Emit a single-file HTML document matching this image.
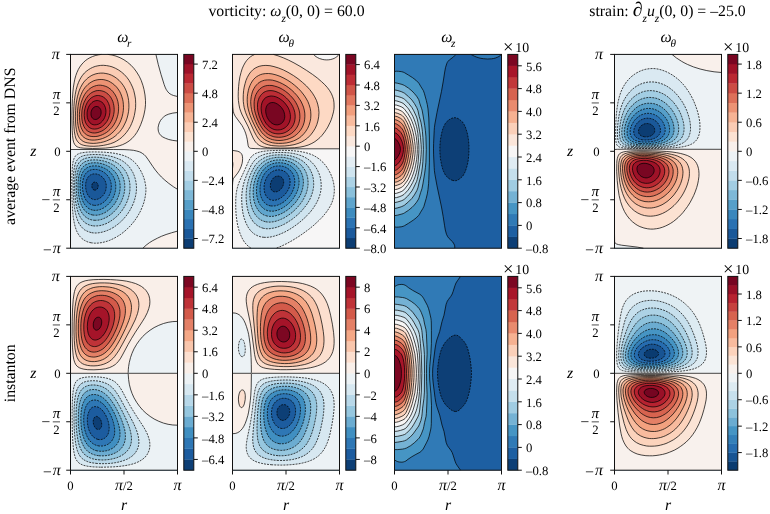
<!DOCTYPE html>
<html><head><meta charset="utf-8"><title>figure</title>
<style>
html,body{margin:0;padding:0;background:#fff}
svg{display:block;will-change:transform}
text{font-family:"Liberation Serif",serif;fill:#000;text-rendering:geometricPrecision}
.tk{font-size:12.7px}
.lb{font-size:15.8px}
.it{font-style:italic}
.pi{font-style:italic;font-size:16px}
.sub{font-size:11.2px}
.sp{fill:none;stroke:#111;stroke-width:1}
.tick{fill:none;stroke:#111;stroke-width:1}
.cl{fill:none;stroke:#000;stroke-width:.72;stroke-linejoin:round}
.cd{stroke-dasharray:2 1.05}
</style></head><body>
<svg width="770" height="514" viewBox="0 0 770 514">
<rect width="770" height="514" fill="#fff"/>
<g><rect x="70.5" y="54.4" width="107" height="193.8" fill="#0c3d73"/>
<path fill="#1a5899" fill-rule="evenodd" d="M70.5 248.2l107 0 0-193.8-107 0zM94.6 190.1l-0.7-0.2-0.7-0.4-0.6-0.7-0.7-1.8-0.1-1.8 0.4-1.2 0.4-0.7 0.4-0.5 0.9-0.6 0.7-0.1 0.6 0 0.7 0.2 0.7 0.3 0.8 0.8 0.6 1.2 0.2 1.8-0.3 1.5-0.7 1.1-0.6 0.6-0.7 0.4-0.7 0.1z"/>
<path fill="#2a71b2" fill-rule="evenodd" d="M70.5 248.2l107 0 0-193.8-107 0zM92.6 199.2l-2-1.1-1.4-1.2-1-1.4-1-1.8-0.9-2.4-0.5-2.5-0.2-3 0.1-2.4 0.5-2.4 0.7-1.8 1-1.9 1.3-1.4 1.4-1 2-0.8 1.3-0.2 2 0 2 0.5 1.4 0.5 1.1 0.6 2.2 1.8 1.3 1.5 1.3 2.2 0.8 2.4 0.3 2.4-0.2 2.4-0.5 2.5-1 2.4-1.3 2-2 2.1-2 1.3-2.1 0.8-1.3 0.3-1.3 0z"/>
<path fill="#3a87bd" fill-rule="evenodd" d="M70.5 248.2l107 0 0-193.8-107 0zM93.9 205.3l-1.3-0.3-1.4-0.4-2.1-1.2-1.9-1.8-1-1.2-1-1.7-1.3-3.2-0.8-3-0.6-3.7-0.1-4.2 0.4-3.6 0.7-3.1 1-2.5 1.4-2.1 0.7-0.8 1.3-1.1 2-1.1 1.3-0.5 1.4-0.3 2.6-0.1 1.4 0.1 2 0.4 2 0.6 1.3 0.6 2.7 1.7 2.4 2.1 1.8 2.4 0.7 1.3 0.8 1.8 0.8 3 0.2 1.8 0 1.8-0.1 1.8-0.3 1.9-0.5 1.8-0.7 1.8-0.9 1.8-0.8 1.4-1.2 1.6-1.1 1.3-1.3 1.2-1.5 1.2-1.6 1-1.4 0.6-2 0.6-1.3 0.3-1.4 0.1z"/>
<path fill="#569fc9" fill-rule="evenodd" d="M70.5 248.2l107 0 0-193.8-107 0zM92.6 210.1l-2-0.6-1.4-0.7-1.3-0.8-1.1-1-1.2-1.2-1.1-1.5-0.9-1.5-0.9-1.8-0.8-2.3-0.6-2-0.9-4.8-0.4-5.5 0.2-4.8 0.7-4.3 1-3.2 0.6-1.4 0.9-1.4 0.9-1.2 0.9-1 2-1.5 1.4-0.6 1.3-0.5 1.3-0.3 2-0.3 3.4 0 2 0.3 2 0.5 2 0.7 2 0.9 2 1.1 1.8 1.3 1.6 1.4 1.3 1.5 1 1.3 1.1 1.8 0.9 1.9 0.6 1.8 0.5 1.8 0.3 2.4 0.1 1.8-0.1 2.4-0.4 2.5-0.6 2.4-0.7 2-1 2.2-1.1 1.9-1.3 1.9-1.4 1.7-1.8 1.8-1.5 1.2-2 1.4-2 1-2 0.8-2 0.5-2 0.3-2-0.1z"/>
<path fill="#7eb8d7" fill-rule="evenodd" d="M70.5 248.2l107 0 0-193.8-107 0zM92.6 215l-2-0.5-1.4-0.6-2-1.2-1.3-1-1.4-1.4-1.3-1.8-1.2-2.1-0.8-1.7-0.9-2.5-0.7-2.4-1.1-5.6-0.3-3.5-0.2-3.1 0-3.6 0.2-3 0.6-4.9 1.1-3.8 1.3-2.9 0.7-1.1 1.3-1.6 1.3-1.1 1.4-0.9 2.7-1.1 2-0.5 2-0.3 4 0 2.7 0.3 2.6 0.6 2.7 0.9 2 0.8 2.7 1.4 2 1.4 1.5 1.3 1.8 1.8 1.4 1.8 1.2 1.8 0.9 1.8 0.9 2.5 0.7 2.4 0.3 2.4 0.2 2.4-0.1 2.4-0.4 3.1-0.6 2.4-0.8 2.4-1 2.4-1.3 2.5-1.5 2.4-1.9 2.3-2 2.1-2 1.7-2 1.5-2 1.2-2.7 1.2-2.6 0.8-2.1 0.4-2.6 0z"/>
<path fill="#a2cde3" fill-rule="evenodd" d="M70.5 248.2l107 0 0-193.8-107 0zM95.2 220.3l-2-0.1-2-0.4-2-0.6-2-1.1-2-1.4-1.3-1.3-1.4-1.7-1.2-1.8-1.2-2.5-0.9-2.3-1.4-4.9-0.6-3.4-0.5-3.3-0.3-3.6-0.2-4.3 0.1-6.6 0.3-3.1 0.4-3 0.5-2.4 0.7-2.4 0.7-1.8 1-1.9 1.3-1.8 1.2-1.2 1.5-1.1 1.3-0.7 2-0.7 2-0.5 2-0.4 2.7-0.1 2.7 0 3.3 0.4 3.4 0.6 2.6 0.8 3.1 1.1 2.5 1.2 2.5 1.5 2 1.6 1.9 1.8 1.6 1.8 1.6 2.4 1.3 2.4 1 2.4 0.8 3.1 0.4 2.4 0.2 3-0.1 3.1-0.4 3-0.7 3-1 3-1.3 3.1-1.6 3-1.7 2.5-2 2.5-2.1 2.3-2.6 2.3-2.7 1.9-2.7 1.5-2.6 1.2-2.7 0.9-2.7 0.5z"/>
<path fill="#c2ddec" fill-rule="evenodd" d="M70.5 248.2l107 0 0-193.8-107 0zM92.6 225.8l-2.7-0.6-2-0.8-2-1.1-2.2-1.7-1.8-2.1-1.4-1.9-1.3-2.6-1.3-3.4-1-3.4-0.9-4.2-0.6-4.2-0.5-4.9-0.2-4.8-0.1-5.5 0.2-4.8 0.3-4.9 0.8-4.8 0.6-2.3 0.7-2 0.7-1.3 1-1.7 1-1.2 1.4-1.2 1.2-0.8 2-1 2.1-0.6 2-0.4 2.6-0.3 2.7-0.2 2.7 0.1 3.3 0.2 4 0.6 3.4 0.8 3.3 1 2.7 1.1 2.7 1.3 2.6 1.7 2.4 1.9 1.8 1.9 2 2.4 1.5 2.4 1.2 2.4 1.2 3 0.7 3.1 0.5 3 0.1 3-0.1 3.7-0.6 3.6-0.9 3.6-1.3 3.7-1.4 3-2.1 3.6-2.1 3.1-2.2 2.6-2.7 2.7-2.9 2.5-3.1 2.1-3.3 1.9-2.7 1.2-3.3 1-2.7 0.5-3.4 0.2z"/>
<path fill="#dae9f2" fill-rule="evenodd" d="M70.5 248.2l107 0 0-193.8-107 0zM91.2 232.6l-2.6-0.8-2.7-1.2-1.4-0.8-1.3-1.1-2-2.1-1.9-2.6-1.4-2.9-1.2-3.2-1-3.6-1.1-5.5-0.7-6-0.5-7.3-0.2-7.3 0-7.8 0.4-6.7 0.5-4.8 0.9-4.3 0.6-1.8 0.9-1.8 0.8-1.2 1.2-1.4 1.4-1 1.3-0.8 2-0.8 2-0.5 2.7-0.4 3.3-0.3 3.4-0.1 4 0.1 4 0.3 4 0.6 3.4 0.6 3.3 0.8 3.3 1.2 3.4 1.4 2.6 1.5 2.5 1.8 2.1 1.8 2.2 2.4 1.7 2.5 1.8 3 1.3 3 1 3.1 0.7 3 0.5 3.6 0.1 3-0.2 3.7-0.6 3.6-0.9 3.6-1.2 3.7-1.6 3.6-1.9 3.6-1.9 3.1-2.2 3-2.7 3.1-2.9 3-3.1 2.5-3.3 2.4-3.4 1.9-3.3 1.5-3.4 1.2-3.3 0.8-3.4 0.5-3.3 0z"/>
<path fill="#edf2f5" fill-rule="evenodd" d="M70.5 248.2l107 0 0-193.8-107 0zM91.2 242.8l-3.3-0.8-2-0.9-1.4-0.7-1.3-0.8-1.3-1.1-2-2.1-1.9-2.7-1.5-3-1.3-3.8-1-4.1-1-6.3-0.7-7.7-0.5-10.3-0.2-11.5 0.1-10.3 0.4-8.4 0.3-3.1 0.4-3 0.4-1.8 0.6-1.8 0.9-1.8 0.9-1.2 1.4-1.1 1.3-0.7 1.9-0.7 2.1-0.4 2.7-0.4 3.4-0.3 5.3-0.1 5.4 0.1 5.3 0.2 5.4 0.5 4 0.5 4 0.8 3.3 0.8 3.4 1.1 3.2 1.5 2.8 1.6 2.5 2 2.5 2.4 2.4 3 2.3 3.7 1.8 3.6 1.5 3.6 1.1 3.7 0.7 3.6 0.4 3 0 3.7-0.4 3.6-0.6 3.6-1.1 4.3-1.3 3.6-1.8 4.3-2.3 4.2-2.2 3.6-2.7 3.7-3.1 3.6-3 3-3.4 3-3.2 2.5-3.5 2.2-4 2.2-4 1.8-4 1.3-3.4 0.8-4 0.5-3.3 0.1z"/>
<path fill="#f9f0eb" fill-rule="evenodd" d="M142.9 248.2l34.6 0 0-17.1-6 1.7-5.4 1.7-4.7 1.8-4 1.9-4.6 2.4-3.4 2.1-3.3 2.5zM70.5 207l0-57.5 43.2 0 10.3 0.1 5.4 0.3 4 0.4 3.3 0.7 2.7 0.8 1.6 0.7 1.7 1.1 1.4 1 1.5 1.5 2.3 3.1 4.9 7.3 2.6 3.6 2.7 3.3 3.3 3.6 3.4 3.1 4 3.3 4.7 3.4 4 2.5 0-48.3-4.7-0.6-4-0.9-3.3-1.2-2.7-1.3-1.9-1.4-1.5-1.9-0.5-1.2-0.5-1.2-0.3-2.4 0-1.2 0.3-1.8 0.5-1.9 0.7-1.8 1-1.8 0.8-1.2 2.1-2.1 1.3-1.1 1.3-0.8 2.7-1.1 4-1 4.7-0.6 0-16-4-1-2-0.8-1.4-0.8-1-0.7-1.2-1.3-0.9-1.2-0.9-1.4-1-2.2-1-2.7-3.1-10-2.7-9.7-2.4-10.3-85.4 0z"/>
<path fill="#fce2d2" fill-rule="evenodd" d="M84.5 148.3l6.1 0.2 7.3-0.1 6-0.2 5.8-0.5 4.2-0.6 3.4-0.7 3.8-1.2 2.9-1.2 3.3-1.8 2.6-1.8 2.6-2.4 2.1-2.4 2.2-3.1 1.7-3 1.7-3.6 1.7-4.3 1.7-5.4 1.1-4.9 0.7-4.8 0.2-4.3-0.4-5.4-0.8-5.5-1.1-4.8-1.6-4.8-1.9-4.3-2.4-4.2-2.7-3.9-3-3.4-3.4-3-3.6-2.7-4-2.2-4.1-1.7-3.3-1-4-0.7-1.5-0.2-6.4 0-2.8 0.4-2.7 0.6-2 0.6-2.7 1.1-2.6 1.4-2.7 1.8-2 1.7-2 2.1-1.8 2.4-1.5 2.4-1.2 2.5-1.2 3-1.4 4.8-1 5.1-0.8 6.4-0.6 7.9-0.4 10.3-0.1 10.9 0.2 9.7 0.5 7.3 0.6 3.4 0.6 2.5 1 1.9 1 1.2 1.4 1 2 0.7 2 0.4z"/>
<path fill="#fbccb4" fill-rule="evenodd" d="M86.1 145.8l3.8 0.4 4 0.1 4.7-0.3 4.7-0.6 3.9-0.8 3.4-0.9 3.4-1.3 2.6-1.4 2.9-1.8 2.3-1.8 2.5-2.5 2.1-2.4 2.1-3 1.8-3 1.4-3.1 1.4-3.6 1.2-4.2 0.7-3.7 0.6-4.2 0.1-4.2-0.2-4.3-0.7-4.2-1-4.3-1.3-3.6-1.7-3.6-1.7-3.1-2.2-3-2.7-3-2.8-2.4-2.8-2-3.3-1.8-3.3-1.4-2.7-0.7-2.7-0.5-3.3-0.3-2.7 0.1-2.7 0.4-2.7 0.6-2.6 1-2 1-2 1.2-2.4 1.8-1.7 1.5-2 2.4-1.3 1.9-1.5 2.6-1.2 2.6-1.1 2.9-1.2 4.2-1 5.2-0.8 5.7-0.5 6.1-0.3 6.6 0 7.3 0.3 6.1 0.5 5.4 0.7 3.7 0.6 2.4 0.8 1.9 1.4 2 1.5 1.5 1.8 1.1 2 0.7z"/>
<path fill="#f6b394" fill-rule="evenodd" d="M87.2 142.8l2.7 0.4 3.3 0.2 3.4-0.2 4-0.6 3.3-0.8 2.7-0.9 3.4-1.5 2.5-1.4 2.6-1.8 2.1-1.9 2.4-2.4 1.9-2.4 1.6-2.4 1.6-3.1 1.4-3 1-3 0.8-3 0.7-3.7 0.3-3.6 0-3.6-0.3-3.7-0.5-3-0.9-3.6-1.1-3.1-1.4-2.9-1.5-2.5-1.9-2.5-2.2-2.4-2.5-2.1-2.6-1.8-2.7-1.4-2.7-1-2.7-0.6-2.6-0.4-2.7 0-2 0.2-2.7 0.5-2 0.7-2 0.8-2 1.2-2 1.4-1.3 1.2-1.9 1.9-1.5 1.9-1.3 2.1-1.4 2.6-1.1 2.5-0.9 2.7-1.1 4-0.8 4.2-0.7 4.9-0.3 4.8-0.2 5.5 0.1 4.8 0.3 4.9 0.6 3.6 0.6 3 0.8 2.4 0.9 1.9 1.2 1.8 1.3 1.4 2 1.4 2 0.9z"/>
<path fill="#ec9374" fill-rule="evenodd" d="M89.6 139.8l2.3 0.3 2.7 0 2.6-0.3 2.7-0.5 2.7-0.8 2.7-1.1 2.4-1.2 2.3-1.5 1.9-1.6 2-1.8 1.6-1.8 1.8-2.4 1.5-2.4 1.3-2.5 1-2.4 1-3 0.7-3 0.5-3.1 0.2-3-0.1-3-0.3-3.1-0.5-2.4-0.9-3-0.9-2.4-1.2-2.5-1.6-2.4-1.4-1.8-2-2-2-1.6-2-1.3-2.2-1.2-2.5-0.8-2-0.5-2-0.2-2 0-2 0.2-2 0.4-2 0.6-2 1-2 1.2-2 1.6-1.3 1.3-1.4 1.5-1.6 2.2-1.1 1.9-1.3 2.9-1 2.5-0.7 2.4-0.9 3.6-0.6 3.7-0.4 3.6-0.2 3.7 0 4.2 0.1 3.6 0.5 3.7 0.6 3 0.7 2.4 1.1 2.4 0.8 1.5 1.3 1.6 1.4 1.2 1.9 1.2 2.1 0.8z"/>
<path fill="#dd7059" fill-rule="evenodd" d="M89.9 136.2l2 0.3 2 0.1 2-0.1 2.1-0.3 2.6-0.8 2-0.8 2-1 2-1.2 2-1.6 1.4-1.3 1.7-1.8 1.4-1.8 1.2-1.9 1.3-2.4 1-2.4 0.8-2.4 0.6-2.4 0.4-2.5 0.2-3 0-2.4-0.3-2.4-0.4-2.5-0.7-2.4-0.7-1.8-1.2-2.4-1.2-1.8-1.4-1.9-1.4-1.4-1.3-1.1-2-1.4-2.1-1-2-0.6-1.3-0.3-2-0.3-2 0-2 0.3-2 0.6-1.4 0.5-2 1.1-1.3 0.9-1.3 1.1-1.4 1.4-1.3 1.6-1.4 2-1.9 3.9-1.5 4.2-0.6 2.5-0.5 3-0.4 3-0.2 3.1 0.1 3 0.2 3 0.3 2.4 0.5 2.7 0.7 2.2 0.8 1.8 1 1.8 0.9 1.2 1.3 1.3 1.4 1 1.3 0.7z"/>
<path fill="#cc4c44" fill-rule="evenodd" d="M90.9 132.5l1.7 0.4 2 0.1 1.3-0.1 2-0.4 1.8-0.6 1.6-0.6 2-1.1 1.3-0.9 1.3-1.1 1.8-1.7 2.3-3.1 1.1-1.8 0.9-1.8 1.3-3.6 0.4-1.8 0.4-2.5 0.1-2.4-0.1-1.8-0.3-2.4-0.4-1.8-0.5-1.9-0.8-1.8-0.8-1.6-0.9-1.4-1.1-1.4-1.3-1.3-1.4-1.1-1.3-0.8-1.4-0.7-2-0.6-2.6-0.4-2.1 0.1-1.3 0.2-2.7 1-1.3 0.7-1.3 0.9-1.4 1.1-1.3 1.4-2 2.8-1.8 3.5-1.2 3.7-0.9 4.2-0.3 4.9 0.2 4.2 0.4 2.4 0.4 1.8 1.2 3.1 1.1 1.8 0.9 1.2 1.3 1.2 0.9 0.6 1.1 0.6z"/>
<path fill="#ba2832" fill-rule="evenodd" d="M92.5 128.9l2.1 0.2 2.6-0.3 2.7-1 1.4-0.7 1.3-0.9 2.3-2.2 1.9-2.4 1.6-3 1-3 0.5-3.1 0.1-3-0.4-3-1-3.1-1.3-2.5-0.8-1.1-1.2-1.3-2-1.5-1.4-0.7-1.3-0.4-2-0.4-1.4 0-1.3 0.2-1.3 0.4-1.4 0.6-2 1.2-2 1.9-1.8 2.4-1.5 3.1-0.9 3-0.7 3.6-0.1 3.7 0.4 3.6 0.8 3 1.2 2.3 1.5 2 1.8 1.4 1.3 0.6z"/>
<path fill="#9f1228" fill-rule="evenodd" d="M93.1 124.7l1.5 0.2 2-0.2 2-0.6 2-1.2 1.9-1.9 1.3-1.8 0.9-1.8 0.8-2.4 0.4-2.5 0-2.4-0.5-2.4-0.8-2.1-1.3-2.1-1.4-1.3-1.3-0.8-2-0.7-1.4-0.2-2 0.3-2 0.8-1.3 1-1.3 1.3-1.4 1.9-0.9 1.9-0.8 2.4-0.4 2.4 0 2.5 0.2 2.4 0.6 2 0.8 1.6 1.2 1.7 1.3 1.1z"/>
<path fill="#790622" fill-rule="evenodd" d="M93.9 119.2l0.7 0.2 1.3 0.1 1.1-0.3 0.9-0.5 1-0.7 1-1.2 0.6-1.2 0.4-1.2 0.2-1.3 0-1.2-0.1-1.2-0.4-1.2-0.7-1.2-0.6-0.7-0.7-0.6-1.4-0.5-1.3 0-0.7 0.1-1.3 0.7-0.7 0.5-0.8 1.1-0.7 1.2-0.4 1.2-0.3 1.2 0 1.3 0 1.2 0.3 1.2 0.6 1.2 0.4 0.6 0.9 0.8z"/>
<path class="cl" d="M70.5 248.2l0-3.7M177.5 231.1l-6 1.7-5.4 1.7-4.7 1.8-4 1.9-4.6 2.4-3.4 2.1-3.3 2.5-3.2 3M70.5 207.1l0-57.6 43.2 0 10.3 0.1 5.4 0.3 4 0.4 3.3 0.7 2.7 0.8 1.6 0.7 1.7 1.1 1.4 1 1.5 1.5 2.3 3.1 4.9 7.3 2.6 3.6 2.7 3.3 3.3 3.6 3.4 3.1 4 3.3 4.7 3.4 4 2.5M177.5 141l-4.7-0.6-4-0.9-3.3-1.2-2.7-1.3-1.9-1.4-1.5-1.9-0.5-1.2-0.5-1.2-0.3-2.4 0-1.2 0.3-1.8 0.5-1.9 0.7-1.8 1-1.8 0.8-1.2 2.1-2.1 1.3-1.1 1.3-0.8 2.7-1.1 4-1 4.7-0.6M177.5 96.5l-4-1-2-0.8-1.4-0.8-1-0.7-1.2-1.3-0.9-1.2-0.9-1.4-1-2.2-1-2.7-3.1-10-2.7-9.7-2.4-10.3M101.4 54.4l-2.8 0.4-3.4 0.8-2.6 0.9-2.7 1.2-2.7 1.6-2 1.5-2 1.9-2 2.3-1.5 2.1-1.4 2.4-1.4 3.1-1.1 3-1 3.6-0.7 3.7-0.7 4.2-0.5 4.8-0.5 6.7-0.3 7.9-0.2 9.1 0.1 8.4 0.2 6.7 0.3 4.9 0.6 4.2 0.7 2.9 1 1.9 1 1.2 1.4 1 1.3 0.5 2 0.5 3.4 0.4 8.7 0.3 7.3-0.2 5.4-0.2 4.7-0.5 5.3-0.8 3.9-1 3.5-1.2 3.3-1.6 3.1-2 2.8-2.4 2.7-3 2.2-3.1 2-3.6 1.9-4.2 1.8-4.9 1.4-4.8 1.1-5.5 0.5-4.8 0-4.3-0.5-5.4-1-5.5-1.1-4.2-1.7-4.9-2-4.2-2.6-4.2-2.6-3.5-2.9-3.2-3.5-3-3.6-2.5-4-2.1-4-1.6-4-1.1-4.2-0.6M86.1 145.8l3.8 0.4 4 0.1 4.7-0.3 4.7-0.6 3.9-0.8 3.4-0.9 3.4-1.3 2.6-1.4 2.9-1.8 2.3-1.8 2.5-2.5 2.1-2.4 2.1-3 1.8-3 1.4-3.1 1.4-3.6 1.2-4.2 0.7-3.7 0.6-4.2 0.1-4.2-0.2-4.3-0.7-4.2-1-4.3-1.3-3.6-1.7-3.6-1.7-3.1-2.2-3-2.7-3-2.8-2.4-2.8-2-3.3-1.8-3.3-1.4-2.7-0.7-2.7-0.5-3.3-0.3-2.7 0.1-2.7 0.4-2.7 0.6-2.6 1-2 1-2 1.2-2.4 1.8-1.7 1.5-2 2.4-1.3 1.9-1.5 2.6-1.2 2.6-1.1 2.9-1.2 4.2-1 5.2-0.8 5.7-0.5 6.1-0.3 6.6 0 7.3 0.3 6.1 0.5 5.4 0.7 3.7 0.6 2.4 0.8 1.9 1.4 2 1.5 1.5 1.8 1.1 2 0.7zM87.2 142.8l2.7 0.4 3.3 0.2 3.4-0.2 4-0.6 3.3-0.8 2.7-0.9 3.4-1.5 2.5-1.4 2.6-1.8 2.1-1.9 2.4-2.4 1.9-2.4 1.6-2.4 1.6-3.1 1.4-3 1-3 0.8-3 0.7-3.7 0.3-3.6 0-3.6-0.3-3.7-0.5-3-0.9-3.6-1.1-3.1-1.4-2.9-1.5-2.5-1.9-2.5-2.2-2.4-2.5-2.1-2.6-1.8-2.7-1.4-2.7-1-2.7-0.6-2.6-0.4-2.7 0-2 0.2-2.7 0.5-2 0.7-2 0.8-2 1.2-2 1.4-1.3 1.2-1.9 1.9-1.5 1.9-1.3 2.1-1.4 2.6-1.1 2.5-0.9 2.7-1.1 4-0.8 4.2-0.7 4.9-0.3 4.8-0.2 5.5 0.1 4.8 0.3 4.9 0.6 3.6 0.6 3 0.8 2.4 0.9 1.9 1.2 1.8 1.3 1.4 2 1.4 2 0.9zM89.6 139.8l2.3 0.3 2.7 0 2.6-0.3 2.7-0.5 2.7-0.8 2.7-1.1 2.4-1.2 2.3-1.5 1.9-1.6 2-1.8 1.6-1.8 1.8-2.4 1.5-2.4 1.3-2.5 1-2.4 1-3 0.7-3 0.5-3.1 0.2-3-0.1-3-0.3-3.1-0.5-2.4-0.9-3-0.9-2.4-1.2-2.5-1.6-2.4-1.4-1.8-2-2-2-1.6-2-1.3-2.2-1.2-2.5-0.8-2-0.5-2-0.2-2 0-2 0.2-2 0.4-2 0.6-2 1-2 1.2-2 1.6-1.3 1.3-1.4 1.5-1.6 2.2-1.1 1.9-1.3 2.9-1 2.5-0.7 2.4-0.9 3.6-0.6 3.7-0.4 3.6-0.2 3.7 0 4.2 0.1 3.6 0.5 3.7 0.6 3 0.7 2.4 1.1 2.4 0.8 1.5 1.3 1.6 1.4 1.2 1.9 1.2 2.1 0.8zM89.9 136.2l2 0.3 2 0.1 2-0.1 2.1-0.3 2.6-0.8 2-0.8 2-1 2-1.2 2-1.6 1.4-1.3 1.7-1.8 1.4-1.8 1.2-1.9 1.3-2.4 1-2.4 0.8-2.4 0.6-2.4 0.4-2.5 0.2-3 0-2.4-0.3-2.4-0.4-2.5-0.7-2.4-0.7-1.8-1.2-2.4-1.2-1.8-1.4-1.9-1.4-1.4-1.3-1.1-2-1.4-2.1-1-2-0.6-1.3-0.3-2-0.3-2 0-2 0.3-2 0.6-1.4 0.5-2 1.1-1.3 0.9-1.3 1.1-1.4 1.4-1.3 1.6-1.4 2-1.9 3.9-1.5 4.2-0.6 2.5-0.5 3-0.4 3-0.2 3.1 0.1 3 0.2 3 0.3 2.4 0.5 2.7 0.7 2.2 0.8 1.8 1 1.8 0.9 1.2 1.3 1.3 1.4 1 1.3 0.7zM90.9 132.5l1.7 0.4 2 0.1 1.3-0.1 2-0.4 1.8-0.6 1.6-0.6 2-1.1 1.3-0.9 1.3-1.1 1.8-1.7 2.3-3.1 1.1-1.8 0.9-1.8 1.3-3.6 0.4-1.8 0.4-2.5 0.1-2.4-0.1-1.8-0.3-2.4-0.4-1.8-0.5-1.9-0.8-1.8-0.8-1.6-0.9-1.4-1.1-1.4-1.3-1.3-1.4-1.1-1.3-0.8-1.4-0.7-2-0.6-2.6-0.4-2.1 0.1-1.3 0.2-2.7 1-1.3 0.7-1.3 0.9-1.4 1.1-1.3 1.4-2 2.8-1.8 3.5-1.2 3.7-0.9 4.2-0.3 4.9 0.2 4.2 0.4 2.4 0.4 1.8 1.2 3.1 1.1 1.8 0.9 1.2 1.3 1.2 0.9 0.6 1.1 0.6zM92.5 128.9l2.1 0.2 2.6-0.3 2.7-1 1.4-0.7 1.3-0.9 2.3-2.2 1.9-2.4 1.6-3 1-3 0.5-3.1 0.1-3-0.4-3-1-3.1-1.3-2.5-0.8-1.1-1.2-1.3-2-1.5-1.4-0.7-1.3-0.4-2-0.4-1.4 0-1.3 0.2-1.3 0.4-1.4 0.6-2 1.2-2 1.9-1.8 2.4-1.5 3.1-0.9 3-0.7 3.6-0.1 3.7 0.4 3.6 0.8 3 1.2 2.3 1.5 2 1.8 1.4 1.3 0.6zM93.1 124.7l1.5 0.2 2-0.2 2-0.6 2-1.2 1.9-1.9 1.3-1.8 0.9-1.8 0.8-2.4 0.4-2.5 0-2.4-0.5-2.4-0.8-2.1-1.3-2.1-1.4-1.3-1.3-0.8-2-0.7-1.4-0.2-2 0.3-2 0.8-1.3 1-1.3 1.3-1.4 1.9-0.9 1.9-0.8 2.4-0.4 2.4 0 2.5 0.2 2.4 0.6 2 0.8 1.6 1.2 1.7 1.3 1.1zM93.9 119.2l0.7 0.2 1.3 0.1 1.1-0.3 0.9-0.5 1-0.7 1-1.2 0.6-1.2 0.4-1.2 0.2-1.3 0-1.2-0.1-1.2-0.4-1.2-0.7-1.2-0.6-0.7-0.7-0.6-1.4-0.5-1.3 0-0.7 0.1-1.3 0.7-0.7 0.5-0.8 1.1-0.7 1.2-0.4 1.2-0.3 1.2 0 1.3 0 1.2 0.3 1.2 0.6 1.2 0.4 0.6 0.9 0.8z"/>
<path class="cl cd" d="M94.6 190.1l-0.7-0.2-0.7-0.4-0.6-0.7-0.7-1.8-0.1-1.8 0.4-1.2 0.4-0.7 0.4-0.5 0.9-0.6 0.7-0.1 0.6 0 0.7 0.2 0.7 0.3 0.8 0.8 0.6 1.2 0.2 1.8-0.3 1.5-0.7 1.1-0.6 0.6-0.7 0.4-0.7 0.1zM92.6 199.2l-2-1.1-1.4-1.2-1-1.4-1-1.8-0.9-2.4-0.5-2.5-0.2-3 0.1-2.4 0.5-2.4 0.7-1.8 1-1.9 1.3-1.4 1.4-1 2-0.8 1.3-0.2 2 0 2 0.5 1.4 0.5 1.1 0.6 2.2 1.8 1.3 1.5 1.3 2.2 0.8 2.4 0.3 2.4-0.2 2.4-0.5 2.5-1 2.4-1.3 2-2 2.1-2 1.3-2.1 0.8-1.3 0.3-1.3 0zM93.9 205.3l-1.3-0.3-1.4-0.4-2.1-1.2-1.9-1.8-1-1.2-1-1.7-1.3-3.2-0.8-3-0.6-3.7-0.1-4.2 0.4-3.6 0.7-3.1 1-2.5 1.4-2.1 0.7-0.8 1.3-1.1 2-1.1 1.3-0.5 1.4-0.3 2.6-0.1 1.4 0.1 2 0.4 2 0.6 1.3 0.6 2.7 1.7 2.4 2.1 1.8 2.4 0.7 1.3 0.8 1.8 0.8 3 0.2 1.8 0 1.8-0.1 1.8-0.3 1.9-0.5 1.8-0.7 1.8-0.9 1.8-0.8 1.4-1.2 1.6-1.1 1.3-1.3 1.2-1.5 1.2-1.6 1-1.4 0.6-2 0.6-1.3 0.3-1.4 0.1zM92.6 210.1l-2-0.6-1.4-0.7-1.3-0.8-1.1-1-1.2-1.2-1.1-1.5-0.9-1.5-0.9-1.8-0.8-2.3-0.6-2-0.9-4.8-0.4-5.5 0.2-4.8 0.7-4.3 1-3.2 0.6-1.4 0.9-1.4 0.9-1.2 0.9-1 2-1.5 1.4-0.6 1.3-0.5 1.3-0.3 2-0.3 3.4 0 2 0.3 2 0.5 2 0.7 2 0.9 2 1.1 1.8 1.3 1.6 1.4 1.3 1.5 1 1.3 1.1 1.8 0.9 1.9 0.6 1.8 0.5 1.8 0.3 2.4 0.1 1.8-0.1 2.4-0.4 2.5-0.6 2.4-0.7 2-1 2.2-1.1 1.9-1.3 1.9-1.4 1.7-1.8 1.8-1.5 1.2-2 1.4-2 1-2 0.8-2 0.5-2 0.3-2-0.1zM92.6 215l-2-0.5-1.4-0.6-2-1.2-1.3-1-1.4-1.4-1.3-1.8-1.2-2.1-0.8-1.7-0.9-2.5-0.7-2.4-1.1-5.6-0.3-3.5-0.2-3.1 0-3.6 0.2-3 0.6-4.9 1.1-3.8 1.3-2.9 0.7-1.1 1.3-1.6 1.3-1.1 1.4-0.9 2.7-1.1 2-0.5 2-0.3 4 0 2.7 0.3 2.6 0.6 2.7 0.9 2 0.8 2.7 1.4 2 1.4 1.5 1.3 1.8 1.8 1.4 1.8 1.2 1.8 0.9 1.8 0.9 2.5 0.7 2.4 0.3 2.4 0.2 2.4-0.1 2.4-0.4 3.1-0.6 2.4-0.8 2.4-1 2.4-1.3 2.5-1.5 2.4-1.9 2.3-2 2.1-2 1.7-2 1.5-2 1.2-2.7 1.2-2.6 0.8-2.1 0.4-2.6 0zM95.2 220.3l-2-0.1-2-0.4-2-0.6-2-1.1-2-1.4-1.3-1.3-1.4-1.7-1.2-1.8-1.2-2.5-0.9-2.3-1.4-4.9-0.6-3.4-0.5-3.3-0.3-3.6-0.2-4.3 0.1-6.6 0.3-3.1 0.4-3 0.5-2.4 0.7-2.4 0.7-1.8 1-1.9 1.3-1.8 1.2-1.2 1.5-1.1 1.3-0.7 2-0.7 2-0.5 2-0.4 2.7-0.1 2.7 0 3.3 0.4 3.4 0.6 2.6 0.8 3.1 1.1 2.5 1.2 2.5 1.5 2 1.6 1.9 1.8 1.6 1.8 1.6 2.4 1.3 2.4 1 2.4 0.8 3.1 0.4 2.4 0.2 3-0.1 3.1-0.4 3-0.7 3-1 3-1.3 3.1-1.6 3-1.7 2.5-2 2.5-2.1 2.3-2.6 2.3-2.7 1.9-2.7 1.5-2.6 1.2-2.7 0.9-2.7 0.5zM92.6 225.8l-2.7-0.6-2-0.8-2-1.1-2.2-1.7-1.8-2.1-1.4-1.9-1.3-2.6-1.3-3.4-1-3.4-0.9-4.2-0.6-4.2-0.5-4.9-0.2-4.8-0.1-5.5 0.2-4.8 0.3-4.9 0.8-4.8 0.6-2.3 0.7-2 0.7-1.3 1-1.7 1-1.2 1.4-1.2 1.2-0.8 2-1 2.1-0.6 2-0.4 2.6-0.3 2.7-0.2 2.7 0.1 3.3 0.2 4 0.6 3.4 0.8 3.3 1 2.7 1.1 2.7 1.3 2.6 1.7 2.4 1.9 1.8 1.9 2 2.4 1.5 2.4 1.2 2.4 1.2 3 0.7 3.1 0.5 3 0.1 3-0.1 3.7-0.6 3.6-0.9 3.6-1.3 3.7-1.4 3-2.1 3.6-2.1 3.1-2.2 2.6-2.7 2.7-2.9 2.5-3.1 2.1-3.3 1.9-2.7 1.2-3.3 1-2.7 0.5-3.4 0.2zM91.2 232.6l-2.6-0.8-2.7-1.2-1.4-0.8-1.3-1.1-2-2.1-1.9-2.6-1.4-2.9-1.2-3.2-1-3.6-1.1-5.5-0.7-6-0.5-7.3-0.2-7.3 0-7.8 0.4-6.7 0.5-4.8 0.9-4.3 0.6-1.8 0.9-1.8 0.8-1.2 1.2-1.4 1.4-1 1.3-0.8 2-0.8 2-0.5 2.7-0.4 3.3-0.3 3.4-0.1 4 0.1 4 0.3 4 0.6 3.4 0.6 3.3 0.8 3.3 1.2 3.4 1.4 2.6 1.5 2.5 1.8 2.1 1.8 2.2 2.4 1.7 2.5 1.8 3 1.3 3 1 3.1 0.7 3 0.5 3.6 0.1 3-0.2 3.7-0.6 3.6-0.9 3.6-1.2 3.7-1.6 3.6-1.9 3.6-1.9 3.1-2.2 3-2.7 3.1-2.9 3-3.1 2.5-3.3 2.4-3.4 1.9-3.3 1.5-3.4 1.2-3.3 0.8-3.4 0.5-3.3 0zM91.2 242.8l-3.3-0.8-2-0.9-1.4-0.7-1.3-0.8-1.3-1.1-2-2.1-1.9-2.7-1.5-3-1.3-3.8-1-4.1-1-6.3-0.7-7.7-0.5-10.3-0.2-11.5 0.1-10.3 0.4-8.4 0.3-3.1 0.4-3 0.4-1.8 0.6-1.8 0.9-1.8 0.9-1.2 1.4-1.1 1.3-0.7 1.9-0.7 2.1-0.4 2.7-0.4 3.4-0.3 5.3-0.1 5.4 0.1 5.3 0.2 5.4 0.5 4 0.5 4 0.8 3.3 0.8 3.4 1.1 3.2 1.5 2.8 1.6 2.5 2 2.5 2.4 2.4 3 2.3 3.7 1.8 3.6 1.5 3.6 1.1 3.7 0.7 3.6 0.4 3 0 3.7-0.4 3.6-0.6 3.6-1.1 4.3-1.3 3.6-1.8 4.3-2.3 4.2-2.2 3.6-2.7 3.7-3.1 3.6-3 3-3.4 3-3.2 2.5-3.5 2.2-4 2.2-4 1.8-4 1.3-3.4 0.8-4 0.5-3.3 0.1z"/></g>
<rect class="sp" x="70.5" y="54.4" width="107" height="193.8"/>
<rect x="183.8" y="238.36" width="10" height="9.99" fill="#0c3d73"/>
<rect x="183.8" y="228.67" width="10" height="9.99" fill="#1a5899"/>
<rect x="183.8" y="218.98" width="10" height="9.99" fill="#2a71b2"/>
<rect x="183.8" y="209.29" width="10" height="9.99" fill="#3a87bd"/>
<rect x="183.8" y="199.60" width="10" height="9.99" fill="#569fc9"/>
<rect x="183.8" y="189.91" width="10" height="9.99" fill="#7eb8d7"/>
<rect x="183.8" y="180.22" width="10" height="9.99" fill="#a2cde3"/>
<rect x="183.8" y="170.53" width="10" height="9.99" fill="#c2ddec"/>
<rect x="183.8" y="160.84" width="10" height="9.99" fill="#dae9f2"/>
<rect x="183.8" y="151.15" width="10" height="9.99" fill="#edf2f5"/>
<rect x="183.8" y="141.46" width="10" height="9.99" fill="#f9f0eb"/>
<rect x="183.8" y="131.77" width="10" height="9.99" fill="#fce2d2"/>
<rect x="183.8" y="122.08" width="10" height="9.99" fill="#fbccb4"/>
<rect x="183.8" y="112.39" width="10" height="9.99" fill="#f6b394"/>
<rect x="183.8" y="102.70" width="10" height="9.99" fill="#ec9374"/>
<rect x="183.8" y="93.01" width="10" height="9.99" fill="#dd7059"/>
<rect x="183.8" y="83.32" width="10" height="9.99" fill="#cc4c44"/>
<rect x="183.8" y="73.63" width="10" height="9.99" fill="#ba2832"/>
<rect x="183.8" y="63.94" width="10" height="9.99" fill="#9f1228"/>
<rect x="183.8" y="54.25" width="10" height="9.99" fill="#790622"/>
<rect class="sp" x="183.8" y="54.4" width="10" height="193.8"/>
<text class="tk" x="202.1" y="68.79">7.2</text>
<text class="tk" x="202.1" y="97.86">4.8</text>
<text class="tk" x="202.1" y="126.93">2.4</text>
<text class="tk" x="202.1" y="156.00">0</text>
<text class="tk" x="202.1" y="185.07">–2.4</text>
<text class="tk" x="202.1" y="214.14">–4.8</text>
<text class="tk" x="202.1" y="243.21">–7.2</text>
<path class="tick" d="M193.8 64.09h4M193.8 93.16h4M193.8 122.23h4M193.8 151.30h4M193.8 180.37h4M193.8 209.44h4M193.8 238.51h4"/>
<path class="tick" d="M70.5 54.40h-4.3M70.5 102.85h-4.3M70.5 151.30h-4.3M70.5 199.75h-4.3M70.5 248.20h-4.3"/>
<text class="tk pi" text-anchor="end" x="59.7" y="58.70">π</text>
<text class="tk" text-anchor="end" x="60.7" y="155.65">0</text>
<text class="tk pi" text-anchor="end" x="60.7" y="252.50">π</text>
<path class="tick" d="M43.7 249.80h7.3" style="stroke-width:.8"/>
<text class="tk pi" style="font-size:15px" text-anchor="middle" x="56.4" y="98.85">π</text>
<path class="tick" d="M52.8 102.95h7.2" style="stroke-width:.75"/>
<text class="tk" text-anchor="middle" x="56.4" y="115.05">2</text>
<text class="tk pi" style="font-size:15px" text-anchor="middle" x="56.4" y="195.75">π</text>
<path class="tick" d="M52.8 199.85h7.2" style="stroke-width:.75"/>
<text class="tk" text-anchor="middle" x="56.4" y="211.95">2</text>
<path class="tick" d="M42.2 199.65h7.3" style="stroke-width:.8"/>
<text class="lb it" text-anchor="middle" x="33.3" y="156.30">z</text>
<g><rect x="232.5" y="54.4" width="107" height="193.8" fill="#0c3d73"/>
<path fill="#1b5a9c" fill-rule="evenodd" d="M232.5 248.2l107 0 0-193.8-107 0zM274.6 191.9l-1.3-0.4-0.7-0.4-1-1-0.7-1.3-0.4-1.2-0.2-1.8 0.2-1.8 0.4-1.8 0.8-1.8 0.7-1.2 1.1-1.3 1.1-0.8 1.4-0.7 1.3-0.3 1.3 0 1.4 0.3 0.8 0.3 1.2 1 0.7 0.9 0.6 1.2 0.3 1.2 0.1 1.2-0.1 1.2-0.4 1.8-0.5 1.2-0.7 1.3-0.9 1.1-1.2 1.3-1.3 0.8-1.3 0.7-1.3 0.3z"/>
<path fill="#2b73b3" fill-rule="evenodd" d="M232.5 248.2l107 0 0-193.8-107 0zM270.6 199.8l-2-1-1-0.9-1-1.1-1.3-2.4-0.8-2.5-0.4-3.1 0-3 0.5-3 0.6-1.8 0.7-1.8 1.4-2.7 1.6-2.2 2-1.8 2.4-1.5 2.7-0.9 2.6-0.3 2.6 0.3 2.1 0.7 2 1.1 2 1.8 1.4 2 0.9 2.2 0.5 2.5 0 3-0.5 3-0.9 2.4-1.4 2.5-2 2.8-2 2-2.7 2-2.6 1.3-2.7 0.8-1.3 0.1-1.4 0z"/>
<path fill="#3e8cbf" fill-rule="evenodd" d="M232.5 248.2l107 0 0-193.8-107 0zM270.6 205.9l-2-0.5-1.3-0.6-1.4-0.8-1.3-1.2-1.1-1.2-0.9-1.4-0.9-1.7-0.7-1.8-0.5-1.8-0.4-2.4-0.1-1.8 0-2.5 0.2-2.4 0.4-2.4 0.6-2.4 0.6-1.8 1.6-3.7 1.2-1.9 1.3-1.7 1.4-1.4 1.2-1 2.8-1.8 1.5-0.7 1.8-0.6 3.4-0.5 3.3 0.1 2 0.4 1.4 0.5 1.3 0.5 1.6 0.9 2.4 1.8 1.1 1.2 0.9 1.2 0.8 1.2 0.9 1.8 0.8 3.1 0.3 1.8 0 1.8-0.2 3-1 3.6-1.6 3.7-2 3.2-2.7 3.1-1.6 1.6-1.7 1.4-3.4 2.1-3.3 1.4-2 0.5-1.3 0.2-2 0z"/>
<path fill="#5fa5cd" fill-rule="evenodd" d="M232.5 248.2l107 0 0-193.8-107 0zM267.9 210.8l-1.9-0.8-1.4-0.7-2-1.5-1.3-1.4-1.4-1.8-1-1.8-0.7-1.8-0.8-2.5-0.5-2.4-0.4-3 0-2.4 0.1-3.1 0.4-3 0.5-2.4 0.8-3 1-2.5 2-3.8 1.3-2 1.3-1.6 1.7-1.6 1.6-1.3 1.4-0.9 2-1 2-0.8 2-0.5 2.4-0.4 2.3-0.1 2.2 0.1 2.5 0.4 2 0.5 2 0.8 1.5 0.7 1.9 1.2 1.5 1.3 1.2 1.2 1.3 1.4 1 1.6 1 1.8 0.7 1.8 0.5 1.8 0.3 1.9 0.2 1.8-0.1 2.4-0.1 1.8-0.5 2.4-0.7 2.5-0.7 1.8-1 2-1.2 2.2-1.4 2.2-1.7 2.1-1.7 1.8-2 1.9-2 1.6-2 1.4-2 1.2-2.3 1.1-2.4 0.9-2 0.5-2 0.4-2 0-2-0.2z"/>
<path fill="#8ac0db" fill-rule="evenodd" d="M232.5 248.2l107 0 0-193.8-107 0zM267.3 216.1l-2.7-0.8-2-1-1.7-1.2-1.7-1.6-1.3-1.7-1.3-2.2-1.2-2.4-1-3-0.7-3.1-0.4-3-0.1-3 0-3.6 0.4-3.7 0.6-3 1-3.6 1.1-3.1 1.1-2.4 1.3-2.4 1.7-2.4 1.5-1.9 1.4-1.3 2-1.6 2-1.2 2-1 2.4-0.9 2.3-0.6 2.6-0.4 2.7-0.1 2.7 0.1 2.7 0.3 2.6 0.7 2.7 0.9 2 0.9 2 1.2 2 1.6 1.6 1.4 1.5 1.9 1.2 1.8 1 1.8 0.7 1.8 0.6 1.8 0.5 2.5 0.3 2.4 0 2.4-0.3 2.4-0.4 2.4-0.7 2.5-0.8 2.4-1.1 2.4-1.4 2.4-1.6 2.5-1.8 2.4-2.2 2.4-2.4 2.3-2.4 1.9-2.3 1.7-2.7 1.6-2.7 1.4-2.6 1-2 0.6-2.7 0.6-2 0.1-2 0z"/>
<path fill="#acd2e5" fill-rule="evenodd" d="M232.5 248.2l107 0 0-193.8-107 0zM265.3 221.7l-2.7-0.9-2-1-2-1.5-2.3-2.2-1.7-2.4-1.6-3-1.2-3.1-1-3.6-0.6-3.6-0.4-4.3 0-3.6 0.3-4.3 0.7-4.2 0.9-3.6 1.2-3.7 1.5-3.6 1.2-2.4 1.6-2.6 1.8-2.3 1.7-1.8 1.9-1.6 2.1-1.4 2.6-1.4 2.7-0.9 2.6-0.7 3.4-0.6 2.6-0.1 3.4 0 3.3 0.4 2.7 0.5 3.4 0.9 2.6 1.1 2.6 1.4 1.8 1.2 2.2 1.8 1.4 1.5 1.7 2.2 1.2 1.8 1.2 2.4 0.8 2.4 0.7 2.4 0.3 2.5 0.2 2.4-0.1 3-0.3 2.4-0.7 3.1-0.7 2.4-1.3 3-1.2 2.4-1.8 3.1-2 2.7-2.3 2.7-2.3 2.5-2.6 2.4-2.8 2.2-2.7 1.8-2.6 1.7-3.4 1.6-2.7 1.1-2.6 0.9-2.7 0.6-2.7 0.3-2.7 0z"/>
<path fill="#cfe4ef" fill-rule="evenodd" d="M232.5 248.2l107 0 0-193.8-107 0zM263.3 228.3l-2.7-0.9-2.7-1.4-2.7-2.1-2.1-2.3-2-3.1-1.8-3.6-1.2-3.6-1-4.3-0.7-4.8-0.3-4.9 0.1-4.8 0.5-4.9 0.9-4.2 1.1-4.2 1.8-4.9 2-4.2 1.7-3.1 1.6-2.4 1.6-1.8 1.9-1.8 2-1.5 2.6-1.5 2.7-1.2 2.7-0.8 3.3-0.7 4-0.4 4-0.1 4.1 0.2 4 0.5 3.3 0.7 3.7 1.2 3 1.3 2.7 1.5 2 1.4 2 1.8 2.3 2.4 1.7 2.5 1.3 2.4 1.1 2.4 1 3 0.5 2.5 0.3 3 0.1 3-0.2 3-0.6 3.1-0.8 3-1.1 3-1.4 3.1-1.7 3-2.1 3-2.4 3-2.7 3.1-2.7 2.6-3.3 2.8-3.3 2.5-3.4 2.2-3.3 2-3.4 1.6-3.3 1.3-3.4 1-3.3 0.6-2.7 0.3-2.7-0.1z"/>
<path fill="#e3edf3" fill-rule="evenodd" d="M232.5 248.2l107 0 0-193.8-107 0zM263.9 237.3l-2-0.2-2-0.5-2-0.7-1.3-0.6-1.9-1-1.5-1.1-1.3-1.2-1.3-1.4-1.4-1.7-1.2-1.9-2.1-4.1-1.6-4.4-1.4-5.4-0.8-6.1-0.4-6 0.1-6.1 0.6-5.4 1-4.9 1.4-4.8 2.6-6.7 2.9-6.1 1.6-3 1.7-2.4 1.6-1.9 2-1.8 2-1.3 2.7-1.3 3.4-1.2 3.3-0.7 4.7-0.7 4.7-0.3 5.3 0.1 5.4 0.3 4.7 0.7 4 0.9 4 1.3 3.3 1.5 2.7 1.6 2.7 2 2.2 2 2.1 2.4 1.7 2.5 1.7 3 1.3 3 1 3 0.6 3.1 0.4 3 0.1 3.6-0.2 3.1-0.5 3-0.8 3-1.3 3.6-1.5 3.1-1.7 3-2.4 3.6-2.4 3.1-3.3 3.6-3.1 3-4 3.5-3.3 2.6-4 2.8-4 2.5-4 2.2-4.1 1.8-3.3 1.3-4 1.2-3.3 0.7-3.4 0.3z"/>
<path fill="#f7f6f6" fill-rule="evenodd" d="M232.5 248.2l18.4 0-1.7-1.2-1.5-1.2-1.7-1.8-1.5-1.8-2.2-3.7-1.2-2.4-1-2.4-1.7-5.5-1.4-6.6-0.9-6.7-0.4-7.3 0-6 0.3-6.1 0.6-4.8 1-4.3 0.8-2.4 1.2-3 4.9-10.6 4.1-9.2 1.8-3.2 1-1.2 1.1-1.3 1.4-1 1.3-0.8 2.7-1.1 4-1 5.4-0.8 6-0.4 7.3-0.1 6.7 0.1 6.7 0.4 5.4 0.6 5.3 1 4 1.1 3.8 1.4 3.5 1.9 3.5 2.4 3.3 3 3.1 3.6 2.4 3.7 2.3 4.2 1.9 4.9 1.1 4.2 0.7 4.8 0 4.3-0.4 3.6-0.8 3.6-1.2 3.7-1.8 3.6-2.2 3.6-2.7 3.7-3.1 3.6-3.6 3.6-4.6 4.3-5.2 4.2-5.3 3.9-5.4 3.7-6 3.7-5.3 2.9-5.4 2.6-5 2 63.2 0 0-193.8-107 0z"/>
<path fill="#fae8de" fill-rule="evenodd" d="M232.5 185.2l0.3-3.6 0.4-2.8 4.5-5.7 1.5-2.4 0.9-1.8 1.1-2.6 0.9-2.9 0.4-2.4 0.1-2.4-0.1-1.8-0.4-1.9-0.7-1.2-1.1-1.2-1.1-0.7-2-0.7-4.7-0.7zM250.3 148.3l5.6 0.4 8.7 0.1 74.9 0 0-94.4-0.4 0-1.6 1.8-1.3 1-2.7 1.4-1.4 0.5-2 0.5-3.3 0.3-2-0.1-2-0.3-3.4-1-2-1-1.3-0.8-1.5-1.1-1.2-1.2-80.9 0 0 45.4 0.2 6.7 0.5 4.7 0.8 2.6 1.2 2.4 6.7 9.1 1.3 2.3 1.3 2.5 1.1 3 0.9 3.1 0.7 3.3 0.9 5.7 0.3 1.3 0.3 0.6 0.5 0.6z"/>
<path fill="#fdd9c4" fill-rule="evenodd" d="M232.5 168.3l0.3-1.9 0.1-1.8-0.1-1.8-0.3-1.5zM267.9 147.7l7.4 0.4 8.7 0 9.4-0.3 6-0.6 4.7-0.9 4-1.2 3.8-1.7 3.5-2.1 2-1.5 2.1-1.8 1.7-1.8 2.1-2.5 1.8-2.4 1.6-2.4 1.7-3 1.2-2.5 2.2-5.4 1-3 0.7-3.1 0.4-3 0.2-2.4 0-2.4-0.2-2.5-0.3-1.8-0.6-2.4-0.7-1.8-1.1-2.4-1.5-2.5-1.3-1.8-3-3.6-4.4-4.3-6-4.8-6.3-4.4-8-5.1-7.3-4.1-6.7-3.3-6.7-2.8-6-1.9-0.7-0.2-18.5 0-2.2 1-2 1.3-2 1.7-1.9 2.1-1.5 2.1-1.3 2.3-1.3 2.8-1.1 3.1-1 3.4-0.8 3.8-0.7 4.3-0.4 4.2-0.3 4.8-0.1 4.3 0.2 4.2 0.4 3.7 0.5 3 0.6 2.4 0.8 2.4 1 2.5 1.7 3.6 4.5 8.7 4.9 11.3 2 3.6 1.1 1.5 1.3 1.4 1.4 1 1.3 0.8 1.9 0.8 1.5 0.4z"/>
<path fill="#f8bb9e" fill-rule="evenodd" d="M274 145.8l5.3 0.3 5.4-0.1 4.6-0.5 4.7-0.8 4-1.2 3.4-1.4 2.9-1.7 3.3-2.4 3.1-3.1 2.3-3 2.2-3.6 1.6-3.6 1.1-3.7 0.8-4.2 0.3-4.3-0.4-4.2-0.9-4.2-1.2-3.7-1.8-3.6-2.2-3.6-2.8-3.7-3.3-3.6-4-3.6-4.4-3.6-4.6-3.2-5.4-3.2-4.7-2.4-4.7-1.9-4.6-1.4-4-0.9-4.1-0.3-2 0.1-2 0.2-2.7 0.6-2 0.8-2 1-2 1.4-1.9 1.9-1.4 1.6-1.3 2-1.4 2.6-1.2 2.8-0.9 3.1-0.9 3.6-0.6 3.6-0.3 3.7-0.1 3.6 0.1 3.6 0.4 3.1 0.5 3 0.7 2.4 0.7 2.4 1.5 3.7 7.3 15.7 2 3.7 1.5 2.3 1.3 1.7 1.5 1.4 1.9 1.4 1.8 1 2.2 0.9 2 0.6 2.7 0.6z"/>
<path fill="#f19e7d" fill-rule="evenodd" d="M278.6 143.4l4.1-0.1 4-0.4 3.3-0.8 3.4-1.1 2.7-1.2 3.1-1.8 2.3-1.8 2.4-2.5 1.9-2.4 1.9-3 1.3-3 1.1-3.7 0.6-3 0.2-3.6-0.2-3.7-0.5-3-1.1-3.6-1.2-3.1-2-3.6-2-3-2.9-3.7-2.9-3-3.4-3-3.3-2.6-3.5-2.3-3.9-2.2-4-1.9-4-1.4-4-1-3.4-0.4-3.3 0.1-2.7 0.4-2 0.6-2 0.9-2 1.2-1.4 1.1-1.4 1.4-1.4 1.8-1.5 2.5-1 2.2-1 2.6-0.6 2.4-0.6 3.1-0.4 3-0.1 3 0.1 3 0.3 3.1 0.6 3 0.8 3 1.2 3.7 1.4 3.6 2.2 4.8 2.1 4.3 1.6 3 1.7 2.7 1.7 2.2 1.7 1.7 1.6 1.3 1.7 1.1 2 1 2.1 0.8 2.6 0.7 2.7 0.4z"/>
<path fill="#e17860" fill-rule="evenodd" d="M277.1 140.4l2.9 0.1 3.3-0.3 3.4-0.7 2.6-0.8 2.7-1.2 2.4-1.3 2.4-1.9 1.9-1.8 1.9-2.4 1.5-2.4 1.1-2.4 1-3.1 0.5-3 0.2-3-0.1-3.1-0.5-3-0.8-3-1.2-3-1.5-3.1-2-3-2.1-2.8-2.4-2.6-2.6-2.5-3-2.4-2.7-1.9-3.3-1.9-3.4-1.6-3.3-1.2-3.4-0.9-2.6-0.3-2.7 0-2.7 0.3-2 0.6-1.3 0.5-2.1 1.2-1.3 1-1.3 1.3-1.4 1.7-1.1 1.8-1 1.8-0.7 1.8-0.7 2.5-0.5 2.4-0.3 2.4-0.2 2.4 0.1 2.5 0.2 2.4 0.5 3 0.5 2.4 1 3.1 1.1 3 1.5 3.6 1.7 3.7 1.7 3 1.5 2.4 1.4 2 1.5 1.6 1.9 1.7 1.3 1 2 1.2 2 0.8 2 0.7 2 0.4z"/>
<path fill="#d05548" fill-rule="evenodd" d="M273.9 136.8l2.1 0.3 2.6 0.2 2.7-0.1 2.7-0.5 2.7-0.8 2.2-1 2.5-1.4 1.9-1.6 1.7-1.8 1.4-1.8 1.4-2.4 1-2.5 0.6-2.4 0.4-2.4 0.1-2.4-0.2-3.1-0.6-3-0.8-2.4-1-2.4-1.3-2.5-1.5-2.4-1.9-2.4-2.2-2.4-2.4-2.3-2.7-2.1-2.6-1.7-2.7-1.5-2.7-1.1-2.7-0.8-2.6-0.6-2.7-0.1-2 0.1-2 0.4-1.4 0.5-1.3 0.6-1.3 0.8-1.4 1.1-1.2 1.2-1.7 2.5-1 1.8-0.7 1.8-0.9 3.6-0.2 1.8-0.1 2.5 0.2 4.2 0.4 2.4 0.6 2.4 1.6 4.9 2.3 5.3 1.4 2.5 1.3 2.1 1.4 1.9 1.3 1.5 1.3 1.3 1.4 1.1 1.3 0.9 2 1z"/>
<path fill="#bd2d35" fill-rule="evenodd" d="M275.8 133.7l2.2 0.2 2-0.1 2-0.3 2-0.5 2-0.9 2-1.2 1.8-1.4 1.2-1.2 1.4-1.8 1-1.8 0.8-1.9 0.5-1.8 0.3-1.8 0.2-2.4-0.1-1.8-0.3-2.5-0.6-2.4-0.7-1.8-0.8-1.9-1.3-2.3-1.4-2-1.8-2.3-1.8-1.8-1.7-1.5-2-1.6-2.1-1.2-2.1-1.1-2.5-1-2-0.6-2-0.3-2-0.1-2.1 0.2-1.3 0.3-1.3 0.5-1.4 0.7-1.1 0.9-1.3 1.2-0.9 1.1-1.4 2.2-0.6 1.6-0.6 1.7-0.5 3.1 0 3.6 0.4 3.6 1.1 4.3 1.6 4.2 2 4 2.3 3.3 2.4 2.6 1.3 1 1.4 0.9 2.6 1.3 1.4 0.4z"/>
<path fill="#a21328" fill-rule="evenodd" d="M274.1 129.5l1.9 0.4 1.3 0.1 2-0.1 1.3-0.2 2.1-0.7 1.3-0.6 1.3-0.9 1.2-1 1.1-1.2 0.8-1.3 0.7-1.2 0.7-1.8 0.6-3 0-1.8-0.1-1.8-0.4-1.9-0.5-1.8-0.7-1.8-0.9-1.8-2.1-3-1.6-1.9-1.3-1.2-2.8-2.1-1.5-0.9-1.9-0.9-1.3-0.5-2-0.4-2-0.2-1.3 0.1-2.1 0.5-2 0.9-1.9 1.7-1.2 1.8-0.9 2-0.6 2.7-0.2 2.6 0.2 2.8 0.6 3.3 1 3 1.4 3 1.6 2.8 2 2.4 2.1 1.8 2 1.2z"/>
<path fill="#790622" fill-rule="evenodd" d="M275 124.7l1 0.1 1.3 0.1 2-0.4 1.1-0.5 0.9-0.5 1.4-1.2 1.2-1.9 0.6-1.8 0.3-1.8-0.2-2.4-0.6-2.5-0.8-1.8-1.6-2.4-1.7-1.8-2.4-1.8-2.2-1.1-2-0.5-2 0.1-1.3 0.4-1.4 0.7-1 1-1 1.5-0.5 1.5-0.4 1.8 0 1.8 0.2 1.8 0.6 2.5 0.7 1.8 1 1.8 1.1 1.6 1.3 1.4 1.4 1.1 1.3 0.8z"/>
<path class="cl" d="M232.5 185.6l0.2-3.4 0.5-3.4 4.5-5.7 1.5-2.4 0.9-1.8 1.1-2.6 0.9-2.9 0.4-2.4 0.1-2.4-0.1-1.8-0.4-1.9-0.7-1.2-1.1-1.2-1.1-0.7-2-0.7-4.7-0.7M232.5 76.3l0.1 25.3 0.2 5.5 0.4 4.1 0.8 2.6 1.2 2.4 6.7 9.1 1.3 2.3 1.3 2.7 1.1 2.8 0.9 3.1 0.7 3 1 6.6 0.5 1.3 0.5 0.6 1.1 0.6 0.9 0.1 4 0.2 5.4 0.2 78.9 0M339.1 54.4l-1 1.2-1.3 1.1-1.3 0.9-1.3 0.8-1.4 0.5-2 0.6-2 0.3-2 0.1-2-0.1-2-0.3-3.4-1-2-1-1.3-0.8-1.5-1.1-1.2-1.2M232.5 168.6l0.4-4-0.1-1.8-0.3-1.5M254.8 54.4l-2.2 1-2 1.3-2 1.7-2.1 2.3-1.5 2.2-1.6 3-1.3 3-1.1 3.7-1.1 4.2-0.8 4.9-0.5 4.8-0.3 4.8-0.1 4.9 0.2 4.2 0.6 4.3 0.7 3.6 1.2 3.6 1.3 3.1 5.7 11.1 5.2 11.9 1.7 3 0.9 1.2 1.1 1.2 1.4 1.2 1.7 1.1 1.9 0.8 2.2 0.6 3.3 0.5 3.3 0.3 10 0.2 7.4-0.1 6.7-0.3 5.3-0.6 4.1-0.8 4-1.2 3.8-1.7 3.1-1.8 3.1-2.4 2-1.8 1.7-1.8 2.9-3.7 1.6-2.4 1.5-2.4 2.4-4.9 1-2.4 1-3 1.3-4.9 0.4-2.4 0.2-2.4-0.1-4.3-0.4-3-0.9-3-1.2-3-1.8-3.1-2.2-3-2.7-3-3.2-3-4.3-3.7-4.8-3.6-5.8-3.9-6.7-4.2-6-3.4-5.3-2.7-5.4-2.4-5.3-2-4.7-1.4M274 145.8l5.3 0.3 5.4-0.1 4.6-0.5 4.7-0.8 4-1.2 3.4-1.4 2.9-1.7 3.3-2.4 3.1-3.1 2.3-3 2.2-3.6 1.6-3.6 1.1-3.7 0.8-4.2 0.3-4.3-0.4-4.2-0.9-4.2-1.2-3.7-1.8-3.6-2.2-3.6-2.8-3.7-3.3-3.6-4-3.6-4.4-3.6-4.6-3.2-5.4-3.2-4.7-2.4-4.7-1.9-4.6-1.4-4-0.9-4.1-0.3-2 0.1-2 0.2-2.7 0.6-2 0.8-2 1-2 1.4-1.9 1.9-1.4 1.6-1.3 2-1.4 2.6-1.2 2.8-0.9 3.1-0.9 3.6-0.6 3.6-0.3 3.7-0.1 3.6 0.1 3.6 0.4 3.1 0.5 3 0.7 2.4 0.7 2.4 1.5 3.7 7.3 15.7 2 3.7 1.5 2.3 1.3 1.7 1.5 1.4 1.9 1.4 1.8 1 2.2 0.9 2 0.6 2.7 0.6zM278.6 143.4l4.1-0.1 4-0.4 3.3-0.8 3.4-1.1 2.7-1.2 3.1-1.8 2.3-1.8 2.4-2.5 1.9-2.4 1.9-3 1.3-3 1.1-3.7 0.6-3 0.2-3.6-0.2-3.7-0.5-3-1.1-3.6-1.2-3.1-2-3.6-2-3-2.9-3.7-2.9-3-3.4-3-3.3-2.6-3.5-2.3-3.9-2.2-4-1.9-4-1.4-4-1-3.4-0.4-3.3 0.1-2.7 0.4-2 0.6-2 0.9-2 1.2-1.4 1.1-1.4 1.4-1.4 1.8-1.5 2.5-1 2.2-1 2.6-0.6 2.4-0.6 3.1-0.4 3-0.1 3 0.1 3 0.3 3.1 0.6 3 0.8 3 1.2 3.7 1.4 3.6 2.2 4.8 2.1 4.3 1.6 3 1.7 2.7 1.7 2.2 1.7 1.7 1.6 1.3 1.7 1.1 2 1 2.1 0.8 2.6 0.7 2.7 0.4zM277.1 140.4l2.9 0.1 3.3-0.3 3.4-0.7 2.6-0.8 2.7-1.2 2.4-1.3 2.4-1.9 1.9-1.8 1.9-2.4 1.5-2.4 1.1-2.4 1-3.1 0.5-3 0.2-3-0.1-3.1-0.5-3-0.8-3-1.2-3-1.5-3.1-2-3-2.1-2.8-2.4-2.6-2.6-2.5-3-2.4-2.7-1.9-3.3-1.9-3.4-1.6-3.3-1.2-3.4-0.9-2.6-0.3-2.7 0-2.7 0.3-2 0.6-1.3 0.5-2.1 1.2-1.3 1-1.3 1.3-1.4 1.7-1.1 1.8-1 1.8-0.7 1.8-0.7 2.5-0.5 2.4-0.3 2.4-0.2 2.4 0.1 2.5 0.2 2.4 0.5 3 0.5 2.4 1 3.1 1.1 3 1.5 3.6 1.7 3.7 1.7 3 1.5 2.4 1.4 2 1.5 1.6 1.9 1.7 1.3 1 2 1.2 2 0.8 2 0.7 2 0.4zM273.9 136.8l2.1 0.3 2.6 0.2 2.7-0.1 2.7-0.5 2.7-0.8 2.2-1 2.5-1.4 1.9-1.6 1.7-1.8 1.4-1.8 1.4-2.4 1-2.5 0.6-2.4 0.4-2.4 0.1-2.4-0.2-3.1-0.6-3-0.8-2.4-1-2.4-1.3-2.5-1.5-2.4-1.9-2.4-2.2-2.4-2.4-2.3-2.7-2.1-2.6-1.7-2.7-1.5-2.7-1.1-2.7-0.8-2.6-0.6-2.7-0.1-2 0.1-2 0.4-1.4 0.5-1.3 0.6-1.3 0.8-1.4 1.1-1.2 1.2-1.7 2.5-1 1.8-0.7 1.8-0.9 3.6-0.2 1.8-0.1 2.5 0.2 4.2 0.4 2.4 0.6 2.4 1.6 4.9 2.3 5.3 1.4 2.5 1.3 2.1 1.4 1.9 1.3 1.5 1.3 1.3 1.4 1.1 1.3 0.9 2 1zM275.8 133.7l2.2 0.2 2-0.1 2-0.3 2-0.5 2-0.9 2-1.2 1.8-1.4 1.2-1.2 1.4-1.8 1-1.8 0.8-1.9 0.5-1.8 0.3-1.8 0.2-2.4-0.1-1.8-0.3-2.5-0.6-2.4-0.7-1.8-0.8-1.9-1.3-2.3-1.4-2-1.8-2.3-1.8-1.8-1.7-1.5-2-1.6-2.1-1.2-2.1-1.1-2.5-1-2-0.6-2-0.3-2-0.1-2.1 0.2-1.3 0.3-1.3 0.5-1.4 0.7-1.1 0.9-1.3 1.2-0.9 1.1-1.4 2.2-0.6 1.6-0.6 1.7-0.5 3.1 0 3.6 0.4 3.6 1.1 4.3 1.6 4.2 2 4 2.3 3.3 2.4 2.6 1.3 1 1.4 0.9 2.6 1.3 1.4 0.4zM274.1 129.5l1.9 0.4 1.3 0.1 2-0.1 1.3-0.2 2.1-0.7 1.3-0.6 1.3-0.9 1.2-1 1.1-1.2 0.8-1.3 0.7-1.2 0.7-1.8 0.6-3 0-1.8-0.1-1.8-0.4-1.9-0.5-1.8-0.7-1.8-0.9-1.8-2.1-3-1.6-1.9-1.3-1.2-2.8-2.1-1.5-0.9-1.9-0.9-1.3-0.5-2-0.4-2-0.2-1.3 0.1-2.1 0.5-2 0.9-1.9 1.7-1.2 1.8-0.9 2-0.6 2.7-0.2 2.6 0.2 2.8 0.6 3.3 1 3 1.4 3 1.6 2.8 2 2.4 2.1 1.8 2 1.2zM275 124.7l1 0.1 1.3 0.1 2-0.4 1.1-0.5 0.9-0.5 1.4-1.2 1.2-1.9 0.6-1.8 0.3-1.8-0.2-2.4-0.6-2.5-0.8-1.8-1.6-2.4-1.7-1.8-2.4-1.8-2.2-1.1-2-0.5-2 0.1-1.3 0.4-1.4 0.7-1 1-1 1.5-0.5 1.5-0.4 1.8 0 1.8 0.2 1.8 0.6 2.5 0.7 1.8 1 1.8 1.1 1.6 1.3 1.4 1.4 1.1 1.3 0.8z"/>
<path class="cl cd" d="M274.6 191.9l-1.3-0.4-0.7-0.4-1-1-0.7-1.3-0.4-1.2-0.2-1.8 0.2-1.8 0.4-1.8 0.8-1.8 0.7-1.2 1.1-1.3 1.1-0.8 1.4-0.7 1.3-0.3 1.3 0 1.4 0.3 0.8 0.3 1.2 1 0.7 0.9 0.6 1.2 0.3 1.2 0.1 1.2-0.1 1.2-0.4 1.8-0.5 1.2-0.7 1.3-0.9 1.1-1.2 1.3-1.3 0.8-1.3 0.7-1.3 0.3zM270.6 199.8l-2-1-1-0.9-1-1.1-1.3-2.4-0.8-2.5-0.4-3.1 0-3 0.5-3 0.6-1.8 0.7-1.8 1.4-2.7 1.6-2.2 2-1.8 2.4-1.5 2.7-0.9 2.6-0.3 2.6 0.3 2.1 0.7 2 1.1 2 1.8 1.4 2 0.9 2.2 0.5 2.5 0 3-0.5 3-0.9 2.4-1.4 2.5-2 2.8-2 2-2.7 2-2.6 1.3-2.7 0.8-1.3 0.1-1.4 0zM270.6 205.9l-2-0.5-1.3-0.6-1.4-0.8-1.3-1.2-1.1-1.2-0.9-1.4-0.9-1.7-0.7-1.8-0.5-1.8-0.4-2.4-0.1-1.8 0-2.5 0.2-2.4 0.4-2.4 0.6-2.4 0.6-1.8 1.6-3.7 1.2-1.9 1.3-1.7 1.4-1.4 1.2-1 2.8-1.8 1.5-0.7 1.8-0.6 3.4-0.5 3.3 0.1 2 0.4 1.4 0.5 1.3 0.5 1.6 0.9 2.4 1.8 1.1 1.2 0.9 1.2 0.8 1.2 0.9 1.8 0.8 3.1 0.3 1.8 0 1.8-0.2 3-1 3.6-1.6 3.7-2 3.2-2.7 3.1-1.6 1.6-1.7 1.4-3.4 2.1-3.3 1.4-2 0.5-1.3 0.2-2 0zM267.9 210.8l-1.9-0.8-1.4-0.7-2-1.5-1.3-1.4-1.4-1.8-1-1.8-0.7-1.8-0.8-2.5-0.5-2.4-0.4-3 0-2.4 0.1-3.1 0.4-3 0.5-2.4 0.8-3 1-2.5 2-3.8 1.3-2 1.3-1.6 1.7-1.6 1.6-1.3 1.4-0.9 2-1 2-0.8 2-0.5 2.4-0.4 2.3-0.1 2.2 0.1 2.5 0.4 2 0.5 2 0.8 1.5 0.7 1.9 1.2 1.5 1.3 1.2 1.2 1.3 1.4 1 1.6 1 1.8 0.7 1.8 0.5 1.8 0.3 1.9 0.2 1.8-0.1 2.4-0.1 1.8-0.5 2.4-0.7 2.5-0.7 1.8-1 2-1.2 2.2-1.4 2.2-1.7 2.1-1.7 1.8-2 1.9-2 1.6-2 1.4-2 1.2-2.3 1.1-2.4 0.9-2 0.5-2 0.4-2 0-2-0.2zM267.3 216.1l-2.7-0.8-2-1-1.7-1.2-1.7-1.6-1.3-1.7-1.3-2.2-1.2-2.4-1-3-0.7-3.1-0.4-3-0.1-3 0-3.6 0.4-3.7 0.6-3 1-3.6 1.1-3.1 1.1-2.4 1.3-2.4 1.7-2.4 1.5-1.9 1.4-1.3 2-1.6 2-1.2 2-1 2.4-0.9 2.3-0.6 2.6-0.4 2.7-0.1 2.7 0.1 2.7 0.3 2.6 0.7 2.7 0.9 2 0.9 2 1.2 2 1.6 1.6 1.4 1.5 1.9 1.2 1.8 1 1.8 0.7 1.8 0.6 1.8 0.5 2.5 0.3 2.4 0 2.4-0.3 2.4-0.4 2.4-0.7 2.5-0.8 2.4-1.1 2.4-1.4 2.4-1.6 2.5-1.8 2.4-2.2 2.4-2.4 2.3-2.4 1.9-2.3 1.7-2.7 1.6-2.7 1.4-2.6 1-2 0.6-2.7 0.6-2 0.1-2 0zM265.3 221.7l-2.7-0.9-2-1-2-1.5-2.3-2.2-1.7-2.4-1.6-3-1.2-3.1-1-3.6-0.6-3.6-0.4-4.3 0-3.6 0.3-4.3 0.7-4.2 0.9-3.6 1.2-3.7 1.5-3.6 1.2-2.4 1.6-2.6 1.8-2.3 1.7-1.8 1.9-1.6 2.1-1.4 2.6-1.4 2.7-0.9 2.6-0.7 3.4-0.6 2.6-0.1 3.4 0 3.3 0.4 2.7 0.5 3.4 0.9 2.6 1.1 2.6 1.4 1.8 1.2 2.2 1.8 1.4 1.5 1.7 2.2 1.2 1.8 1.2 2.4 0.8 2.4 0.7 2.4 0.3 2.5 0.2 2.4-0.1 3-0.3 2.4-0.7 3.1-0.7 2.4-1.3 3-1.2 2.4-1.8 3.1-2 2.7-2.3 2.7-2.3 2.5-2.6 2.4-2.8 2.2-2.7 1.8-2.6 1.7-3.4 1.6-2.7 1.1-2.6 0.9-2.7 0.6-2.7 0.3-2.7 0zM263.3 228.3l-2.7-0.9-2.7-1.4-2.7-2.1-2.1-2.3-2-3.1-1.8-3.6-1.2-3.6-1-4.3-0.7-4.8-0.3-4.9 0.1-4.8 0.5-4.9 0.9-4.2 1.1-4.2 1.8-4.9 2-4.2 1.7-3.1 1.6-2.4 1.6-1.8 1.9-1.8 2-1.5 2.6-1.5 2.7-1.2 2.7-0.8 3.3-0.7 4-0.4 4-0.1 4.1 0.2 4 0.5 3.3 0.7 3.7 1.2 3 1.3 2.7 1.5 2 1.4 2 1.8 2.3 2.4 1.7 2.5 1.3 2.4 1.1 2.4 1 3 0.5 2.5 0.3 3 0.1 3-0.2 3-0.6 3.1-0.8 3-1.1 3-1.4 3.1-1.7 3-2.1 3-2.4 3-2.7 3.1-2.7 2.6-3.3 2.8-3.3 2.5-3.4 2.2-3.3 2-3.4 1.6-3.3 1.3-3.4 1-3.3 0.6-2.7 0.3-2.7-0.1zM263.9 237.3l-2-0.2-2-0.5-2-0.7-1.3-0.6-1.9-1-1.5-1.1-1.3-1.2-1.3-1.4-1.4-1.7-1.2-1.9-2.1-4.1-1.6-4.4-1.4-5.4-0.8-6.1-0.4-6 0.1-6.1 0.6-5.4 1-4.9 1.4-4.8 2.6-6.7 2.9-6.1 1.6-3 1.7-2.4 1.6-1.9 2-1.8 2-1.3 2.7-1.3 3.4-1.2 3.3-0.7 4.7-0.7 4.7-0.3 5.3 0.1 5.4 0.3 4.7 0.7 4 0.9 4 1.3 3.3 1.5 2.7 1.6 2.7 2 2.2 2 2.1 2.4 1.7 2.5 1.7 3 1.3 3 1 3 0.6 3.1 0.4 3 0.1 3.6-0.2 3.1-0.5 3-0.8 3-1.3 3.6-1.5 3.1-1.7 3-2.4 3.6-2.4 3.1-3.3 3.6-3.1 3-4 3.5-3.3 2.6-4 2.8-4 2.5-4 2.2-4.1 1.8-3.3 1.3-4 1.2-3.3 0.7-3.4 0.3zM250.9 248.2l-2.3-1.7-2.1-1.9-2-2.4-1.6-2.5-1.5-3-1.5-3.6-1.2-3.7-1.1-4.2-0.8-4.9-0.7-5.4-0.3-5.5-0.1-5.4 0.1-5.5 0.4-4.8 0.7-4.2 0.9-3.7 1.8-4.8 4.9-10.6 4.2-9.4 1.2-2.2 1-1.4 1-1.3 1.3-1.1 2-1.3 2-0.9 2.7-0.8 2.7-0.6 4-0.5 4-0.3 10-0.3 6.7 0.1 6.7 0.4 5.4 0.6 5.3 1 4 1.1 3.8 1.4 3.5 1.9 3.5 2.4 3.3 3 3.1 3.6 2.4 3.7 2.3 4.2 1.9 4.9 1.1 4.2 0.7 4.8 0 4.3-0.4 3.6-0.8 3.6-1.2 3.7-1.8 3.6-2.2 3.6-2.7 3.7-3.1 3.6-3.6 3.6-4.6 4.3-5.2 4.2-5.3 3.9-5.4 3.7-6 3.7-5.3 2.9-5.4 2.6-5 2"/></g>
<rect class="sp" x="232.5" y="54.4" width="107" height="193.8"/>
<rect x="345.8" y="237.85" width="10" height="10.50" fill="#0c3d73"/>
<rect x="345.8" y="227.65" width="10" height="10.50" fill="#1b5a9c"/>
<rect x="345.8" y="217.45" width="10" height="10.50" fill="#2b73b3"/>
<rect x="345.8" y="207.25" width="10" height="10.50" fill="#3e8cbf"/>
<rect x="345.8" y="197.05" width="10" height="10.50" fill="#5fa5cd"/>
<rect x="345.8" y="186.85" width="10" height="10.50" fill="#8ac0db"/>
<rect x="345.8" y="176.65" width="10" height="10.50" fill="#acd2e5"/>
<rect x="345.8" y="166.45" width="10" height="10.50" fill="#cfe4ef"/>
<rect x="345.8" y="156.25" width="10" height="10.50" fill="#e3edf3"/>
<rect x="345.8" y="146.05" width="10" height="10.50" fill="#f7f6f6"/>
<rect x="345.8" y="135.85" width="10" height="10.50" fill="#fae8de"/>
<rect x="345.8" y="125.65" width="10" height="10.50" fill="#fdd9c4"/>
<rect x="345.8" y="115.45" width="10" height="10.50" fill="#f8bb9e"/>
<rect x="345.8" y="105.25" width="10" height="10.50" fill="#f19e7d"/>
<rect x="345.8" y="95.05" width="10" height="10.50" fill="#e17860"/>
<rect x="345.8" y="84.85" width="10" height="10.50" fill="#d05548"/>
<rect x="345.8" y="74.65" width="10" height="10.50" fill="#bd2d35"/>
<rect x="345.8" y="64.45" width="10" height="10.50" fill="#a21328"/>
<rect x="345.8" y="54.25" width="10" height="10.50" fill="#790622"/>
<rect class="sp" x="345.8" y="54.4" width="10" height="193.8"/>
<text class="tk" x="364.1" y="69.30">6.4</text>
<text class="tk" x="364.1" y="89.70">4.8</text>
<text class="tk" x="364.1" y="110.10">3.2</text>
<text class="tk" x="364.1" y="130.50">1.6</text>
<text class="tk" x="364.1" y="150.90">0</text>
<text class="tk" x="364.1" y="171.30">–1.6</text>
<text class="tk" x="364.1" y="191.70">–3.2</text>
<text class="tk" x="364.1" y="212.10">–4.8</text>
<text class="tk" x="364.1" y="232.50">–6.4</text>
<text class="tk" x="364.1" y="252.90">–8.0</text>
<path class="tick" d="M355.8 64.60h4M355.8 85.00h4M355.8 105.40h4M355.8 125.80h4M355.8 146.20h4M355.8 166.60h4M355.8 187.00h4M355.8 207.40h4M355.8 227.80h4M355.8 248.20h4"/>
<g><rect x="394.5" y="54.4" width="107" height="193.8" fill="#0d3f76"/>
<path fill="#1d5fa2" fill-rule="evenodd" d="M394.5 248.2l107 0 0-193.8-107 0zM452.7 180.4l-1.4-0.5-1.4-0.7-1.9-1.4-1.3-1.2-1.3-1.7-0.7-1.2-1.7-3.6-0.9-3.1-0.6-2.4-1.1-6-0.5-6.1 0-6.7 0.5-6 1.1-6.1 1.3-4.8 1-2.4 0.9-1.8 0.7-1.3 1.3-1.6 1.3-1.2 1.3-1 2-1.1 1.4-0.5 1.3-0.3 1.4 0 1.4 0.3 1.9 0.9 1.3 1 2.7 2.3 1.5 2.5 1.2 2.4 1.7 5.4 0.7 3.1 0.6 3.6 0.6 6.6-0.1 7.3-0.6 6.7-0.5 3-0.7 3-1.7 5.5-1.9 3.6-0.8 1.3-2.7 2.4-2 1.3-1.3 0.6-1.3 0.2-1.4 0z"/>
<path fill="#307ab6" fill-rule="evenodd" d="M394.5 248.2l60.3 0-0.1-2.4-0.7-1.8-1.3-2.1-3.6-3.4-1.4-1.8-1.2-2.4-1.2-4.3-0.7-4.2-1.4-9.1-1.7-9.7-4.5-21.2-2.1-11.5-0.5-3.6-0.2-3-0.6-12.8-0.1-6 0.1-5.5 0.6-12.7 0.2-3 0.5-3.7 2.1-11.5 4.5-21.2 1.8-10.3 1.4-9 0.8-4.3 1.2-3.9 0.6-1.4 0.7-1 1.4-1.5 4-2.9 1.3-1.3 1-1.3-61.2 0zM482.7 58.6l2.7 0.3 3.4 0.1 2.7-0.2 2.6-0.5 2.1-0.6 2.1-0.9 1.9-1.1 1.3-1.3-30.6 0 2.5 1.4 3.4 1.4 2.6 0.8z"/>
<path fill="#4695c4" fill-rule="evenodd" d="M395.1 227l1.4 0.2 2-0.1 2.7-0.3 2-0.5 1.3-0.6 4-2.4 4.1-2.6 3.3-2.5 2.7-2.7 0.6-0.8 1.4-2.5 2.7-4.3 1-2.7 2-7.3 1-4 0.7-3.8 0.8-9.7 0.6-18.8 0-25.4-0.6-17-0.2-4.2-0.6-6.1-0.7-4.2-1-4.3-2.4-8.3-0.8-2-2.5-3.9-1.4-2.5-1.8-2-2.8-2.5-2-1.5-4.1-2.6-4.6-2.7-2.7-0.8-4-0.4-2.7 0.3 0 155.4z"/>
<path fill="#75b2d4" fill-rule="evenodd" d="M394.5 215.5l0 0.2 2-0.3 6-1.6 2-0.9 3.5-2.2 3.8-3.1 2.1-2.1 2.2-2.7 1.7-2.4 0.8-1.4 0.6-1.7 1.4-4.7 1.3-3.8 1-4.8 1.8-10.9 0.7-5.4 0.5-5.5 0.4-12.7-0.4-13.3-0.5-5.5-0.7-5.4-1.7-10.3-0.9-4.9-0.6-1.8-1.6-4.6-0.7-2.6-0.6-1.7-2-3.2-2.5-3-2.2-2.3-3.4-2.8-4-2.6-1.3-0.6-1.3-0.5-4.1-1.1-3.3-0.6z"/>
<path fill="#a0cce2" fill-rule="evenodd" d="M394.5 208.2l0 0.3 0.7-0.1 3.3-0.8 3.4-1.1 2.6-1.3 4-3.4 3.4-3.4 2.5-3.5 2.4-4.2 1.1-2.8 1.3-5.9 1.7-5.9 0.8-4.2 0.7-4.9 0.5-5.4 0.5-12.1-0.1-4.3-0.4-7.8-0.5-6.1-0.6-4.2-0.9-4.9-1.7-5.8-1.2-5.7-1.2-3-2.4-4.2-2.5-3.5-3.4-3.4-4-3.4-1.3-0.7-2-0.9-4-1.2-2.7-0.5z"/>
<path fill="#c5dfec" fill-rule="evenodd" d="M394.5 202.2l0 0.4 0.7-0.1 3.3-0.8 3.4-1.1 1.3-0.6 1.3-0.9 3.2-3 1.1-1.2 3.1-4 1.5-2.7 3.2-6.8 0.6-2 0.6-2.7 2.7-15.1 0.6-7.3 0.2-4.8-0.2-4.9-0.6-7.2-0.8-5.5-1.8-9.9-0.7-3-0.6-2-2.9-6.3-1.8-3.2-3.1-4-1.1-1.3-3.2-2.9-1.3-0.9-2-0.9-4-1.2-2.7-0.5z"/>
<path fill="#e0ecf3" fill-rule="evenodd" d="M394.5 197.3l0 0.5 1.3-0.1 2-0.5 4.1-1.5 2-1.2 0.6-0.6 3.6-3.8 2.5-3.9 1.9-3.4 1.4-3 1.2-3.1 1.3-4.2 0.8-3.6 0.7-4.3 0.3-3.6 0.6-7.9 0.1-3.6-0.1-4.3-0.6-7.8-0.3-3.7-0.7-4.2-0.7-3-1.3-4.3-1.1-3-1.3-3-1.6-2.9-2.7-4.4-1.3-1.6-3.3-3.4-2-1.2-2.7-1-2.7-0.8-2-0.3z"/>
<path fill="#f7f6f6" fill-rule="evenodd" d="M394.5 193.1l0 0.4 0.7 0 2.6-0.6 3.4-1.3 1.3-0.7 1.2-0.8 0.8-0.9 3.4-4.4 2.9-5 1.4-3.1 1.3-3.6 1.1-3.6 0.9-3.7 1.1-6.3 0.6-5.8 0.1-4.2-0.1-3.8-0.5-5.3-0.4-3.6-0.9-4.3-0.8-3.6-1.1-3.6-1.4-3.7-1.3-3-2.9-5-3.4-4.4-0.6-0.7-2-1.4-2.7-1.1-2.7-0.9-2-0.2z"/>
<path fill="#fbe6da" fill-rule="evenodd" d="M394.5 189.5l0 0.1 1.3-0.1 2-0.5 3.4-1.5 1.3-0.9 1.4-1.2 0.6-0.9 2.6-3.5 1.1-1.8 1.4-3.1 1.5-3.6 1-3 1-3.7 0.9-4.2 0.6-4.2 0.5-4.3 0.2-3.6-0.1-3.7-0.5-4.2-0.7-4.8-0.9-4.3-1-3.6-1.1-3-1.4-3.7-1.5-3-1-1.8-2.6-3.5-0.6-0.9-1.4-1.2-1.3-0.9-3.4-1.5-2-0.5-1.3-0.1z"/>
<path fill="#fbd0b9" fill-rule="evenodd" d="M394.5 185.2l0 0.5 1.3-0.1 1.4-0.3 2.6-1.1 2.1-1.1 1.1-0.9 0.9-1 3-5.1 1.1-2.4 1.6-4.2 1-3.1 0.9-3.6 0.5-2.4 0.8-5.5 0.4-3 0.1-2.4-0.1-2.4-0.3-3.1-1.3-7.8-1.6-6.1-1.5-4.2-1.3-3.1-2.8-4.8-0.5-0.8-1.4-1.4-1.3-0.9-3.4-1.5-2-0.6-1.3-0.1z"/>
<path fill="#f6b191" fill-rule="evenodd" d="M394.5 182.2l1.3-0.1 1.4-0.3 3.3-1.7 1.4-0.9 0.6-0.6 1-1.3 0.7-1.2 3-6.5 0.9-2.6 0.9-3 0.7-3 1-5.5 0.4-3 0.2-3-0.2-3-0.3-3.1-1-5.4-0.7-3.1-1-3.6-0.9-2.5-3-6.6-0.7-1.2-1-1.1-0.7-0.7-1.3-0.9-3.3-1.7-1.4-0.3-1.3-0.1z"/>
<path fill="#e98b6e" fill-rule="evenodd" d="M394.5 178.6l0 0.1 1.3-0.1 1.4-0.5 1.3-0.7 1.9-1.3 0.8-0.6 1.1-1.2 0.9-1.2 0.7-1.2 2.3-6.1 1.3-4.2 1.3-7.3 0.4-4.8 0-2.4-0.3-2.5-1.3-7.2-1.4-4.9-2.3-6-1.4-2.1-0.8-1-1.2-1-2-1.4-1.3-0.7-1.4-0.5-1.3-0.1z"/>
<path fill="#d7634f" fill-rule="evenodd" d="M394.5 174.3l0 0.5 1.3-0.2 1.4-0.6 1.3-0.9 2.7-2.3 1-1.3 1-1.7 0.8-2 1.6-5.4 1.4-6.7 0.4-4.2-0.3-4.3-1.4-6.6-1.3-4.9-0.5-1.6-0.7-1.5-1-1.7-1-1.3-2-1.8-1.4-1-1.3-0.8-1.3-0.4-0.7 0z"/>
<path fill="#c2383a" fill-rule="evenodd" d="M394.5 170.1l0 0.4 1.3-0.3 0.7-0.3 1.3-0.9 2.7-2.7 0.7-0.8 1.2-2.1 1-2.4 0.8-3 0.8-4.9 0.3-3.6-0.2-3.7-0.6-3.6-0.9-4.2-1.1-2.8-1.6-2.7-2.4-2.5-2-1.5-1.3-0.5-0.7-0.1z"/>
<path fill="#a81529" fill-rule="evenodd" d="M394.5 165.2l0 0.5 0.7-0.1 0.6-0.2 1.4-1 1.5-1.6 1.7-2.4 1.5-3.1 0.7-2.4 0.6-2.4 0.3-3-0.2-3-0.5-2.5-0.9-2.8-1.4-3-1.3-2-2-2.2-1.4-0.9-1.3-0.4z"/>
<path fill="#7c0722" fill-rule="evenodd" d="M394.5 159.8l0.7-0.1 0.6-0.4 0.7-0.7 1.7-2.5 1-1.8 0.7-1.8 0.4-1.8 0.2-1.2-0.1-1.2-0.3-1.8-0.7-1.9-0.9-1.9-1-1.7-1-1.2-0.7-0.6-0.6-0.5-0.7-0.1z"/>
<path class="cl" d="M454.8 248.2l-0.1-2.4-0.7-1.8-1.3-2.1-3.6-3.4-1.4-1.8-1.2-2.4-1.2-4.3-0.7-4.2-1.4-9.1-1.7-9.7-4.5-21.2-2.1-11.5-0.5-3.6-0.2-3-0.6-12.8-0.1-6 0.1-5.5 0.6-12.7 0.2-3 0.5-3.7 2.1-11.5 4.5-21.2 1.8-10.3 1.4-9 0.8-4.3 1.2-3.9 0.6-1.4 0.7-1 1.4-1.5 4-2.9 1.3-1.3 1-1.3M470.9 54.4l3.5 1.8 2.4 1 2 0.6 2 0.5 2.6 0.4 4.1 0.3 4-0.2 2-0.3 2-0.5 2-0.8 1.3-0.7 1.4-0.9 1.3-1.1M394.5 226.9l2 0.3 2-0.1 2.7-0.3 2-0.5 1.3-0.6 4-2.4 4.7-3.1 3-2.3 2.4-2.4 0.6-0.8 1.4-2.5 2.1-3.4 1.2-2.4 2.3-7.9 1.1-4.6 0.7-4.4 0.6-6.1 0.2-3.6 0.6-17.6 0-24.2-0.6-20-0.8-9.1-0.7-4.2-1-4.3-2-7.2-1-2.7-2.7-4.3-1.4-2.5-0.6-0.8-2.7-2.7-3.3-2.5-4.1-2.6-4-2.4-1.3-0.6-2-0.5-2.7-0.3-2-0.1-2 0.3M394.5 215.7l3.3-0.6 4.1-1.1 1.3-0.4 1.3-0.7 4-2.6 3.4-2.8 2.3-2.3 2.4-3 2-3.2 0.6-1.7 1.4-4.7 1.3-3.8 1-4.8 1.8-10.9 0.7-5.4 0.5-5.5 0.4-12.7-0.4-13.3-0.5-5.5-0.7-5.4-1.7-10.3-0.9-4.9-0.6-1.8-1.6-4.6-0.7-2.6-0.6-1.7-2-3.2-2.5-3-2.2-2.3-3.4-2.8-4-2.6-1.3-0.6-1.3-0.5-4.1-1.1-3.3-0.6M394.5 208.5l2.7-0.5 4-1.2 2-0.9 1.3-0.7 4-3.4 3.4-3.4 2.5-3.5 2.4-4.2 1.1-2.8 1.3-5.9 1.7-5.9 0.8-4.2 0.7-4.9 0.5-5.4 0.5-12.1-0.1-4.3-0.4-7.8-0.5-6.1-0.6-4.2-0.9-4.9-1.7-5.8-1.2-5.7-1.2-3-2.4-4.2-2.5-3.5-3.4-3.4-4-3.4-1.3-0.7-2-0.9-4-1.2-2.7-0.5M394.5 202.6l2.7-0.5 4-1.2 2-0.9 1.3-0.9 3.2-3 1.1-1.2 3.1-4 1.5-2.7 3.2-6.8 0.6-2 0.6-2.7 2.7-15.1 0.6-7.3 0.2-4.8-0.2-4.9-0.6-7.2-0.8-5.5-1.8-9.9-0.7-3-0.6-2-2.9-6.3-1.8-3.2-3.1-4-1.1-1.3-3.2-2.9-1.3-0.9-2-0.9-4-1.2-2.7-0.5M394.5 197.8l2-0.2 2.7-0.8 2.7-1.1 2-1.2 0.6-0.6 3.6-3.8 2.5-3.9 2-3.5 1.3-2.9 1.2-3.1 1.3-4.2 0.8-3.6 0.7-4.3 0.3-3.6 0.6-7.9 0.1-3.6-0.1-4.3-0.6-7.8-0.3-3.7-0.7-4.2-0.7-3-1.3-4.3-1.1-3-1.3-3-1.6-2.9-2.7-4.4-1.3-1.6-3.3-3.4-2-1.2-2.7-1-2.7-0.8-2-0.3M394.5 193.5l2-0.2 3.3-1.1 2.1-0.9 2-1.4 0.6-0.7 3.4-4.4 2.9-5 1.4-3.1 1.3-3.6 1.1-3.6 0.9-3.7 1.1-6.3 0.6-5.8 0.1-4.2-0.1-3.8-0.5-5.3-0.4-3.6-0.9-4.3-0.8-3.6-1.1-3.6-1.4-3.7-1.3-3-2.9-5-3.4-4.4-0.6-0.7-2-1.4-2.7-1.1-2.7-0.9-2-0.2M394.5 189.6l1.3-0.1 2-0.5 3.4-1.5 1.3-0.9 1.4-1.2 0.6-0.9 2.6-3.5 1.1-1.8 1.4-3.1 1.5-3.6 1-3 1-3.7 0.9-4.2 0.6-4.2 0.5-4.3 0.2-3.6-0.1-3.7-0.5-4.2-0.7-4.8-0.9-4.3-1-3.6-1.1-3-1.4-3.7-1.5-3-1-1.8-2.6-3.5-0.6-0.9-1.4-1.2-1.3-0.9-3.4-1.5-2-0.5-1.3-0.1M394.5 185.7l1.3-0.1 2-0.6 2.7-1.1 1.7-1.1 1-0.8 0.9-1 2.8-4.9 1.1-2.4 1.6-4.2 1-3.1 0.9-3.6 0.5-2.4 0.8-5.5 0.4-3 0.1-2.4-0.1-2.4-0.3-3.1-1.3-7.8-1.6-6.1-1.5-4.2-1.3-3.1-2.8-4.8-0.5-0.8-1.4-1.4-1.3-0.9-3.4-1.5-2-0.6-1.3-0.1M394.5 182.2l1.3-0.1 1.4-0.3 3.3-1.7 1.4-0.9 0.6-0.6 1-1.3 0.7-1.2 3-6.5 0.9-2.6 0.9-3 0.7-3 1-5.5 0.4-3 0.2-3-0.2-3-0.3-3.1-1-5.4-0.7-3.1-1-3.6-0.9-2.5-3-6.6-0.7-1.2-1-1.1-0.7-0.7-1.3-0.9-3.3-1.7-1.4-0.3-1.3-0.1M394.5 178.7l1.3-0.1 1.4-0.5 1.3-0.7 1.9-1.3 0.8-0.6 1.1-1.2 0.9-1.2 0.7-1.2 2.3-6.1 1.3-4.2 1.3-7.3 0.4-4.8 0-2.4-0.3-2.5-1.3-7.2-1.4-4.9-2.3-6-1.4-2.1-0.8-1-1.2-1-2-1.4-1.3-0.7-1.4-0.5-1.3-0.1M394.5 174.8l0.7 0 1.3-0.4 1.3-0.8 1.4-1 2-1.8 1-1.3 1-1.7 0.8-2 1.6-5.4 1.4-6.7 0.4-4.2-0.3-4.3-1.4-6.6-1.3-4.9-0.5-1.6-0.7-1.5-1-1.7-1-1.3-2-1.8-1.4-1-1.3-0.8-1.3-0.4-0.7 0M394.5 170.5l0.7-0.1 1.3-0.5 2-1.5 2.4-2.6 1.6-2.6 1.1-2.8 0.7-3 0.7-4.3 0.3-3.6-0.2-3.7-0.6-3.6-0.9-4.2-1.1-2.8-1.6-2.7-2.4-2.5-2-1.5-1.3-0.5-0.7-0.1M394.5 165.7l1.3-0.3 1.4-1 2-2.2 1.3-2 1.4-2.9 0.7-2.4 0.6-2.4 0.3-3-0.2-3-0.5-2.5-0.9-2.8-1.4-3-1.3-2-2-2.2-1.4-0.9-1.3-0.4M394.5 159.8l0.7-0.1 0.6-0.4 0.7-0.7 1.7-2.5 1-1.8 0.7-1.8 0.4-1.8 0.2-1.2-0.1-1.2-0.3-1.8-0.7-1.9-0.9-1.9-1-1.7-1-1.2-0.7-0.6-0.6-0.5-0.7-0.1"/>
<path class="cl cd" d="M452.7 180.4l-1.4-0.5-1.4-0.7-1.9-1.4-1.3-1.2-1.3-1.7-0.7-1.2-1.7-3.6-0.9-3.1-0.6-2.4-1.1-6-0.5-6.1 0-6.7 0.5-6 1.1-6.1 1.3-4.8 1-2.4 0.9-1.8 0.7-1.3 1.3-1.6 1.3-1.2 1.3-1 2-1.1 1.4-0.5 1.3-0.3 1.4 0 1.4 0.3 1.9 0.9 1.3 1 2.7 2.3 1.5 2.5 1.2 2.4 1.7 5.4 0.7 3.1 0.6 3.6 0.6 6.6-0.1 7.3-0.6 6.7-0.5 3-0.7 3-1.7 5.5-1.9 3.6-0.8 1.3-2.7 2.4-2 1.3-1.3 0.6-1.3 0.2-1.4 0z"/></g>
<rect class="sp" x="394.5" y="54.4" width="107" height="193.8"/>
<rect x="507.8" y="236.65" width="10" height="11.70" fill="#0d3f76"/>
<rect x="507.8" y="225.25" width="10" height="11.70" fill="#1d5fa2"/>
<rect x="507.8" y="213.85" width="10" height="11.70" fill="#307ab6"/>
<rect x="507.8" y="202.45" width="10" height="11.70" fill="#4695c4"/>
<rect x="507.8" y="191.05" width="10" height="11.70" fill="#75b2d4"/>
<rect x="507.8" y="179.65" width="10" height="11.70" fill="#a0cce2"/>
<rect x="507.8" y="168.25" width="10" height="11.70" fill="#c5dfec"/>
<rect x="507.8" y="156.85" width="10" height="11.70" fill="#e0ecf3"/>
<rect x="507.8" y="145.45" width="10" height="11.70" fill="#f7f6f6"/>
<rect x="507.8" y="134.05" width="10" height="11.70" fill="#fbe6da"/>
<rect x="507.8" y="122.65" width="10" height="11.70" fill="#fbd0b9"/>
<rect x="507.8" y="111.25" width="10" height="11.70" fill="#f6b191"/>
<rect x="507.8" y="99.85" width="10" height="11.70" fill="#e98b6e"/>
<rect x="507.8" y="88.45" width="10" height="11.70" fill="#d7634f"/>
<rect x="507.8" y="77.05" width="10" height="11.70" fill="#c2383a"/>
<rect x="507.8" y="65.65" width="10" height="11.70" fill="#a81529"/>
<rect x="507.8" y="54.25" width="10" height="11.70" fill="#7c0722"/>
<rect class="sp" x="507.8" y="54.4" width="10" height="193.8"/>
<text class="tk" x="526.1" y="70.50">5.6</text>
<text class="tk" x="526.1" y="93.30">4.8</text>
<text class="tk" x="526.1" y="116.10">4.0</text>
<text class="tk" x="526.1" y="138.90">3.2</text>
<text class="tk" x="526.1" y="161.70">2.4</text>
<text class="tk" x="526.1" y="184.50">1.6</text>
<text class="tk" x="526.1" y="207.30">0.8</text>
<text class="tk" x="526.1" y="230.10">0</text>
<text class="tk" x="526.1" y="252.90">–0.8</text>
<path class="tick" d="M517.8 65.80h4M517.8 88.60h4M517.8 111.40h4M517.8 134.20h4M517.8 157.00h4M517.8 179.80h4M517.8 202.60h4M517.8 225.40h4M517.8 248.20h4"/>
<text class="tk" style="font-size:13.8px" x="502.9" y="51.50"><tspan style="font-size:18.5px" dy="1.6">×</tspan><tspan dx="-1.5" dy="-1.6"> 10</tspan></text>
<g><rect x="614.5" y="54.4" width="107" height="193.8" fill="#0c3d73"/>
<path fill="#1a5899" fill-rule="evenodd" d="M614.5 248.2l107 0 0-193.8-107 0zM644.6 136.8l-2-0.4-1.4-0.6-1.2-0.9-0.8-0.9-0.6-1.5-0.1-1.2 0.1-1.2 0.6-1.8 0.8-1.2 1.2-1.4 1.4-0.9 1.5-0.8 1.8-0.4 1.4-0.1 2 0.3 1.3 0.5 1.4 0.8 0.6 0.6 0.8 0.8 0.7 1.2 0.5 1.2 0.2 1.2-0.1 1.2-0.3 1.2-0.4 0.8-0.9 1-1.1 0.9-1.4 0.8-1.3 0.4-1.7 0.4-1.7 0.1z"/>
<path fill="#2a71b2" fill-rule="evenodd" d="M614.5 248.2l107 0 0-193.8-107 0zM642.6 139.9l-2.7-0.6-2-0.8-0.9-0.5-1.1-0.9-0.8-0.9-0.5-0.8-0.5-1.1-0.3-1.2-0.1-2.4 0.6-2.4 1-2.4 1.6-2.5 1-1.1 1.3-1.1 2-1.4 2.7-1.1 2.7-0.5 2.7 0.1 2.7 0.6 2 0.9 2 1.4 1.6 1.6 1.3 1.9 0.9 1.8 0.6 2.4 0.1 1.8-0.3 1.8-0.8 1.8-1.4 1.8-1.4 1.1-2 1.1-2 0.7-2.7 0.7-2 0.2-2.6 0.1z"/>
<path fill="#3a87bd" fill-rule="evenodd" d="M614.5 248.2l107 0 0-193.8-107 0zM639.9 141.7l-2-0.4-2-0.7-1.3-0.6-1.2-0.8-0.8-0.7-1-1.1-0.7-1.2-0.3-1.1-0.4-1.4-0.1-1.8 0.1-1.8 0.4-1.7 0.5-1.9 0.8-1.8 1.7-3.1 1-1.3 1.3-1.5 2.7-2.3 2.6-1.6 1.4-0.5 2-0.6 1.3-0.3 2-0.2 2 0.1 1.4 0.3 2 0.5 1.3 0.5 2.7 1.5 2.3 1.8 2.2 2.4 1.5 2.4 1.3 3.1 0.4 1.8 0.2 1.2-0.1 2.4-0.6 2.4-1 1.9-1.5 1.8-2 1.4-2 1.1-3.3 1.1-3.4 0.7-4 0.4-4 0z"/>
<path fill="#569fc9" fill-rule="evenodd" d="M614.5 248.2l107 0 0-193.8-107 0zM639.9 143.5l-2.7-0.4-2-0.5-2-0.7-1.3-0.6-1.4-0.9-1.3-1.2-0.8-1.2-0.5-1.1-0.5-1.3-0.3-1.9 0-1.8 0.2-2.4 0.4-2.4 0.7-2.4 0.8-2 1.1-2.3 1.1-1.8 1.3-1.8 1.6-1.8 1.6-1.6 1.3-1 2-1.4 1.4-0.7 2-0.8 2-0.6 2-0.4 2-0.1 2 0.1 2 0.3 2 0.6 1.8 0.7 1.6 0.8 1.6 1 1.6 1.2 2.8 2.7 2.1 2.8 1.1 1.8 0.8 1.8 0.7 1.8 0.5 1.9 0.3 1.8 0.1 1.8-0.1 1.8-0.2 1.2-0.6 1.8-0.6 1.3-0.8 1.2-1 1.2-2.3 1.7-2.4 1.3-3.5 1.2-4.1 0.9-4.7 0.5-4.7 0.1z"/>
<path fill="#7eb8d7" fill-rule="evenodd" d="M614.5 248.2l107 0 0-193.8-107 0zM637.9 144.7l-2.7-0.4-2.6-0.6-2-0.7-1.7-0.8-1.6-1.2-0.8-0.8-0.6-1-0.9-1.8-0.5-2.5-0.2-2.4 0.1-2.4 0.5-3 0.7-3.1 0.9-2.8 1.2-2.6 1.2-2.4 1.6-2.4 1.4-1.9 1.7-1.8 1.6-1.5 2-1.6 2-1.2 2-1 2.1-0.7 2-0.5 2-0.3 2-0.1 2.7 0.2 2 0.3 2 0.6 2 0.8 2 1 2 1.3 1.9 1.5 1.4 1.3 1.7 1.7 1.7 2.2 1.3 2 1.1 1.9 1.1 2.4 0.9 2.4 0.4 1.9 0.4 2.4 0.2 1.8-0.1 1.8-0.3 1.8-0.5 1.8-0.8 1.9-0.8 1.2-1.1 1.2-2.2 1.8-1.6 0.9-2 0.9-4 1.2-4.7 0.9-6.1 0.6-6 0.1z"/>
<path fill="#a2cde3" fill-rule="evenodd" d="M614.5 248.2l107 0 0-193.8-107 0zM637.9 145.9l-3.3-0.4-2.7-0.4-2.7-0.6-2-0.8-1.5-0.9-1.3-1.2-0.9-1.2-0.9-1.8-0.5-2.4-0.3-2.5 0-3 0.4-3.6 0.7-3.7 1-3.4 1.1-3.2 1.4-3 1.5-2.8 1.3-2 1.5-1.9 1.9-2.1 2-1.8 2-1.6 2-1.2 2.6-1.3 2.1-0.7 2.6-0.6 2.7-0.4 2.7 0.1 2.7 0.3 2 0.4 2.6 0.9 2 1 2.7 1.5 2 1.4 2 1.7 2 2 1.9 2.2 1.7 2.4 1.5 2.5 1.5 3 1 2.4 1 3 0.6 3.1 0.2 2.4 0 2.4-0.3 2.4-0.5 1.8-0.7 1.9-0.7 1.2-1 1.2-1.1 1.2-1.6 1.2-1.5 0.9-2 0.9-4 1.3-2.3 0.5-3.7 0.6-6.2 0.6-7.8 0.3z"/>
<path fill="#c2ddec" fill-rule="evenodd" d="M614.5 248.2l107 0 0-193.8-107 0zM632.6 146.5l-3.4-0.5-2.7-0.6-1.9-0.8-1.4-0.8-1.3-1.2-1-1.6-0.7-1.8-0.5-2.4-0.2-3.7 0.2-4.8 0.6-4.9 0.8-4.2 1.2-4.2 1.3-3.7 1.6-3.5 2-3.4 1.5-2.2 2-2.4 2.5-2.4 2-1.6 2-1.4 2.7-1.4 2-0.9 2.7-0.8 2.7-0.5 2.6-0.2 2.7 0.1 2.7 0.4 2.7 0.6 2.6 1 2.7 1.2 2 1.2 2.7 1.9 2.5 2.2 2.2 2.2 2.2 2.7 2.2 3 1.6 2.7 1.7 3.3 1.2 3.1 1 3 0.8 3 0.5 3.1 0.2 3-0.2 3-0.5 2.4-0.8 2.5-1.1 1.8-0.9 1.2-1.2 1.2-1.5 1.2-2.1 1.2-2.4 1.1-2.1 0.6-4.6 1.1-7.1 0.9-9 0.4-10 0.1z"/>
<path fill="#dae9f2" fill-rule="evenodd" d="M614.5 248.2l107 0 0-193.8-107 0zM635.9 147.7l-4.7-0.3-4-0.3-2.7-0.5-2-0.6-1.4-0.8-1.4-1.2-0.8-1.2-0.7-1.8-0.6-3-0.2-4.9 0.1-5.4 0.6-6.1 0.8-5.4 0.9-4.7 1.4-4.6 1.5-4.1 1.5-3 1.7-2.9 2-2.8 2-2.4 2-2 2.7-2.2 2.6-1.7 2.7-1.4 2.7-1.1 2.7-0.7 2.6-0.5 3.4-0.2 2.7 0.1 3.3 0.5 2.7 0.7 3.3 1.2 3.4 1.7 2.6 1.7 3 2.3 3.1 2.8 2.6 3 2.5 3.3 2.4 3.6 2 3.7 1.9 4.2 1.5 4.3 1.2 4.2 0.7 3.6 0.3 3.7 0 3.6-0.5 3-0.9 3.1-0.9 1.8-1.3 1.8-1.2 1.2-1.5 1.2-2 1.2-2.2 1-2.7 0.8-2.5 0.6-3.4 0.7-4.1 0.4-8.7 0.6-11.3 0.3z"/>
<path fill="#edf2f5" fill-rule="evenodd" d="M614.5 248.2l107 0 0-193.8-107 0zM629.2 148.3l-4-0.2-3.3-0.4-2.1-0.5-1.3-0.6-1-0.8-0.8-1.2-0.5-1.8-0.4-2.3-0.2-6.8 0.2-10.3 0.5-8.4 0.8-7.3 0.9-5.5 1.3-5.4 1.6-4.9 1.9-4.2 1.7-2.9 2-2.9 2-2.4 2.7-2.7 2.7-2.1 2.7-1.8 3.3-1.7 3.4-1.3 2.6-0.7 3.4-0.5 3.3-0.2 3.4 0.2 2.6 0.5 3.4 0.9 3.3 1.2 3.4 1.6 4 2.3 3.3 2.4 3.4 2.8 3.6 3.7 2.9 3.6 2.9 4.2 2.5 4.3 2.4 4.8 2.2 5.5 1.8 5.4 1.3 5.5 0.8 4.8 0.2 4.9-0.2 4.2-0.8 3.6-1.2 3.1-1.1 1.8-1.6 1.8-1.4 1.2-2 1.2-2.3 1.1-2.4 0.7-2.5 0.7-3.5 0.6-7 0.7-11.4 0.5-18 0.2z"/>
<path fill="#f9f0eb" fill-rule="evenodd" d="M640.2 247.6l3.2 0.6 78.1 0 0-98.9-95-0.1-9.3 0.1-2.7 0.2 0 89.6 0 1.8 0.2 1.2 0.3 0.6 0.5 0.7 1.1 0.6 1.9 0.6 3.1 0.6 13 1.5zM715.3 72l6.2 0.5 0-18.1-49.5 0 4 3.3 4.7 3.1 4.7 2.6 5.3 2.4 6.1 2.2 6 1.7 6 1.3z"/>
<path fill="#fce2d2" fill-rule="evenodd" d="M647.7 228.8l2.9 0.3 2.7 0 3.3-0.4 2.7-0.5 3.3-1 2.7-1.1 2.7-1.3 2.7-1.5 2.7-1.8 2.6-2.1 2.4-2.1 2.4-2.4 2.2-2.4 2.4-3.1 2.2-3 2.3-3.6 2-3.7 1.8-3.6 1.5-3.6 1.5-4.3 1-3.6 0.7-3.6 0.5-3.7 0.1-3-0.2-3-0.4-2.4-0.7-2.5-1.1-2.4-1.1-1.8-1.6-1.8-1.8-1.6-2-1.3-2.8-1.4-3.3-1.1-3.3-0.9-4-0.8-4.7-0.7-5.3-0.5-6.7-0.4-7.4-0.3-8.7-0.1-7.3 0-6 0.3-4.1 0.4-3 0.5-2.3 0.8-1.6 1-1.1 1.4-0.7 1.7-0.5 1.8-0.4 2.4-0.1 2.4-0.1 7.9 0.5 9.1 0.8 7.8 1.1 7.3 1.5 6.1 1.9 5.6 2 4.4 2.4 3.9 2.8 3.6 2.9 2.8 3.3 2.5 2 1.2 2 1 4 1.4z"/>
<path fill="#fbccb4" fill-rule="evenodd" d="M648.1 216.1l2.5 0.1 2.7-0.2 2-0.3 2.7-0.6 2-0.7 2.6-1 2.7-1.4 2-1.2 2.7-1.9 2-1.6 2-1.8 2.1-2.1 2.1-2.4 1.8-2.5 1.7-2.4 1.8-3 1.5-3 1.4-3.1 1.1-3 0.7-2.4 0.7-3 0.4-2.5 0.1-2.4 0-2.4-0.3-2.4-0.5-1.9-0.7-1.8-0.9-1.8-1.3-1.8-1.2-1.2-1.8-1.5-2-1.3-3.1-1.5-2.9-1-3.4-0.8-4.6-0.9-5.4-0.7-5.3-0.4-6.1-0.3-6-0.2-5.3 0.1-4.7 0.2-3.8 0.4-2.9 0.5-2.3 0.7-1.7 0.8-1.4 1-0.6 0.7-0.8 1.2-0.6 1.2-0.5 1.8-0.4 1.8-0.2 2.4-0.1 5.5 0.5 6.6 0.8 6.1 1.3 5.9 1.5 5 1.8 4.5 2 3.8 2.7 3.8 2.7 2.9 2.7 2.3 3.3 2.1 3.3 1.5 3.4 1z"/>
<path fill="#f6b394" fill-rule="evenodd" d="M644.7 207.6l2.6 0.4 2 0 2 0 2-0.3 2-0.4 2.7-0.8 4-1.7 2-1.2 2-1.3 2-1.5 2-1.8 2-2 1.9-2.1 3-4.2 1.5-2.5 1.2-2.4 1.1-2.4 0.8-2.4 0.7-2.4 0.5-2.5 0.2-2.4 0.1-1.8-0.2-1.8-0.3-1.8-0.5-1.9-0.8-1.8-1.2-1.8-1-1.2-1.3-1.2-1.6-1.2-2.1-1.2-2.8-1.2-3.8-1.3-3.4-0.8-4-0.6-4.7-0.6-4.7-0.3-5.3-0.2-4.7 0-4.7 0.2-4 0.5-2.7 0.5-2.2 0.7-1.8 0.9-1.3 1-1.4 1.6-0.6 1.3-0.5 1.3-0.6 3-0.3 3.7 0.2 4.8 0.6 4.8 1 4.9 1.2 4.2 1.7 4.3 1.5 3 1.9 3 2 2.5 2.6 2.7 2.7 2.1 2.7 1.5 2.6 1.2z"/>
<path fill="#ec9374" fill-rule="evenodd" d="M645 201.6l3.6 0.2 2-0.1 2-0.2 2-0.5 2-0.6 2-0.8 2-1 3.4-2.2 3.3-2.8 1.8-1.7 1.5-1.8 2.6-3.7 2-3.6 1-2.4 0.6-1.8 0.4-1.9 0.4-2.4 0.2-1.8-0.1-1.8-0.2-1.8-0.5-1.9-0.8-1.8-0.7-1.2-0.9-1.2-1.1-1.2-1.5-1.2-1.3-0.9-2-1.1-2.7-1.1-3.4-1-3.2-0.8-3.8-0.6-4.3-0.4-4-0.3-4.7-0.1-3.4 0.1-3.3 0.3-2.9 0.4-2.5 0.6-2 0.8-1.9 1.1-1.4 1.2-0.9 1.2-0.6 1.2-0.5 1.2-0.5 2.4-0.2 3.7 0.2 3.6 0.5 3.7 0.9 4.2 1.2 3.6 1.6 3.6 1.6 3 2.1 2.8 2 2.3 2 1.8 2 1.4 2.6 1.5 2.7 1z"/>
<path fill="#dd7059" fill-rule="evenodd" d="M643.2 196.1l3.4 0.5 3.3 0 3.4-0.6 3.3-1.2 3.4-1.7 3.3-2.4 2.7-2.6 2.7-3.3 1.9-3.2 1.5-3.7 0.6-1.8 0.3-1.8 0.2-3-0.1-1.8-0.3-1.2-0.6-1.9-0.6-1.2-0.7-1.2-1-1.2-2.1-1.8-1.9-1.2-2.6-1.2-2-0.8-2.7-0.7-3.3-0.7-3.3-0.5-3.6-0.4-3.8-0.1-3.4 0-3.3 0.2-2.7 0.4-2.6 0.6-2 0.7-1.4 0.7-1.5 1.2-1.2 1.3-0.9 1.7-0.7 2.4-0.3 2.4 0 3.1 0.4 3 0.7 3.6 1 3.1 1.2 2.8 1.3 2.6 1.7 2.4 1.7 2.1 2 1.9 2 1.6 2 1.2 2 0.9z"/>
<path fill="#cc4c44" fill-rule="evenodd" d="M644.6 191.9l2.7 0.2 3.3-0.3 3.4-0.9 2.6-1.2 2.7-1.6 2.8-2.3 2.2-2.4 2.1-3 1.4-3.1 0.9-3 0.3-3-0.3-2.4-0.7-2.5-1.1-1.8-1.6-1.8-2.4-1.8-2.3-1.2-1.6-0.6-2.4-0.8-2.6-0.6-2.7-0.5-3.4-0.4-3-0.1-3 0-4.7 0.4-2 0.4-2 0.7-1.3 0.5-1.5 1-1.3 1.2-0.9 1.2-0.8 1.8-0.4 1.8-0.2 2.5 0.1 2.4 0.4 2.4 0.8 3 0.9 2.5 1.1 2.4 1.5 2.4 1.4 1.8 1.6 1.6 2 1.7 2 1.3 2 1 2 0.6z"/>
<path fill="#ba2832" fill-rule="evenodd" d="M644.8 187.6l1.8 0.2 2-0.1 2-0.3 2-0.6 2-0.9 2-1.2 1.8-1.3 1.3-1.2 1.1-1.2 1.3-1.8 1.1-1.9 0.8-1.9 0.5-1.7 0.2-1.8 0-1.8-0.3-1.8-0.5-1.3-0.6-1.2-0.9-1.2-1.1-1.2-1.3-1-1.4-0.8-2-1-2-0.7-2.6-0.7-2.1-0.4-4.6-0.5-4.7 0.2-2 0.2-2 0.5-2 0.7-1.9 1.1-1.5 1.4-1 1.6-0.6 1.8-0.3 2.5 0.2 2.4 0.6 3 1.1 3 1.3 2.5 1.4 2 2 2.2 2 1.6 2 1.1 2.7 1.1z"/>
<path fill="#9f1228" fill-rule="evenodd" d="M642.7 182.8l2.6 0.5 2 0 2-0.2 2-0.6 2-1 1.7-1.1 1.6-1.5 1.4-1.7 1.2-2.3 0.6-1.8 0.3-1.8-0.1-1.8-0.5-1.8-0.9-1.7-1.2-1.4-1.5-1.2-2.6-1.4-3.3-1-3.4-0.6-3.3-0.1-3.4 0.4-2.7 0.7-2 1.2-1.4 1.4-0.7 1.2-0.4 1.2-0.2 1.3-0.1 1.2 0.2 1.5 0.3 1.5 1.1 3 1.4 2.4 0.9 1.3 1.2 1.2 1.1 0.9 1.3 0.9 1.3 0.7z"/>
<path fill="#790622" fill-rule="evenodd" d="M643.1 177.3l1.5 0.4 1.3 0.2 1.4-0.1 1.3-0.4 1.3-0.5 1.2-0.8 0.9-0.7 0.8-1.1 0.7-1.2 0.5-1.2 0.1-1.2 0-1.2-0.4-1.2-0.6-1.3-1.1-1.2-0.9-0.6-1.2-0.6-2-0.8-2-0.4-2-0.1-2 0.2-1.6 0.5-1.2 0.6-1.2 1.2-0.7 1.2-0.3 1.9 0.3 1.8 0.6 1.8 0.8 1.3 1.3 1.5 1.3 1.1z"/>
<path class="cl" d="M614.5 233.8l0.1 7.7 0.4 1.2 0.5 0.7 1.1 0.6 1.9 0.6 3.1 0.6 15.6 1.9 6.2 1.1M721.5 149.3l-95-0.1-9.3 0.1-2.7 0.2M614.5 74.5l0-20.1M672 54.4l4.5 3.6 4.9 3.2 2.6 1.5 3.4 1.7 6 2.5 6.7 2.1 6.7 1.6 7.3 1.2 7.4 0.7M647.7 228.8l2.9 0.3 2.7 0 3.3-0.4 2.7-0.5 3.3-1 2.7-1.1 2.7-1.3 2.7-1.5 2.7-1.8 2.6-2.1 2.4-2.1 2.4-2.4 2.2-2.4 2.4-3.1 2.2-3 2.3-3.6 2-3.7 1.8-3.6 1.5-3.6 1.5-4.3 1-3.6 0.7-3.6 0.5-3.7 0.1-3-0.2-3-0.4-2.4-0.7-2.5-1.1-2.4-1.1-1.8-1.6-1.8-1.8-1.6-2-1.3-2.8-1.4-3.3-1.1-3.3-0.9-4-0.8-4.7-0.7-5.3-0.5-6.7-0.4-7.4-0.3-8.7-0.1-7.3 0-6 0.3-4.1 0.4-3 0.5-2.3 0.8-1.6 1-1.1 1.4-0.7 1.7-0.5 1.8-0.4 2.4-0.1 2.4-0.1 7.9 0.5 9.1 0.8 7.8 1.1 7.3 1.5 6.1 1.9 5.6 2 4.4 2.4 3.9 2.8 3.6 2.9 2.8 3.3 2.5 2 1.2 2 1 4 1.4zM648.1 216.1l2.5 0.1 2.7-0.2 2-0.3 2.7-0.6 2-0.7 2.6-1 2.7-1.4 2-1.2 2.7-1.9 2-1.6 2-1.8 2.1-2.1 2.1-2.4 1.8-2.5 1.7-2.4 1.8-3 1.5-3 1.4-3.1 1.1-3 0.7-2.4 0.7-3 0.4-2.5 0.1-2.4 0-2.4-0.3-2.4-0.5-1.9-0.7-1.8-0.9-1.8-1.3-1.8-1.2-1.2-1.8-1.5-2-1.3-3.1-1.5-2.9-1-3.4-0.8-4.6-0.9-5.4-0.7-5.3-0.4-6.1-0.3-6-0.2-5.3 0.1-4.7 0.2-3.8 0.4-2.9 0.5-2.3 0.7-1.7 0.8-1.4 1-0.6 0.7-0.8 1.2-0.6 1.2-0.5 1.8-0.4 1.8-0.2 2.4-0.1 5.5 0.5 6.6 0.8 6.1 1.3 5.9 1.5 5 1.8 4.5 2 3.8 2.7 3.8 2.7 2.9 2.7 2.3 3.3 2.1 3.3 1.5 3.4 1zM644.7 207.6l2.6 0.4 2 0 2 0 2-0.3 2-0.4 2.7-0.8 4-1.7 2-1.2 2-1.3 2-1.5 2-1.8 2-2 1.9-2.1 3-4.2 1.5-2.5 1.2-2.4 1.1-2.4 0.8-2.4 0.7-2.4 0.5-2.5 0.2-2.4 0.1-1.8-0.2-1.8-0.3-1.8-0.5-1.9-0.8-1.8-1.2-1.8-1-1.2-1.3-1.2-1.6-1.2-2.1-1.2-2.8-1.2-3.8-1.3-3.4-0.8-4-0.6-4.7-0.6-4.7-0.3-5.3-0.2-4.7 0-4.7 0.2-4 0.5-2.7 0.5-2.2 0.7-1.8 0.9-1.3 1-1.4 1.6-0.6 1.3-0.5 1.3-0.6 3-0.3 3.7 0.2 4.8 0.6 4.8 1 4.9 1.2 4.2 1.7 4.3 1.5 3 1.9 3 2 2.5 2.6 2.7 2.7 2.1 2.7 1.5 2.6 1.2zM645 201.6l3.6 0.2 2-0.1 2-0.2 2-0.5 2-0.6 2-0.8 2-1 3.4-2.2 3.3-2.8 1.8-1.7 1.5-1.8 2.6-3.7 2-3.6 1-2.4 0.6-1.8 0.4-1.9 0.4-2.4 0.2-1.8-0.1-1.8-0.2-1.8-0.5-1.9-0.8-1.8-0.7-1.2-0.9-1.2-1.1-1.2-1.5-1.2-1.3-0.9-2-1.1-2.7-1.1-3.4-1-3.2-0.8-3.8-0.6-4.3-0.4-4-0.3-4.7-0.1-3.4 0.1-3.3 0.3-2.9 0.4-2.5 0.6-2 0.8-1.9 1.1-1.4 1.2-0.9 1.2-0.6 1.2-0.5 1.2-0.5 2.4-0.2 3.7 0.2 3.6 0.5 3.7 0.9 4.2 1.2 3.6 1.6 3.6 1.6 3 2.1 2.8 2 2.3 2 1.8 2 1.4 2.6 1.5 2.7 1zM643.2 196.1l3.4 0.5 3.3 0 3.4-0.6 3.3-1.2 3.4-1.7 3.3-2.4 2.7-2.6 2.7-3.3 1.9-3.2 1.5-3.7 0.6-1.8 0.3-1.8 0.2-3-0.1-1.8-0.3-1.2-0.6-1.9-0.6-1.2-0.7-1.2-1-1.2-2.1-1.8-1.9-1.2-2.6-1.2-2-0.8-2.7-0.7-3.3-0.7-3.3-0.5-3.6-0.4-3.8-0.1-3.4 0-3.3 0.2-2.7 0.4-2.6 0.6-2 0.7-1.4 0.7-1.5 1.2-1.2 1.3-0.9 1.7-0.7 2.4-0.3 2.4 0 3.1 0.4 3 0.7 3.6 1 3.1 1.2 2.8 1.3 2.6 1.7 2.4 1.7 2.1 2 1.9 2 1.6 2 1.2 2 0.9zM644.6 191.9l2.7 0.2 3.3-0.3 3.4-0.9 2.6-1.2 2.7-1.6 2.8-2.3 2.2-2.4 2.1-3 1.4-3.1 0.9-3 0.3-3-0.3-2.4-0.7-2.5-1.1-1.8-1.6-1.8-2.4-1.8-2.3-1.2-1.6-0.6-2.4-0.8-2.6-0.6-2.7-0.5-3.4-0.4-3-0.1-3 0-4.7 0.4-2 0.4-2 0.7-1.3 0.5-1.5 1-1.3 1.2-0.9 1.2-0.8 1.8-0.4 1.8-0.2 2.5 0.1 2.4 0.4 2.4 0.8 3 0.9 2.5 1.1 2.4 1.5 2.4 1.4 1.8 1.6 1.6 2 1.7 2 1.3 2 1 2 0.6zM644.8 187.6l1.8 0.2 2-0.1 2-0.3 2-0.6 2-0.9 2-1.2 1.8-1.3 1.3-1.2 1.1-1.2 1.3-1.8 1.1-1.9 0.8-1.9 0.5-1.7 0.2-1.8 0-1.8-0.3-1.8-0.5-1.3-0.6-1.2-0.9-1.2-1.1-1.2-1.3-1-1.4-0.8-2-1-2-0.7-2.6-0.7-2.1-0.4-4.6-0.5-4.7 0.2-2 0.2-2 0.5-2 0.7-1.9 1.1-1.5 1.4-1 1.6-0.6 1.8-0.3 2.5 0.2 2.4 0.6 3 1.1 3 1.3 2.5 1.4 2 2 2.2 2 1.6 2 1.1 2.7 1.1zM642.7 182.8l2.6 0.5 2 0 2-0.2 2-0.6 2-1 1.7-1.1 1.6-1.5 1.4-1.7 1.2-2.3 0.6-1.8 0.3-1.8-0.1-1.8-0.5-1.8-0.9-1.7-1.2-1.4-1.5-1.2-2.6-1.4-3.3-1-3.4-0.6-3.3-0.1-3.4 0.4-2.7 0.7-2 1.2-1.4 1.4-0.7 1.2-0.4 1.2-0.2 1.3-0.1 1.2 0.2 1.5 0.3 1.5 1.1 3 1.4 2.4 0.9 1.3 1.2 1.2 1.1 0.9 1.3 0.9 1.3 0.7zM643.1 177.3l1.5 0.4 1.3 0.2 1.4-0.1 1.3-0.4 1.3-0.5 1.2-0.8 0.9-0.7 0.8-1.1 0.7-1.2 0.5-1.2 0.1-1.2 0-1.2-0.4-1.2-0.6-1.3-1.1-1.2-0.9-0.6-1.2-0.6-2-0.8-2-0.4-2-0.1-2 0.2-1.6 0.5-1.2 0.6-1.2 1.2-0.7 1.2-0.3 1.9 0.3 1.8 0.6 1.8 0.8 1.3 1.3 1.5 1.3 1.1z"/>
<path class="cl cd" d="M644.6 136.8l-2-0.4-1.4-0.6-1.2-0.9-0.8-0.9-0.6-1.5-0.1-1.2 0.1-1.2 0.6-1.8 0.8-1.2 1.2-1.4 1.4-0.9 1.5-0.8 1.8-0.4 1.4-0.1 2 0.3 1.3 0.5 1.4 0.8 0.6 0.6 0.8 0.8 0.7 1.2 0.5 1.2 0.2 1.2-0.1 1.2-0.3 1.2-0.4 0.8-0.9 1-1.1 0.9-1.4 0.8-1.3 0.4-1.7 0.4-1.7 0.1zM642.6 139.9l-2.7-0.6-2-0.8-0.9-0.5-1.1-0.9-0.8-0.9-0.5-0.8-0.5-1.1-0.3-1.2-0.1-2.4 0.6-2.4 1-2.4 1.6-2.5 1-1.1 1.3-1.1 2-1.4 2.7-1.1 2.7-0.5 2.7 0.1 2.7 0.6 2 0.9 2 1.4 1.6 1.6 1.3 1.9 0.9 1.8 0.6 2.4 0.1 1.8-0.3 1.8-0.8 1.8-1.4 1.8-1.4 1.1-2 1.1-2 0.7-2.7 0.7-2 0.2-2.6 0.1zM639.9 141.7l-2-0.4-2-0.7-1.3-0.6-1.2-0.8-0.8-0.7-1-1.1-0.7-1.2-0.3-1.1-0.4-1.4-0.1-1.8 0.1-1.8 0.4-1.7 0.5-1.9 0.8-1.8 1.7-3.1 1-1.3 1.3-1.5 2.7-2.3 2.6-1.6 1.4-0.5 2-0.6 1.3-0.3 2-0.2 2 0.1 1.4 0.3 2 0.5 1.3 0.5 2.7 1.5 2.3 1.8 2.2 2.4 1.5 2.4 1.3 3.1 0.4 1.8 0.2 1.2-0.1 2.4-0.6 2.4-1 1.9-1.5 1.8-2 1.4-2 1.1-3.3 1.1-3.4 0.7-4 0.4-4 0zM639.9 143.5l-2.7-0.4-2-0.5-2-0.7-1.3-0.6-1.4-0.9-1.3-1.2-0.8-1.2-0.5-1.1-0.5-1.3-0.3-1.9 0-1.8 0.2-2.4 0.4-2.4 0.7-2.4 0.8-2 1.1-2.3 1.1-1.8 1.3-1.8 1.6-1.8 1.6-1.6 1.3-1 2-1.4 1.4-0.7 2-0.8 2-0.6 2-0.4 2-0.1 2 0.1 2 0.3 2 0.6 1.8 0.7 1.6 0.8 1.6 1 1.6 1.2 2.8 2.7 2.1 2.8 1.1 1.8 0.8 1.8 0.7 1.8 0.5 1.9 0.3 1.8 0.1 1.8-0.1 1.8-0.2 1.2-0.6 1.8-0.6 1.3-0.8 1.2-1 1.2-2.3 1.7-2.4 1.3-3.5 1.2-4.1 0.9-4.7 0.5-4.7 0.1zM637.9 144.7l-2.7-0.4-2.6-0.6-2-0.7-1.7-0.8-1.6-1.2-0.8-0.8-0.6-1-0.9-1.8-0.5-2.5-0.2-2.4 0.1-2.4 0.5-3 0.7-3.1 0.9-2.8 1.2-2.6 1.2-2.4 1.6-2.4 1.4-1.9 1.7-1.8 1.6-1.5 2-1.6 2-1.2 2-1 2.1-0.7 2-0.5 2-0.3 2-0.1 2.7 0.2 2 0.3 2 0.6 2 0.8 2 1 2 1.3 1.9 1.5 1.4 1.3 1.7 1.7 1.7 2.2 1.3 2 1.1 1.9 1.1 2.4 0.9 2.4 0.4 1.9 0.4 2.4 0.2 1.8-0.1 1.8-0.3 1.8-0.5 1.8-0.8 1.9-0.8 1.2-1.1 1.2-2.2 1.8-1.6 0.9-2 0.9-4 1.2-4.7 0.9-6.1 0.6-6 0.1zM637.9 145.9l-3.3-0.4-2.7-0.4-2.7-0.6-2-0.8-1.5-0.9-1.3-1.2-0.9-1.2-0.9-1.8-0.5-2.4-0.3-2.5 0-3 0.4-3.6 0.7-3.7 1-3.4 1.1-3.2 1.4-3 1.5-2.8 1.3-2 1.5-1.9 1.9-2.1 2-1.8 2-1.6 2-1.2 2.6-1.3 2.1-0.7 2.6-0.6 2.7-0.4 2.7 0.1 2.7 0.3 2 0.4 2.6 0.9 2 1 2.7 1.5 2 1.4 2 1.7 2 2 1.9 2.2 1.7 2.4 1.5 2.5 1.5 3 1 2.4 1 3 0.6 3.1 0.2 2.4 0 2.4-0.3 2.4-0.5 1.8-0.7 1.9-0.7 1.2-1 1.2-1.1 1.2-1.6 1.2-1.5 0.9-2 0.9-4 1.3-2.3 0.5-3.7 0.6-6.2 0.6-7.8 0.3zM632.6 146.5l-3.4-0.5-2.7-0.6-1.9-0.8-1.4-0.8-1.3-1.2-1-1.6-0.7-1.8-0.5-2.4-0.2-3.7 0.2-4.8 0.6-4.9 0.8-4.2 1.2-4.2 1.3-3.7 1.6-3.5 2-3.4 1.5-2.2 2-2.4 2.5-2.4 2-1.6 2-1.4 2.7-1.4 2-0.9 2.7-0.8 2.7-0.5 2.6-0.2 2.7 0.1 2.7 0.4 2.7 0.6 2.6 1 2.7 1.2 2 1.2 2.7 1.9 2.5 2.2 2.2 2.2 2.2 2.7 2.2 3 1.6 2.7 1.7 3.3 1.2 3.1 1 3 0.8 3 0.5 3.1 0.2 3-0.2 3-0.5 2.4-0.8 2.5-1.1 1.8-0.9 1.2-1.2 1.2-1.5 1.2-2.1 1.2-2.4 1.1-2.1 0.6-4.6 1.1-7.1 0.9-9 0.4-10 0.1zM635.9 147.7l-4.7-0.3-4-0.3-2.7-0.5-2-0.6-1.4-0.8-1.4-1.2-0.8-1.2-0.7-1.8-0.6-3-0.2-4.9 0.1-5.4 0.6-6.1 0.8-5.4 0.9-4.7 1.4-4.6 1.5-4.1 1.5-3 1.7-2.9 2-2.8 2-2.4 2-2 2.7-2.2 2.6-1.7 2.7-1.4 2.7-1.1 2.7-0.7 2.6-0.5 3.4-0.2 2.7 0.1 3.3 0.5 2.7 0.7 3.3 1.2 3.4 1.7 2.6 1.7 3 2.3 3.1 2.8 2.6 3 2.5 3.3 2.4 3.6 2 3.7 1.9 4.2 1.5 4.3 1.2 4.2 0.7 3.6 0.3 3.7 0 3.6-0.5 3-0.9 3.1-0.9 1.8-1.3 1.8-1.2 1.2-1.5 1.2-2 1.2-2.2 1-2.7 0.8-2.5 0.6-3.4 0.7-4.1 0.4-8.7 0.6-11.3 0.3zM629.2 148.3l-4-0.2-3.3-0.4-2.1-0.5-1.3-0.6-1-0.8-0.8-1.2-0.5-1.8-0.4-2.3-0.2-6.8 0.2-10.3 0.5-8.4 0.8-7.3 0.9-5.5 1.3-5.4 1.6-4.9 1.9-4.2 1.7-2.9 2-2.9 2-2.4 2.7-2.7 2.7-2.1 2.7-1.8 3.3-1.7 3.4-1.3 2.6-0.7 3.4-0.5 3.3-0.2 3.4 0.2 2.6 0.5 3.4 0.9 3.3 1.2 3.4 1.6 4 2.3 3.3 2.4 3.4 2.8 3.6 3.7 2.9 3.6 2.9 4.2 2.5 4.3 2.4 4.8 2.2 5.5 1.8 5.4 1.3 5.5 0.8 4.8 0.2 4.9-0.2 4.2-0.8 3.6-1.2 3.1-1.1 1.8-1.6 1.8-1.4 1.2-2 1.2-2.3 1.1-2.4 0.7-2.5 0.7-3.5 0.6-7 0.7-11.4 0.5-18 0.2z"/></g>
<rect class="sp" x="614.5" y="54.4" width="107" height="193.8"/>
<rect x="727.8" y="238.36" width="10" height="9.99" fill="#0c3d73"/>
<rect x="727.8" y="228.67" width="10" height="9.99" fill="#1a5899"/>
<rect x="727.8" y="218.98" width="10" height="9.99" fill="#2a71b2"/>
<rect x="727.8" y="209.29" width="10" height="9.99" fill="#3a87bd"/>
<rect x="727.8" y="199.60" width="10" height="9.99" fill="#569fc9"/>
<rect x="727.8" y="189.91" width="10" height="9.99" fill="#7eb8d7"/>
<rect x="727.8" y="180.22" width="10" height="9.99" fill="#a2cde3"/>
<rect x="727.8" y="170.53" width="10" height="9.99" fill="#c2ddec"/>
<rect x="727.8" y="160.84" width="10" height="9.99" fill="#dae9f2"/>
<rect x="727.8" y="151.15" width="10" height="9.99" fill="#edf2f5"/>
<rect x="727.8" y="141.46" width="10" height="9.99" fill="#f9f0eb"/>
<rect x="727.8" y="131.77" width="10" height="9.99" fill="#fce2d2"/>
<rect x="727.8" y="122.08" width="10" height="9.99" fill="#fbccb4"/>
<rect x="727.8" y="112.39" width="10" height="9.99" fill="#f6b394"/>
<rect x="727.8" y="102.70" width="10" height="9.99" fill="#ec9374"/>
<rect x="727.8" y="93.01" width="10" height="9.99" fill="#dd7059"/>
<rect x="727.8" y="83.32" width="10" height="9.99" fill="#cc4c44"/>
<rect x="727.8" y="73.63" width="10" height="9.99" fill="#ba2832"/>
<rect x="727.8" y="63.94" width="10" height="9.99" fill="#9f1228"/>
<rect x="727.8" y="54.25" width="10" height="9.99" fill="#790622"/>
<rect class="sp" x="727.8" y="54.4" width="10" height="193.8"/>
<text class="tk" x="746.1" y="68.79">1.8</text>
<text class="tk" x="746.1" y="97.86">1.2</text>
<text class="tk" x="746.1" y="126.93">0.6</text>
<text class="tk" x="746.1" y="156.00">0</text>
<text class="tk" x="746.1" y="185.07">–0.6</text>
<text class="tk" x="746.1" y="214.14">–1.2</text>
<text class="tk" x="746.1" y="243.21">–1.8</text>
<path class="tick" d="M737.8 64.09h4M737.8 93.16h4M737.8 122.23h4M737.8 151.30h4M737.8 180.37h4M737.8 209.44h4M737.8 238.51h4"/>
<text class="tk" style="font-size:13.8px" x="722.9" y="51.50"><tspan style="font-size:18.5px" dy="1.6">×</tspan><tspan dx="-1.5" dy="-1.6"> 10</tspan></text>
<path class="tick" d="M614.5 54.40h-4.3M614.5 102.85h-4.3M614.5 151.30h-4.3M614.5 199.75h-4.3M614.5 248.20h-4.3"/>
<text class="tk pi" text-anchor="end" x="603" y="58.70">π</text>
<text class="tk" text-anchor="end" x="599.5" y="155.65">0</text>
<text class="tk pi" text-anchor="end" x="603" y="252.50">π</text>
<path class="tick" d="M585.9 249.80h7.3" style="stroke-width:.8"/>
<text class="tk pi" style="font-size:15px" text-anchor="middle" x="595.3" y="98.85">π</text>
<path class="tick" d="M591.7 102.95h7.2" style="stroke-width:.75"/>
<text class="tk" text-anchor="middle" x="595.3" y="115.05">2</text>
<text class="tk pi" style="font-size:15px" text-anchor="middle" x="595.3" y="195.75">π</text>
<path class="tick" d="M591.7 199.85h7.2" style="stroke-width:.75"/>
<text class="tk" text-anchor="middle" x="595.3" y="211.95">2</text>
<path class="tick" d="M581.2 199.65h7.3" style="stroke-width:.8"/>
<text class="lb it" text-anchor="middle" x="570" y="156.30">z</text>
<g><rect x="70.5" y="276.4" width="107" height="193.8" fill="#0d3f76"/>
<path fill="#1c5c9f" fill-rule="evenodd" d="M70.5 470.2l107 0 0-193.8-107 0zM97.2 429.3l-1.3-0.8-0.7-0.7-0.6-1-0.9-2-0.5-2.4 0-1.3 0.2-1.2 0.6-1.8 0.6-0.8 0.6-0.5 0.7-0.3 0.7-0.1 1.3 0.4 0.7 0.4 1.4 1.5 0.7 1.2 0.6 1.5 0.3 1.6 0.1 1.2 0 1.2-0.2 1.2-0.3 0.6-0.6 1.1-0.7 0.6-0.6 0.4-0.7 0.1z"/>
<path fill="#2e77b5" fill-rule="evenodd" d="M70.5 470.2l107 0 0-193.8-107 0zM97.9 439.4l-2-0.7-1.9-1.2-1.4-1.3-1.4-1.7-1.3-2.3-1.1-2.6-0.8-3-0.5-3-0.2-3.1 0.1-3 0.5-2.9 0.8-2.5 1.2-2.4 1.3-1.6 1.4-0.9 0.6-0.3 1.4-0.3 2 0.1 1.3 0.4 1.4 0.6 1.3 1 1.1 0.9 2.1 2.5 1.9 3 1.6 3.6 1.2 3.7 0.6 3.6 0.1 3-0.5 3-0.8 2.5-1.3 1.9-0.7 0.8-1.1 0.9-0.9 0.5-1.3 0.6-2 0.4-1.3 0z"/>
<path fill="#408fc1" fill-rule="evenodd" d="M70.5 470.2l107 0 0-193.8-107 0zM99.3 446l-2.7-0.5-2.7-1.2-1.3-0.9-1.3-1.1-2.1-2.2-1.9-3.2-1.3-3-1.1-3.7-0.8-4.2-0.4-4.9 0.1-4.8 0.6-4.8 1-3.7 0.5-1.2 0.9-1.8 0.8-1.2 1-1.1 0.8-0.7 1.2-0.8 1.3-0.6 1.3-0.3 1.4-0.1 2 0.2 1.3 0.4 2 1 2 1.4 1.4 1.1 2.6 3 1.4 1.9 1.5 2.5 1.3 2.4 1.4 3 1.1 2.9 0.8 2.6 0.7 3 0.4 2.4 0.2 2.4 0 1.8-0.1 1.9-0.4 1.8-0.6 1.8-0.5 1.2-0.7 1.2-1.1 1.6-1.3 1.3-1 0.8-1.7 1-1.4 0.6-1.3 0.4-2 0.4-2 0.1z"/>
<path fill="#6bacd1" fill-rule="evenodd" d="M70.5 470.2l107 0 0-193.8-107 0zM97.2 450.9l-2-0.5-1.3-0.5-1.7-0.9-1.6-1.1-1.4-1.1-1.3-1.4-2-2.8-1.1-2.1-0.8-1.8-1.4-4.2-1.1-5.5-0.5-5.4-0.2-6.1 0.4-6 0.8-4.9 0.5-1.9 0.9-2.3 0.9-1.8 0.9-1.6 0.7-0.9 1.3-1.2 1.4-1 1.3-0.7 1.3-0.4 2-0.3 2 0 2 0.4 2.1 0.7 2.4 1.3 1.7 1.2 2 1.8 1.9 2.1 2 2.6 2 3.1 2 3.5 1.9 3.9 1.5 3.6 1.3 3.7 1 3.6 0.6 3 0.4 3 0 2.5-0.1 1.8-0.5 2.4-0.5 1.8-0.8 1.8-1.1 1.9-1.6 1.8-1.3 1.2-1.7 1.2-1.8 0.9-2 0.9-2.3 0.6-2.4 0.4-2 0.1-2.6-0.1z"/>
<path fill="#96c7df" fill-rule="evenodd" d="M70.5 470.2l107 0 0-193.8-107 0zM98.6 455.7l-2-0.3-2-0.5-2-0.7-2-0.9-2-1.3-1.4-1.1-1.3-1.3-1-1.2-1-1.6-1.1-2-0.9-2.1-0.8-2.2-1.3-5.4-1-6.7-0.4-4.2-0.1-4.3 0.2-7.8 0.3-3.7 0.4-3 0.6-3 0.7-2.5 1-2.4 0.9-1.8 1.3-1.8 1.1-1.2 1.6-1.2 1.5-0.8 2-0.8 2-0.3 2.7-0.1 2.6 0.4 2.7 0.9 2 0.9 2.5 1.6 2.2 1.8 2 2 2 2.5 2.4 3.4 2.6 4.2 2.5 4.9 2.3 4.8 1.9 4.9 1.4 4.2 1 3.6 0.6 3.7 0.1 2.4 0 2.4-0.4 2.4-0.6 2.4-1.1 2.5-1.1 1.8-1.5 1.8-1.4 1.3-2 1.5-2 1.1-2.7 1.2-2.6 0.8-2.7 0.6-2.7 0.3-3.3 0.1z"/>
<path fill="#b8d8e9" fill-rule="evenodd" d="M70.5 470.2l107 0 0-193.8-107 0zM99.9 459.9l-2.7-0.2-2.5-0.4-2.1-0.5-2-0.7-2-0.9-1.7-0.9-1.7-1.3-1.3-1.3-1.4-1.6-1.2-1.9-0.9-1.8-0.9-2.4-0.8-2.4-0.7-3.1-1-6-0.5-4.9-0.3-5.4-0.2-5.5 0.1-5.4 0.2-4.9 0.4-4.2 0.6-3.6 0.8-3.7 0.8-2.4 1-2.2 1.2-2 1.4-1.6 1.4-1.1 2-1.2 2-0.8 2.7-0.5 2.6-0.2 3.4 0.3 3.3 0.7 2.7 1 2.7 1.4 2 1.4 2.6 2.4 2.2 2.4 3 4.2 3 4.9 3.6 6.6 3.6 7.3 2.4 5.5 1.8 4.8 1.1 4.2 0.7 3.7 0.2 3-0.1 2.4-0.4 2.5-0.7 2.4-1.2 2.4-1.2 1.8-1.6 1.8-2.1 1.8-2.2 1.5-2.7 1.4-2.7 1.1-3.2 0.9-3.4 0.7-3.4 0.4-3.3 0.2z"/>
<path fill="#d7e8f1" fill-rule="evenodd" d="M70.5 470.2l107 0 0-193.8-107 0zM97.2 463.5l-5.3-0.7-2.7-0.6-2-0.7-2-0.9-2-1.2-1.3-1.1-1.4-1.5-1.2-1.7-0.9-1.9-1-2.4-0.7-2.4-0.7-3-0.5-3.1-0.9-7.8-0.4-6.1-0.2-6.6 0-6.7 0.1-6.7 0.4-5.4 0.4-4.3 0.7-4.2 0.7-3 0.9-2.5 1.3-2.4 1.4-1.7 1.3-1.2 2-1.2 2-0.8 2.7-0.6 2.7-0.3 3.3-0.1 4 0.3 3.4 0.7 3.3 1 2.7 1.2 2.7 1.7 2.6 2.2 2.2 2.5 3 4.2 3.2 5.4 8.6 15.8 4.1 7.9 2.1 4.8 1.6 4.3 0.9 3.6 0.5 3.6 0.1 3-0.3 2.5-0.6 2.4-1 2.4-1.5 2.4-1.6 1.9-2 1.8-2.7 1.8-2.5 1.3-3.4 1.3-4 1.2-4 0.8-4 0.6-4.7 0.3-4.7 0.1z"/>
<path fill="#ecf2f5" fill-rule="evenodd" d="M70.5 470.2l107 0 0-193.8-107 0zM100.6 467.2l-7.4-0.3-5.3-0.6-4.2-0.9-1.7-0.7-1.5-0.7-1.3-0.8-1-0.9-1-1.1-0.8-1.3-0.7-1.2-0.7-1.8-1-4.3-0.7-4.8-0.5-6.1-0.4-7.8-0.2-9.7-0.1-10.9 0.2-9.7 0.3-7.3 0.6-5.5 0.6-3.6 0.7-2.4 0.7-1.8 1.2-1.8 1.2-1.2 1.6-1.1 2-0.8 2.7-0.7 4.7-0.5 5.3-0.1 5.4 0.2 5.3 0.7 3.4 0.8 3.3 1.2 2.7 1.5 1.3 0.9 1.3 1.2 2.4 2.7 2 3 2.1 3.7 4.9 9.3 3.4 5.9 4 6.5 6.8 10.4 2.6 4.2 1.6 3 1.4 3.1 1 3 0.8 3 0.3 3.1-0.1 3-0.6 3-1 2.4-1.4 2.5-2 2.4-2.2 1.8-2.8 1.8-3.1 1.5-3.3 1.2-4 1-4.7 0.9-5.4 0.7-6 0.5-6.7 0.2z"/>
<path fill="#f9efe9" fill-rule="evenodd" d="M171.2 424.8l3 0.3 3.3 0.1 0-51.9-48.8 0-0.5 0.6 0.1 3 0.4 3.7 1 5.4 1.4 4.9 1.6 4 2 4.1 2.7 4.4 2.6 3.6 3.4 3.8 3.3 3.1 3.4 2.5 4 2.6 4 2 4 1.6 4.7 1.4zM70.5 372.7l0 0.6 57.5 0 0.2-0.6 0.1-3 0.3-3.1 0.7-4.2 1.2-4.8 1.5-4.3 2-4.5 2.7-4.6 2.7-3.8 3.3-3.9 3.4-3.2 4-3.1 4-2.6 4.7-2.3 4.7-1.8 4.6-1.2 4.7-0.7 4.7-0.2 0-45-107 0z"/>
<path fill="#fcdfcf" fill-rule="evenodd" d="M87.8 369.7l6.1 0.1 6-0.3 5.4-0.7 4-1.1 3.3-1.5 2.7-1.7 1.3-1.2 1.4-1.5 2.3-3 2.1-3.7 5.6-10.5 3.4-5.9 4-6.5 6.8-10.4 2.6-4.2 2.5-4.9 1.5-4.2 0.9-3.6 0.2-3.1-0.2-3-0.7-3-0.8-1.8-0.6-1.2-1.7-2.5-1.8-1.8-2.7-2.1-2.8-1.5-3.2-1.4-4-1.2-4.7-1.1-4.7-0.7-5.4-0.5-6-0.4-6.7-0.2-5.3 0.1-5.4 0.2-4.6 0.5-3.4 0.6-3.2 1.1-2.1 1.1-1.7 1.3-1.5 1.8-0.9 1.6-0.6 1.6-0.7 2.2-0.5 2.5-0.8 5.7-0.6 8.2-0.4 13.3-0.1 15.2 0.4 11.5 0.7 7.9 0.6 3.8 0.9 2.8 1.1 2.3 1.4 1.6 2 1.4 2 0.8 2.7 0.7z"/>
<path fill="#f9c6ac" fill-rule="evenodd" d="M87.5 365.4l3.1 0.4 3.3 0.1 3.3-0.2 3.4-0.6 3.2-0.9 2.8-1.2 2.7-1.5 2-1.6 1.9-1.7 1.6-1.9 1.8-2.5 2-2.9 3.8-6.7 8.8-16.3 3.9-7.9 1.4-3.6 1.1-3.1 0.7-3 0.4-2.4 0.2-2.4-0.1-2.5-0.3-2.4-0.5-1.8-1-2.4-1.1-1.8-1.4-1.8-1.9-1.9-1.9-1.5-2.6-1.5-2.8-1.3-3.3-1.2-4-1-4-0.7-4.7-0.6-4.7-0.2-4.7 0-4 0.3-3.3 0.4-2.7 0.6-2.7 0.9-2.2 1-1.9 1.2-1.9 1.7-1.3 1.7-1.3 2.1-1.4 3.6-1.2 4.8-0.9 5.5-0.6 7.2-0.4 9.1-0.1 9.1 0.3 8.5 0.6 7.3 0.7 4.2 0.7 3 0.9 2.5 1.3 2.5 0.9 1.1 1.1 1.1 1.8 1.3 2.2 1z"/>
<path fill="#f5a886" fill-rule="evenodd" d="M88.8 361.2l3.1 0.4 2.7 0 2.6-0.3 2.7-0.6 2.7-1 2-1 2.6-1.8 2.1-1.8 2-2.1 2-2.5 2-2.9 2.1-3.4 2.7-4.8 2.8-5.5 2.6-5.4 1.9-4.3 1.4-3.6 1-3 0.8-3 0.5-2.5 0.3-2.4 0.1-2.4-0.2-2.4-0.5-2.5-0.8-2.4-0.9-1.8-1.2-1.8-1.2-1.5-1.7-1.5-1.7-1.3-2-1.2-2.7-1.3-3-1.1-3-0.8-3.3-0.6-3.4-0.3-3.3-0.2-3.3 0.1-3.4 0.4-2.7 0.5-2.6 0.9-2 0.9-1.7 0.9-1.7 1.3-1.3 1.3-1.4 1.7-1.3 2.1-1 2.1-1.3 3.6-1 4.3-0.9 5.4-0.6 6.1-0.3 6.6-0.1 6.7 0.3 6.7 0.6 5.4 0.7 4.3 0.9 3 0.9 2.4 1.3 2.4 1.5 1.9 1.7 1.4 2 1.2 1.3 0.5z"/>
<path fill="#e48066" fill-rule="evenodd" d="M91.4 356.9l2.5 0.2 2-0.2 2.5-0.6 2.2-0.8 2-1 2-1.3 2-1.7 2-2 2-2.5 2-2.8 2-3.2 2-3.6 2.1-4.1 1.9-4.2 1.7-4.3 1.3-3.6 0.8-3 0.5-2.4 0.4-2.5 0.1-2.4 0-2.4-0.2-1.8-0.6-2.4-0.7-1.9-0.9-1.8-1-1.4-1.3-1.6-1.4-1.3-1.5-1.1-2-1.2-2.5-1.2-2-0.7-2-0.6-2.7-0.5-2.7-0.2-2.6-0.1-2.7 0.2-2.7 0.4-2 0.6-2.2 0.9-1.8 0.9-2 1.4-1.3 1.2-1.4 1.5-1.1 1.6-1 1.8-1.1 2.5-0.9 2.4-1 3.6-0.8 4.2-0.6 4.9-0.3 4.8-0.1 5.5 0.1 4.8 0.4 4.3 0.6 4.2 0.8 3 1 3.1 1.2 2.4 1.3 1.8 1.5 1.6 2 1.3 2 0.9z"/>
<path fill="#d35a4a" fill-rule="evenodd" d="M93.1 352.1l1.5 0 2-0.3 2-0.6 2-0.9 2-1.2 1.5-1.2 1.8-1.8 1.7-1.9 1.7-2.2 1.7-2.6 1.8-3 1.5-3.1 1.7-3.6 1.2-3 1-3.1 0.8-3 0.5-2.4 0.4-2.4 0.1-2.5 0-1.8-0.2-1.8-0.4-1.8-0.5-1.8-0.8-1.8-1.1-1.9-1-1.2-1.2-1.2-1.5-1.2-1.3-0.8-1.9-1-3.5-1.2-2-0.3-2-0.2-2 0-2 0.2-2 0.3-2 0.7-2 0.9-1.4 0.8-1.3 1-1.5 1.4-1.2 1.4-1.3 2-1.1 2.1-0.9 2.1-1.4 4.5-0.8 3.7-0.5 3.6-0.3 3.6-0.1 3.7 0.1 4.2 0.3 3.6 0.4 3.1 0.7 3 0.8 2.4 0.8 1.8 1.3 2.2 1.4 1.5 1.3 1.2 2 1.1 1.3 0.4z"/>
<path fill="#bf3338" fill-rule="evenodd" d="M91.5 346l1.7 0.5 1.4 0.1 1.3-0.1 1.3-0.3 1.4-0.5 1.6-0.9 1.7-1.2 1.4-1.1 1.3-1.4 1.4-1.7 1.3-1.8 1.5-2.5 2.5-4.8 1.8-4.8 1-4.3 0.6-4.2-0.1-3.7-0.3-1.8-0.4-1.8-0.6-1.4-0.9-1.6-0.8-1.2-1-1.1-1.3-1.2-1.2-0.8-1.5-0.7-1.3-0.5-2.7-0.6-2-0.1-1.3 0.1-2.1 0.4-1.3 0.4-1.3 0.6-1.4 0.7-1.3 1-1.3 1.2-1.9 2.4-1.7 3-1.4 3.6-1.2 4.9-0.6 5.4 0 5.5 0.5 4.8 0.6 2.5 0.5 1.8 0.8 1.8 1 1.8 0.9 1.2 1.1 1.1 1.4 0.9z"/>
<path fill="#a51429" fill-rule="evenodd" d="M94.3 340l0.9 0.1 1.4-0.2 2-0.7 2-1.3 2-1.9 2-2.7 1.7-3 1.3-3 1-3.7 0.5-3 0.1-3-0.3-2.4-0.8-2.5-0.9-1.8-1.6-1.8-1.7-1.1-2-0.8-2-0.2-1.3 0.1-1.4 0.3-2 0.8-1.9 1.5-1.7 1.8-1.5 2.4-1.1 2.5-0.9 3-0.6 3.6-0.2 3.7 0.3 3.6 0.6 3 1 2.5 1.4 2 1 1 0.9 0.6 0.7 0.3z"/>
<path fill="#7c0722" fill-rule="evenodd" d="M95.1 329.7l0.8 0.4 0.7 0.1 1.3-0.4 0.7-0.4 1.4-1.5 0.6-1.1 0.6-1.3 0.5-2.5 0-1.2-0.1-1.2-0.4-1.2-0.6-1.1-0.7-0.6-0.6-0.4-0.7-0.1-0.7 0-1.2 0.4-0.8 0.5-0.7 0.7-0.6 1-0.7 1.4-0.6 2.4 0 2.5 0.2 1.2 0.4 1 0.7 1z"/>
<path class="cl" d="M177.5 373.3l-48.8 0-0.5 0.6 0.4 5.5 0.7 4.8 1.2 4.8 1.5 4.3 2 4.5 2.7 4.6 2.7 3.8 3.3 3.9 3.4 3.2 4 3.1 4 2.6 4.7 2.3 4.7 1.8 4.6 1.2 4.7 0.7 4.7 0.2M70.5 373.3l57.5 0 0.2-0.6 0.1-3 0.3-3.1 0.7-4.2 1.2-4.8 1.5-4.3 2-4.5 2.7-4.6 2.7-3.8 3.3-3.9 3.4-3.2 4-3.1 4-2.6 4.7-2.3 4.7-1.8 4.6-1.2 4.7-0.7 4.7-0.2M87.8 369.7l6.1 0.1 6-0.3 5.4-0.7 4-1.1 3.3-1.5 2.7-1.7 1.3-1.2 1.4-1.5 2.3-3 2.1-3.7 5.6-10.5 3.4-5.9 4-6.5 6.8-10.4 2.6-4.2 2.5-4.9 1.5-4.2 0.9-3.6 0.2-3.1-0.2-3-0.7-3-0.8-1.8-0.6-1.2-1.7-2.5-1.8-1.8-2.7-2.1-2.8-1.5-3.2-1.4-4-1.2-4.7-1.1-4.7-0.7-5.4-0.5-6-0.4-6.7-0.2-5.3 0.1-5.4 0.2-4.6 0.5-3.4 0.6-3.2 1.1-2.1 1.1-1.7 1.3-1.5 1.8-0.9 1.6-0.6 1.6-0.7 2.2-0.5 2.5-0.8 5.7-0.6 8.2-0.4 13.3-0.1 15.2 0.4 11.5 0.7 7.9 0.6 3.8 0.9 2.8 1.1 2.3 1.4 1.6 2 1.4 2 0.8 2.7 0.7zM87.5 365.4l3.1 0.4 3.3 0.1 3.3-0.2 3.4-0.6 3.2-0.9 2.8-1.2 2.7-1.5 2-1.6 1.9-1.7 1.6-1.9 1.8-2.5 2-2.9 3.8-6.7 8.8-16.3 3.9-7.9 1.4-3.6 1.1-3.1 0.7-3 0.4-2.4 0.2-2.4-0.1-2.5-0.3-2.4-0.5-1.8-1-2.4-1.1-1.8-1.4-1.8-1.9-1.9-1.9-1.5-2.6-1.5-2.8-1.3-3.3-1.2-4-1-4-0.7-4.7-0.6-4.7-0.2-4.7 0-4 0.3-3.3 0.4-2.7 0.6-2.7 0.9-2.2 1-1.9 1.2-1.9 1.7-1.3 1.7-1.3 2.1-1.4 3.6-1.2 4.8-0.9 5.5-0.6 7.2-0.4 9.1-0.1 9.1 0.3 8.5 0.6 7.3 0.7 4.2 0.7 3 0.9 2.5 1.3 2.5 0.9 1.1 1.1 1.1 1.8 1.3 2.2 1zM88.8 361.2l3.1 0.4 2.7 0 2.6-0.3 2.7-0.6 2.7-1 2-1 2.6-1.8 2.1-1.8 2-2.1 2-2.5 2-2.9 2.1-3.4 2.7-4.8 2.8-5.5 2.6-5.4 1.9-4.3 1.4-3.6 1-3 0.8-3 0.5-2.5 0.3-2.4 0.1-2.4-0.2-2.4-0.5-2.5-0.8-2.4-0.9-1.8-1.2-1.8-1.2-1.5-1.7-1.5-1.7-1.3-2-1.2-2.7-1.3-3-1.1-3-0.8-3.3-0.6-3.4-0.3-3.3-0.2-3.3 0.1-3.4 0.4-2.7 0.5-2.6 0.9-2 0.9-1.7 0.9-1.7 1.3-1.3 1.3-1.4 1.7-1.3 2.1-1 2.1-1.3 3.6-1 4.3-0.9 5.4-0.6 6.1-0.3 6.6-0.1 6.7 0.3 6.7 0.6 5.4 0.7 4.3 0.9 3 0.9 2.4 1.3 2.4 1.5 1.9 1.7 1.4 2 1.2 1.3 0.5zM91.4 356.9l2.5 0.2 2-0.2 2.5-0.6 2.2-0.8 2-1 2-1.3 2-1.7 2-2 2-2.5 2-2.8 2-3.2 2-3.6 2.1-4.1 1.9-4.2 1.7-4.3 1.3-3.6 0.8-3 0.5-2.4 0.4-2.5 0.1-2.4 0-2.4-0.2-1.8-0.6-2.4-0.7-1.9-0.9-1.8-1-1.4-1.3-1.6-1.4-1.3-1.5-1.1-2-1.2-2.5-1.2-2-0.7-2-0.6-2.7-0.5-2.7-0.2-2.6-0.1-2.7 0.2-2.7 0.4-2 0.6-2.2 0.9-1.8 0.9-2 1.4-1.3 1.2-1.4 1.5-1.1 1.6-1 1.8-1.1 2.5-0.9 2.4-1 3.6-0.8 4.2-0.6 4.9-0.3 4.8-0.1 5.5 0.1 4.8 0.4 4.3 0.6 4.2 0.8 3 1 3.1 1.2 2.4 1.3 1.8 1.5 1.6 2 1.3 2 0.9zM93.1 352.1l1.5 0 2-0.3 2-0.6 2-0.9 2-1.2 1.5-1.2 1.8-1.8 1.7-1.9 1.7-2.2 1.7-2.6 1.8-3 1.5-3.1 1.7-3.6 1.2-3 1-3.1 0.8-3 0.5-2.4 0.4-2.4 0.1-2.5 0-1.8-0.2-1.8-0.4-1.8-0.5-1.8-0.8-1.8-1.1-1.9-1-1.2-1.2-1.2-1.5-1.2-1.3-0.8-1.9-1-3.5-1.2-2-0.3-2-0.2-2 0-2 0.2-2 0.3-2 0.7-2 0.9-1.4 0.8-1.3 1-1.5 1.4-1.2 1.4-1.3 2-1.1 2.1-0.9 2.1-1.4 4.5-0.8 3.7-0.5 3.6-0.3 3.6-0.1 3.7 0.1 4.2 0.3 3.6 0.4 3.1 0.7 3 0.8 2.4 0.8 1.8 1.3 2.2 1.4 1.5 1.3 1.2 2 1.1 1.3 0.4zM91.5 346l1.7 0.5 1.4 0.1 1.3-0.1 1.3-0.3 1.4-0.5 1.6-0.9 1.7-1.2 1.4-1.1 1.3-1.4 1.4-1.7 1.3-1.8 1.5-2.5 2.5-4.8 1.8-4.8 1-4.3 0.6-4.2-0.1-3.7-0.3-1.8-0.4-1.8-0.6-1.4-0.9-1.6-0.8-1.2-1-1.1-1.3-1.2-1.2-0.8-1.5-0.7-1.3-0.5-2.7-0.6-2-0.1-1.3 0.1-2.1 0.4-1.3 0.4-1.3 0.6-1.4 0.7-1.3 1-1.3 1.2-1.9 2.4-1.7 3-1.4 3.6-1.2 4.9-0.6 5.4 0 5.5 0.5 4.8 0.6 2.5 0.5 1.8 0.8 1.8 1 1.8 0.9 1.2 1.1 1.1 1.4 0.9zM94.3 340l0.9 0.1 1.4-0.2 2-0.7 2-1.3 2-1.9 2-2.7 1.7-3 1.3-3 1-3.7 0.5-3 0.1-3-0.3-2.4-0.8-2.5-0.9-1.8-1.6-1.8-1.7-1.1-2-0.8-2-0.2-1.3 0.1-1.4 0.3-2 0.8-1.9 1.5-1.7 1.8-1.5 2.4-1.1 2.5-0.9 3-0.6 3.6-0.2 3.7 0.3 3.6 0.6 3 1 2.5 1.4 2 1 1 0.9 0.6 0.7 0.3zM95.1 329.7l0.8 0.4 0.7 0.1 1.3-0.4 0.7-0.4 1.4-1.5 0.6-1.1 0.6-1.3 0.5-2.5 0-1.2-0.1-1.2-0.4-1.2-0.6-1.1-0.7-0.6-0.6-0.4-0.7-0.1-0.7 0-1.2 0.4-0.8 0.5-0.7 0.7-0.6 1-0.7 1.4-0.6 2.4 0 2.5 0.2 1.2 0.4 1 0.7 1z"/>
<path class="cl cd" d="M97.2 429.3l-1.3-0.8-0.7-0.7-0.6-1-0.9-2-0.5-2.4 0-1.3 0.2-1.2 0.6-1.8 0.6-0.8 0.6-0.5 0.7-0.3 0.7-0.1 1.3 0.4 0.7 0.4 1.4 1.5 0.7 1.2 0.6 1.5 0.3 1.6 0.1 1.2 0 1.2-0.2 1.2-0.3 0.6-0.6 1.1-0.7 0.6-0.6 0.4-0.7 0.1zM97.9 439.4l-2-0.7-1.9-1.2-1.4-1.3-1.4-1.7-1.3-2.3-1.1-2.6-0.8-3-0.5-3-0.2-3.1 0.1-3 0.5-2.9 0.8-2.5 1.2-2.4 1.3-1.6 1.4-0.9 0.6-0.3 1.4-0.3 2 0.1 1.3 0.4 1.4 0.6 1.3 1 1.1 0.9 2.1 2.5 1.9 3 1.6 3.6 1.2 3.7 0.6 3.6 0.1 3-0.5 3-0.8 2.5-1.3 1.9-0.7 0.8-1.1 0.9-0.9 0.5-1.3 0.6-2 0.4-1.3 0zM99.3 446l-2.7-0.5-2.7-1.2-1.3-0.9-1.3-1.1-2.1-2.2-1.9-3.2-1.3-3-1.1-3.7-0.8-4.2-0.4-4.9 0.1-4.8 0.6-4.8 1-3.7 0.5-1.2 0.9-1.8 0.8-1.2 1-1.1 0.8-0.7 1.2-0.8 1.3-0.6 1.3-0.3 1.4-0.1 2 0.2 1.3 0.4 2 1 2 1.4 1.4 1.1 2.6 3 1.4 1.9 1.5 2.5 1.3 2.4 1.4 3 1.1 2.9 0.8 2.6 0.7 3 0.4 2.4 0.2 2.4 0 1.8-0.1 1.9-0.4 1.8-0.6 1.8-0.5 1.2-0.7 1.2-1.1 1.6-1.3 1.3-1 0.8-1.7 1-1.4 0.6-1.3 0.4-2 0.4-2 0.1zM97.2 450.9l-2-0.5-1.3-0.5-1.7-0.9-1.6-1.1-1.4-1.1-1.3-1.4-2-2.8-1.1-2.1-0.8-1.8-1.4-4.2-1.1-5.5-0.5-5.4-0.2-6.1 0.4-6 0.8-4.9 0.5-1.9 0.9-2.3 0.9-1.8 0.9-1.6 0.7-0.9 1.3-1.2 1.4-1 1.3-0.7 1.3-0.4 2-0.3 2 0 2 0.4 2.1 0.7 2.4 1.3 1.7 1.2 2 1.8 1.9 2.1 2 2.6 2 3.1 2 3.5 1.9 3.9 1.5 3.6 1.3 3.7 1 3.6 0.6 3 0.4 3 0 2.5-0.1 1.8-0.5 2.4-0.5 1.8-0.8 1.8-1.1 1.9-1.6 1.8-1.3 1.2-1.7 1.2-1.8 0.9-2 0.9-2.3 0.6-2.4 0.4-2 0.1-2.6-0.1zM98.6 455.7l-2-0.3-2-0.5-2-0.7-2-0.9-2-1.3-1.4-1.1-1.3-1.3-1-1.2-1-1.6-1.1-2-0.9-2.1-0.8-2.2-1.3-5.4-1-6.7-0.4-4.2-0.1-4.3 0.2-7.8 0.3-3.7 0.4-3 0.6-3 0.7-2.5 1-2.4 0.9-1.8 1.3-1.8 1.1-1.2 1.6-1.2 1.5-0.8 2-0.8 2-0.3 2.7-0.1 2.6 0.4 2.7 0.9 2 0.9 2.5 1.6 2.2 1.8 2 2 2 2.5 2.4 3.4 2.6 4.2 2.5 4.9 2.3 4.8 1.9 4.9 1.4 4.2 1 3.6 0.6 3.7 0.1 2.4 0 2.4-0.4 2.4-0.6 2.4-1.1 2.5-1.1 1.8-1.5 1.8-1.4 1.3-2 1.5-2 1.1-2.7 1.2-2.6 0.8-2.7 0.6-2.7 0.3-3.3 0.1zM99.9 459.9l-2.7-0.2-2.5-0.4-2.1-0.5-2-0.7-2-0.9-1.7-0.9-1.7-1.3-1.3-1.3-1.4-1.6-1.2-1.9-0.9-1.8-0.9-2.4-0.8-2.4-0.7-3.1-1-6-0.5-4.9-0.3-5.4-0.2-5.5 0.1-5.4 0.2-4.9 0.4-4.2 0.6-3.6 0.8-3.7 0.8-2.4 1-2.2 1.2-2 1.4-1.6 1.4-1.1 2-1.2 2-0.8 2.7-0.5 2.6-0.2 3.4 0.3 3.3 0.7 2.7 1 2.7 1.4 2 1.4 2.6 2.4 2.2 2.4 3 4.2 3 4.9 3.6 6.6 3.6 7.3 2.4 5.5 1.8 4.8 1.1 4.2 0.7 3.7 0.2 3-0.1 2.4-0.4 2.5-0.7 2.4-1.2 2.4-1.2 1.8-1.6 1.8-2.1 1.8-2.2 1.5-2.7 1.4-2.7 1.1-3.2 0.9-3.4 0.7-3.4 0.4-3.3 0.2zM97.2 463.5l-5.3-0.7-2.7-0.6-2-0.7-2-0.9-2-1.2-1.3-1.1-1.4-1.5-1.2-1.7-0.9-1.9-1-2.4-0.7-2.4-0.7-3-0.5-3.1-0.9-7.8-0.4-6.1-0.2-6.6 0-6.7 0.1-6.7 0.4-5.4 0.4-4.3 0.7-4.2 0.7-3 0.9-2.5 1.3-2.4 1.4-1.7 1.3-1.2 2-1.2 2-0.8 2.7-0.6 2.7-0.3 3.3-0.1 4 0.3 3.4 0.7 3.3 1 2.7 1.2 2.7 1.7 2.6 2.2 2.2 2.5 3 4.2 3.2 5.4 8.6 15.8 4.1 7.9 2.1 4.8 1.6 4.3 0.9 3.6 0.5 3.6 0.1 3-0.3 2.5-0.6 2.4-1 2.4-1.5 2.4-1.6 1.9-2 1.8-2.7 1.8-2.5 1.3-3.4 1.3-4 1.2-4 0.8-4 0.6-4.7 0.3-4.7 0.1zM100.6 467.2l-7.4-0.3-5.3-0.6-4.2-0.9-1.7-0.7-1.5-0.7-1.3-0.8-1-0.9-1-1.1-0.8-1.3-0.7-1.2-0.7-1.8-1-4.3-0.7-4.8-0.5-6.1-0.4-7.8-0.2-9.7-0.1-10.9 0.2-9.7 0.3-7.3 0.6-5.5 0.6-3.6 0.7-2.4 0.7-1.8 1.2-1.8 1.2-1.2 1.6-1.1 2-0.8 2.7-0.7 4.7-0.5 5.3-0.1 5.4 0.2 5.3 0.7 3.4 0.8 3.3 1.2 2.7 1.5 1.3 0.9 1.3 1.2 2.4 2.7 2 3 2.1 3.7 4.9 9.3 3.4 5.9 4 6.5 6.8 10.4 2.6 4.2 1.6 3 1.4 3.1 1 3 0.8 3 0.3 3.1-0.1 3-0.6 3-1 2.4-1.4 2.5-2 2.4-2.2 1.8-2.8 1.8-3.1 1.5-3.3 1.2-4 1-4.7 0.9-5.4 0.7-6 0.5-6.7 0.2z"/></g>
<rect class="sp" x="70.5" y="276.4" width="107" height="193.8"/>
<rect x="183.8" y="459.28" width="10" height="11.07" fill="#0d3f76"/>
<rect x="183.8" y="448.52" width="10" height="11.07" fill="#1c5c9f"/>
<rect x="183.8" y="437.75" width="10" height="11.07" fill="#2e77b5"/>
<rect x="183.8" y="426.98" width="10" height="11.07" fill="#408fc1"/>
<rect x="183.8" y="416.22" width="10" height="11.07" fill="#6bacd1"/>
<rect x="183.8" y="405.45" width="10" height="11.07" fill="#96c7df"/>
<rect x="183.8" y="394.68" width="10" height="11.07" fill="#b8d8e9"/>
<rect x="183.8" y="383.92" width="10" height="11.07" fill="#d7e8f1"/>
<rect x="183.8" y="373.15" width="10" height="11.07" fill="#ecf2f5"/>
<rect x="183.8" y="362.38" width="10" height="11.07" fill="#f9efe9"/>
<rect x="183.8" y="351.62" width="10" height="11.07" fill="#fcdfcf"/>
<rect x="183.8" y="340.85" width="10" height="11.07" fill="#f9c6ac"/>
<rect x="183.8" y="330.08" width="10" height="11.07" fill="#f5a886"/>
<rect x="183.8" y="319.32" width="10" height="11.07" fill="#e48066"/>
<rect x="183.8" y="308.55" width="10" height="11.07" fill="#d35a4a"/>
<rect x="183.8" y="297.78" width="10" height="11.07" fill="#bf3338"/>
<rect x="183.8" y="287.02" width="10" height="11.07" fill="#a51429"/>
<rect x="183.8" y="276.25" width="10" height="11.07" fill="#7c0722"/>
<rect class="sp" x="183.8" y="276.4" width="10" height="193.8"/>
<text class="tk" x="202.1" y="291.87">6.4</text>
<text class="tk" x="202.1" y="313.40">4.8</text>
<text class="tk" x="202.1" y="334.93">3.2</text>
<text class="tk" x="202.1" y="356.47">1.6</text>
<text class="tk" x="202.1" y="378.00">0</text>
<text class="tk" x="202.1" y="399.53">–1.6</text>
<text class="tk" x="202.1" y="421.07">–3.2</text>
<text class="tk" x="202.1" y="442.60">–4.8</text>
<text class="tk" x="202.1" y="464.13">–6.4</text>
<path class="tick" d="M193.8 287.17h4M193.8 308.70h4M193.8 330.23h4M193.8 351.77h4M193.8 373.30h4M193.8 394.83h4M193.8 416.37h4M193.8 437.90h4M193.8 459.43h4"/>
<path class="tick" d="M70.5 276.40h-4.3M70.5 324.85h-4.3M70.5 373.30h-4.3M70.5 421.75h-4.3M70.5 470.20h-4.3"/>
<text class="tk pi" text-anchor="end" x="59.7" y="280.70">π</text>
<text class="tk" text-anchor="end" x="60.7" y="377.65">0</text>
<text class="tk pi" text-anchor="end" x="60.7" y="474.50">π</text>
<path class="tick" d="M43.7 471.80h7.3" style="stroke-width:.8"/>
<text class="tk pi" style="font-size:15px" text-anchor="middle" x="56.4" y="320.85">π</text>
<path class="tick" d="M52.8 324.95h7.2" style="stroke-width:.75"/>
<text class="tk" text-anchor="middle" x="56.4" y="337.05">2</text>
<text class="tk pi" style="font-size:15px" text-anchor="middle" x="56.4" y="417.75">π</text>
<path class="tick" d="M52.8 421.85h7.2" style="stroke-width:.75"/>
<text class="tk" text-anchor="middle" x="56.4" y="433.95">2</text>
<path class="tick" d="M42.2 421.65h7.3" style="stroke-width:.8"/>
<text class="lb it" text-anchor="middle" x="33.3" y="378.30">z</text>
<path class="tick" d="M70.50 470.2v4.3M124.00 470.2v4.3M177.50 470.2v4.3"/>
<text class="tk" text-anchor="middle" x="70.50" y="490.20">0</text>
<text class="tk" text-anchor="middle" x="124.00" y="490.20"><tspan class="pi">π</tspan>/2</text>
<text class="tk pi" text-anchor="middle" x="177.50" y="490.20">π</text>
<text class="lb it" text-anchor="middle" x="124.00" y="510.20">r</text>
<g><rect x="232.5" y="276.4" width="107" height="193.8" fill="#0d3f76"/>
<path fill="#1c5c9f" fill-rule="evenodd" d="M232.5 470.2l107 0 0-193.8-107 0zM281.3 420.1l-1.3-0.7-0.7-0.6-1-1.3-0.7-1.2-0.4-1.2-0.3-1.8 0.1-1.8 0.2-1.3 0.7-1.8 0.7-1.2 0.7-0.8 1.3-1 1.4-0.6 0.7-0.1 1.3-0.1 1.3 0.2 1.3 0.6 0.8 0.6 1.1 1.2 0.6 1.2 0.4 1.2 0.3 1.9-0.1 1.2-0.3 1.8-0.7 1.7-0.7 1.1-0.7 0.9-1.3 1.2-1 0.5-1 0.4-1.3 0.1z"/>
<path fill="#2e77b5" fill-rule="evenodd" d="M232.5 470.2l107 0 0-193.8-107 0zM282 428.5l-1.4-0.2-1.3-0.5-2-1.1-1.9-1.9-1.4-2-1.3-2.9-0.9-3-0.3-3 0.1-3.1 0.5-3 0.9-2.4 1.5-2.4 1.5-1.7 2-1.4 1.3-0.7 1.3-0.5 2.1-0.4 2.6 0 2.7 0.6 2 0.9 1.8 1.4 1.6 1.8 1.3 2.4 0.6 2.4 0.3 2.4-0.1 3.1-0.6 3-1.1 3-1.3 2.5-1.8 2.5-2 1.9-2 1.3-2 0.7-1.4 0.3z"/>
<path fill="#408fc1" fill-rule="evenodd" d="M232.5 470.2l107 0 0-193.8-107 0zM279.3 435.8l-2-0.7-1.3-0.8-1.4-1-1.3-1.3-2-2.7-1.1-2.1-0.8-1.8-1.3-4.3-0.4-2.4-0.3-2.4-0.1-2.4 0.1-2.4 0.2-2.5 0.3-1.9 1.1-3.5 0.8-1.8 0.7-1.2 0.9-1.3 1.1-1.2 2.3-1.8 1.8-1 1.4-0.5 3.3-0.9 2-0.2 2 0 3.4 0.4 1.5 0.4 1.8 0.7 1.4 0.7 1.5 1 1.4 1.2 1 1.2 1.5 2.5 0.6 1.3 0.5 1.7 0.4 1.8 0.2 1.8-0.1 3.7-0.6 4.2-1.2 4.2-1 2.5-0.9 2-1.3 2.2-1.2 1.8-1.5 1.8-1.2 1.2-1.5 1.3-1.3 0.9-1.4 0.7-2 0.8-1.3 0.3-2 0.2-1.4-0.1z"/>
<path fill="#6bacd1" fill-rule="evenodd" d="M232.5 470.2l107 0 0-193.8-107 0zM279.3 443.7l-2-0.5-2-0.7-2-1.1-1.3-1-1.8-1.7-1.4-1.8-1-1.8-1.2-2.6-1-2.9-0.7-3-0.7-3.6-0.3-3.7-0.2-3.6 0.1-3.6 0.3-3.7 0.5-3.3 0.7-2.6 0.6-1.9 0.7-1.5 0.9-1.6 1.1-1.5 1.4-1.4 1.3-1.1 1.3-0.8 2-1 2-0.8 2-0.5 2.7-0.5 2-0.1 2.7 0 2.7 0.2 2 0.3 2 0.6 2 0.7 2 0.9 2 1.3 1.6 1.3 1.2 1.2 0.9 1.2 1.1 1.8 0.7 1.9 0.6 1.8 0.3 1.8 0.3 2.4 0 2.4-0.1 2.5-0.3 2.4-0.6 3-0.7 3-0.9 3.1-1.2 3-1 2.4-1.3 2.4-1.4 2.5-1.8 2.4-1.4 1.6-1.5 1.4-1.8 1.4-2.1 1.2-2 0.9-2 0.6-2 0.3-2 0.1z"/>
<path fill="#96c7df" fill-rule="evenodd" d="M232.5 470.2l107 0 0-193.8-107 0zM278.6 450.2l-2.6-0.4-2.7-0.7-2.7-1.2-2-1.3-2-1.8-1.4-1.9-1.3-2.1-1.1-2.7-0.9-3.1-0.7-4.2-0.5-4.8-0.3-5.5 0.1-5.4 0.3-5.5 0.5-4.2 0.8-4.2 0.7-2.5 0.7-1.8 0.9-1.8 1.2-1.8 1.7-1.8 1.3-1.1 1.4-0.9 2-0.9 2-0.8 2.6-0.7 2.7-0.5 3.4-0.3 3.3 0 2.7 0.1 3.3 0.4 2.7 0.6 2.7 0.8 2.1 0.8 2.3 1.3 1.9 1.2 1.7 1.5 1.4 1.5 1.2 1.8 1.2 2.4 0.6 1.9 0.6 2.4 0.3 2.4 0 3-0.1 3.1-0.4 3.6-0.7 3.6-0.8 3.7-1.1 3.6-1.2 3.6-1.2 3.1-1.4 3-1.3 2.4-1.6 2.4-1.5 1.9-1.8 1.8-2.2 1.8-1.9 1.2-2.1 1.1-2.1 0.7-2.6 0.8-2.7 0.4-2.7 0.2z"/>
<path fill="#b8d8e9" fill-rule="evenodd" d="M232.5 470.2l107 0 0-193.8-107 0zM278 455.7l-4-0.5-3.4-0.9-3.3-1.2-2.7-1.6-2-1.7-1.7-2-1.4-2.4-1.1-3.1-0.8-3.6-0.4-4.8-0.2-6.1 0.3-8.5 0.5-8.5 0.7-6.6 0.8-4.9 1.2-4.2 1-2.4 1-1.8 1.4-1.9 1.3-1.2 1.4-0.9 2-1.1 2-0.8 2.7-0.7 3.3-0.7 3.4-0.3 4-0.2 4 0 4 0.3 3.4 0.5 3.3 0.7 2.8 0.8 3.1 1.2 2.4 1.2 2.4 1.7 2 1.8 1.7 2 1.4 2.4 1 2.4 0.7 2.5 0.4 3 0.2 3-0.2 3.6-0.3 3.7-0.8 4.8-1 4.9-1.2 4.8-1.3 4.3-1.1 3-1.3 3-1.3 2.4-1.4 2.5-1.4 1.8-1.6 1.8-1.9 1.7-2 1.6-2 1.2-2.6 1.3-2.7 1-2.7 0.8-2.7 0.5-3.3 0.4-3.4 0.1z"/>
<path fill="#d7e8f1" fill-rule="evenodd" d="M232.5 470.2l107 0 0-193.8-107 0zM278.6 460.5l-5.3-0.4-4.7-0.8-4-1.1-3.3-1.5-2.7-1.7-1.3-1.2-1-1.2-1.5-2.4-1.2-3-0.6-3.6-0.3-3.7 0.2-4.8 0.4-6.1 1.9-19.4 0.9-8.4 1.1-6.3 0.7-2.6 0.7-2 0.9-1.9 1.1-1.8 1.3-1.5 2-1.5 2-1 2.5-0.8 2.9-0.7 3.3-0.5 4.7-0.4 4.7-0.2 5.3 0 4.7 0.4 4.7 0.5 4 0.8 4 1 3.4 1.2 3.1 1.5 2.2 1.4 2 1.6 2.3 2.5 1.5 2.4 1.1 2.4 0.8 2.4 0.6 3.1 0.3 3.6-0.1 3.6-0.3 4.3-0.7 5.4-1.2 6.1-1.3 6-1.4 4.9-1.7 4.8-1.4 3-1.3 2.5-1.6 2.4-1.4 1.8-1.8 1.8-1.7 1.5-2.2 1.6-2 1.2-2.5 1.2-2.7 1-2.7 0.8-3.3 0.8-3.4 0.5-3.3 0.3-3.3 0.2z"/>
<path fill="#ecf2f5" fill-rule="evenodd" d="M232.5 470.2l107 0 0-193.8-107 0zM241.9 356.6l-0.7-0.3-0.7-0.6-0.6-1-0.4-0.8-0.7-2.4-0.4-3 0.1-3.1 0.7-3.5 0.7-1.6 0.6-0.9 0.7-0.4 0.7 0.1 0.6 0.3 0.7 0.8 0.7 1.3 0.6 1.9 0.3 1.4 0.5 3.7-0.1 3.5-0.7 2.7-0.6 1.2-0.7 0.6-0.7 0.2zM272 464.8l-6.1-0.6-4.6-0.9-4.1-1.1-3.3-1.5-1.3-0.8-1.4-1-2-2.1-0.8-1.1-0.9-1.9-0.5-1.2-0.4-1.8-0.3-1.8-0.1-1.8 0.1-2.4 0.3-2.5 0.8-4.8 2.5-11.9 1.3-7.5 0.9-6.6 2.4-18.8 0.7-3.7 0.7-2.4 0.7-1.8 1-1.8 1.5-1.8 1.8-1.2 2.4-1.1 2.6-0.7 4.1-0.6 5.3-0.4 6-0.3 6.7 0 6 0.2 6 0.4 5.4 0.5 4.7 0.8 4 0.9 4 1.2 3.3 1.4 2.7 1.5 2.7 2 2 2 1.8 2.5 1.3 2.4 1.1 3 0.7 3 0.3 3.1 0.2 3.6-0.3 5.4-0.8 6.7-1.3 7.9-1.5 7.3-1.2 4.8-1.6 4.8-1.6 3.7-2 3.6-1.7 2.4-1.6 1.8-1.9 1.9-2.4 1.8-2.2 1.4-2.7 1.3-2.7 1.1-2.6 0.8-3.4 0.9-4 0.8-4 0.5-4 0.4-4.7 0.3-4.7 0.1-4.7-0.1z"/>
<path fill="#f9efe9" fill-rule="evenodd" d="M232.5 433.3l0 0.4 0.7 0 2-0.2 1.3-0.3 2-0.9 2-1.6 2-2.3 1.4-2.2 1.3-2.7 1.3-3.6 1.4-4.6 1.3-6.3 0.7-4.7 0.6-5.6 0.4-6 0.3-6.7 0.2-12.1-0.2-0.6-18.7 0zM251.4 372.7l0.5 0.6 87.6 0 0-96.9-107 0 0 36.5 2.7 0.2 2 0.6 2 1.1 1.3 1.1 2 2.3 1.4 2.2 1.3 2.7 1.3 3.6 1.4 4.6 0.7 3.2 1 6.1 0.7 5.4 0.5 5.5 0.4 7.3z"/>
<path fill="#fcdfcf" fill-rule="evenodd" d="M240.6 407.2l0.6 0.4 0.7-0.1 0.6-0.3 0.7-0.8 0.7-1.3 0.6-1.9 0.7-3.7 0.1-3.8-0.1-1.2-0.4-1.8-0.3-0.8-0.6-1.2-0.7-0.6-0.7-0.2-0.6 0.1-0.7 0.3-0.7 0.6-0.6 1-0.8 2-0.6 3-0.1 3 0.4 3.1 0.6 2.4 0.5 0.9zM280.7 369.7l6 0 5.3-0.1 5.4-0.3 4.6-0.3 4.7-0.6 4-0.7 3.4-0.8 3.3-1 2.9-1.1 2.5-1.2 2.7-1.7 2-1.7 1.8-2 1.3-1.9 1.3-2.4 0.9-2.4 0.9-3.6 0.4-4.3 0-4.8-0.5-6.1-1.2-8.5-1.8-9-1.5-6.1-1.8-5.4-1.7-3.7-1.7-3-2.2-3-2.3-2.5-2.6-2.1-2.7-1.7-3.4-1.6-4-1.4-4-1.1-4.7-0.9-5.3-0.6-5.4-0.4-6-0.2-6 0.1-6 0.4-4.7 0.6-4 0.8-3 0.9-2.9 1.2-2.1 1.2-1.6 1.2-1.7 1.8-1.2 1.8-1.1 2.5-0.5 2.4-0.3 2.4 0.1 3 0.4 3.1 0.7 4.2 2.5 11.9 1.3 7.5 3.4 26 0.9 4.3 1.1 3 1.3 2.3 1.3 1.4 2.1 1.4 2 0.8 2.6 0.7 4.1 0.6 4.6 0.4z"/>
<path fill="#f9c6ac" fill-rule="evenodd" d="M274.8 366l3.8 0.4 4.7 0.2 4.7 0 4.7-0.2 4-0.4 4-0.7 4-0.8 3.4-1 2.7-1.1 2.6-1.3 2.6-1.7 2.1-1.8 1.6-1.9 1.2-1.8 1.2-2.4 0.8-2.4 0.8-3.7 0.3-4.2-0.1-4.2-0.6-5.5-1.1-6.7-1.7-7.8-1.7-6.1-1.7-4.8-1.8-3.7-1.8-3-1.9-2.4-2.5-2.4-2.4-1.9-3.3-2-3.4-1.5-3.3-1.1-3.3-0.8-3.4-0.6-4-0.4-4-0.2-4 0-4 0.3-3.4 0.5-3.3 0.7-2.7 0.8-2.7 1.1-2 1.2-1.9 1.4-1.4 1.5-1.2 1.6-0.9 1.8-0.9 2.4-0.6 3-0.2 3.1 0 4.2 0.3 4.9 1.8 19.3 0.9 9.1 1 6.7 1.2 4.8 0.9 2.4 1.3 2.5 1.4 1.8 1.7 1.3 2 1.2 2.6 1 3.4 0.8z"/>
<path fill="#f5a886" fill-rule="evenodd" d="M277 363l3.6 0.4 4.1 0.2 4-0.1 3.3-0.3 3.4-0.5 3.3-0.7 3.3-1 2.7-1.1 2.3-1.1 2.4-1.7 1.6-1.4 1.8-1.9 1.1-1.7 1.2-2.4 0.8-2.4 0.6-3.1 0.3-4.2-0.2-4.2-0.7-5.5-1-5.5-1.5-6-1.6-5.5-1.7-4.3-2-4-2-3.1-2-2.3-2.1-2-2.6-1.9-2.7-1.5-3.3-1.4-3.4-1-4-0.7-2.7-0.2-3.3-0.1-2.7 0.2-2.7 0.3-2.6 0.6-2.7 0.8-2 0.8-1.9 1.1-1.7 1.2-1.3 1.2-1.1 1.3-1.2 1.7-0.9 1.8-0.7 1.9-0.6 2.4-0.4 2.4-0.3 4.2-0.2 5.5 0.2 7.3 0.4 7.8 0.5 6.1 0.7 4.8 0.8 4.3 1 3.3 1.2 2.7 1.1 1.8 1.6 1.9 1.5 1.2 2.2 1.2 2.4 1 3 0.8z"/>
<path fill="#e48066" fill-rule="evenodd" d="M279.4 360l3.3 0.3 3.3 0 3.3-0.2 2.7-0.3 2.7-0.6 2.7-0.8 2.6-1.1 2-1.1 2.1-1.4 1.6-1.5 1.5-1.8 1.2-1.8 0.8-1.8 0.8-2.5 0.5-2.4 0.2-2.4 0-3.6-0.4-4.3-0.7-4.2-1.1-4.9-1.4-4.8-1.6-4.2-1.7-3.7-1.7-3-1.7-2.4-2.2-2.5-2-1.8-2.2-1.5-2.6-1.4-2.7-1-2.7-0.6-3.3-0.4-2.7 0-2 0.1-2.7 0.5-2.1 0.7-1.9 0.8-2 1.2-2 1.6-1.2 1.2-1.3 1.9-0.9 1.5-0.9 2.1-0.8 2.4-0.5 2.4-0.5 3.1-0.6 6.6-0.2 4.3 0.1 4.8 0.2 4.3 0.3 3.6 0.5 3 0.6 3 0.9 3.1 0.9 2.1 1.2 2.1 1.5 1.8 1.4 1.2 1.8 1.2 2.2 1.1 2 0.8 2.6 0.7z"/>
<path fill="#d35a4a" fill-rule="evenodd" d="M279.3 356.3l2 0.4 2.7 0.2 2.7-0.1 2.6-0.3 2.7-0.6 2-0.6 2-0.9 2-1.1 1.7-1.2 1.2-1.2 1.5-1.8 1-1.7 0.8-2 0.6-1.8 0.3-1.8 0.3-2.4 0-3-0.2-3.1-0.6-3.6-0.9-3.6-1.1-3.7-1.2-3-1.4-3-1.7-3.1-1.6-2.2-1.6-2-1.7-1.7-2-1.5-2.1-1.2-2-0.9-2-0.6-2.6-0.4-2.1 0-2 0.3-2 0.5-1.3 0.5-2 1.1-1.3 1-1.4 1.3-1.3 1.6-1.2 1.8-0.8 1.6-0.9 2.1-0.8 2.4-1.1 4.8-0.7 6.1-0.1 6 0.5 5.5 0.5 2.4 0.6 2.3 0.7 1.9 0.8 1.9 1.1 1.8 1 1.2 1.2 1.2 1.6 1.2 1.6 1 2 0.9 2 0.7z"/>
<path fill="#bf3338" fill-rule="evenodd" d="M281.3 352.7l2 0.2 2 0 3.4-0.4 1.5-0.4 1.8-0.7 1.4-0.7 1.5-1 1.4-1.2 1-1.2 1.5-2.5 0.8-1.8 0.5-1.8 0.4-3.6 0-2.5-0.3-2.4-0.4-2.4-0.6-2.4-0.8-2.4-1-2.5-1.3-2.4-1.1-1.8-1.3-1.8-1.6-1.8-1.4-1.4-1.4-1-1.3-0.8-2-0.9-1.3-0.4-2-0.3-2.1 0.1-1.3 0.3-1.3 0.4-1.4 0.7-1.3 0.9-1.3 1.1-2 2.4-1.2 1.9-0.8 1.7-1.4 3.7-0.9 4.3-0.4 4.2 0.2 4.3 0.5 3.6 0.6 1.8 0.6 1.8 1.4 2.6 0.8 1.1 1.2 1.3 1.4 1.1 1.3 0.9 2.7 1.2z"/>
<path fill="#a51429" fill-rule="evenodd" d="M280.6 347.9l2.7 0.4 2.7-0.1 1.3-0.3 1.4-0.4 2-1.1 1.1-1 0.9-0.9 1.3-1.9 1.1-2.6 0.4-2.4 0.1-3.1-0.2-1.8-0.4-1.8-1-3.1-1.5-3-1.8-2.5-1.4-1.3-1.2-1-2.1-1.2-1.3-0.4-1.4-0.3-2 0.1-2 0.6-2 1.1-1.9 1.9-1.4 2-1.1 2.3-0.8 2.4-0.5 3-0.1 3 0.2 2.5 0.6 2.4 1 2.4 1.3 2 1.6 1.6 1.8 1.3 1.3 0.7z"/>
<path fill="#7c0722" fill-rule="evenodd" d="M282.1 341.8l1.2 0.2 1.4-0.1 1.3-0.4 1.3-0.8 0.7-0.7 0.9-1.2 0.5-1.2 0.3-1.8 0-1.9-0.3-1.8-0.7-1.7-0.7-1.1-0.7-0.9-1.3-1.2-1.3-0.7-1.4-0.3-1.3 0.1-0.7 0.2-1.3 0.7-0.8 0.7-0.9 1.2-0.7 1.2-0.4 1.2-0.3 1.8 0.1 1.8 0.2 1.3 0.4 1.2 0.6 1.2 0.9 1.2 0.9 0.8 0.7 0.4z"/>
<path class="cl" d="M232.5 433.7l2.7-0.2 2-0.6 2-1.1 1.3-1.1 2-2.3 1.4-2.2 1.3-2.7 1.3-3.6 1.4-4.6 0.7-3.2 1-6.1 0.7-5.4 0.5-5.5 0.4-7.3 0.2-13.9-0.2-0.6-18.7 0M232.5 312.9l2.7 0.2 2 0.6 2 1.1 1.3 1.1 2 2.3 1.4 2.2 1.3 2.7 1.3 3.6 1.4 4.6 0.7 3 0.6 3.5 0.8 5.8 0.6 5.5 0.5 8.5 0.2 6.6 0.1 8.5 0.5 0.6 87.6 0M240.6 407.2l0.6 0.4 0.7-0.1 0.6-0.3 0.7-0.8 0.7-1.3 0.6-1.9 0.7-3.7 0.1-3.8-0.1-1.2-0.4-1.8-0.3-0.8-0.6-1.2-0.7-0.6-0.7-0.2-0.6 0.1-0.7 0.3-0.7 0.6-0.6 1-0.8 2-0.6 3-0.1 3 0.4 3.1 0.6 2.4 0.5 0.9zM280.7 369.7l6 0 5.3-0.1 5.4-0.3 4.6-0.3 4.7-0.6 4-0.7 3.4-0.8 3.3-1 2.9-1.1 2.5-1.2 2.7-1.7 2-1.7 1.8-2 1.3-1.9 1.3-2.4 0.9-2.4 0.9-3.6 0.4-4.3 0-4.8-0.5-6.1-1.2-8.5-1.8-9-1.5-6.1-1.8-5.4-1.7-3.7-1.7-3-2.2-3-2.3-2.5-2.6-2.1-2.7-1.7-3.4-1.6-4-1.4-4-1.1-4.7-0.9-5.3-0.6-5.4-0.4-6-0.2-6 0.1-6 0.4-4.7 0.6-4 0.8-3 0.9-2.9 1.2-2.1 1.2-1.6 1.2-1.7 1.8-1.2 1.8-1.1 2.5-0.5 2.4-0.3 2.4 0.1 3 0.4 3.1 0.7 4.2 2.5 11.9 1.3 7.5 3.4 26 0.9 4.3 1.1 3 1.3 2.3 1.3 1.4 2.1 1.4 2 0.8 2.6 0.7 4.1 0.6 4.6 0.4zM274.8 366l3.8 0.4 4.7 0.2 4.7 0 4.7-0.2 4-0.4 4-0.7 4-0.8 3.4-1 2.7-1.1 2.6-1.3 2.6-1.7 2.1-1.8 1.6-1.9 1.2-1.8 1.2-2.4 0.8-2.4 0.8-3.7 0.3-4.2-0.1-4.2-0.6-5.5-1.1-6.7-1.7-7.8-1.7-6.1-1.7-4.8-1.8-3.7-1.8-3-1.9-2.4-2.5-2.4-2.4-1.9-3.3-2-3.4-1.5-3.3-1.1-3.3-0.8-3.4-0.6-4-0.4-4-0.2-4 0-4 0.3-3.4 0.5-3.3 0.7-2.7 0.8-2.7 1.1-2 1.2-1.9 1.4-1.4 1.5-1.2 1.6-0.9 1.8-0.9 2.4-0.6 3-0.2 3.1 0 4.2 0.3 4.9 1.8 19.3 0.9 9.1 1 6.7 1.2 4.8 0.9 2.4 1.3 2.5 1.4 1.8 1.7 1.3 2 1.2 2.6 1 3.4 0.8zM277 363l3.6 0.4 4.1 0.2 4-0.1 3.3-0.3 3.4-0.5 3.3-0.7 3.3-1 2.7-1.1 2.3-1.1 2.4-1.7 1.6-1.4 1.8-1.9 1.1-1.7 1.2-2.4 0.8-2.4 0.6-3.1 0.3-4.2-0.2-4.2-0.7-5.5-1-5.5-1.5-6-1.6-5.5-1.7-4.3-2-4-2-3.1-2-2.3-2.1-2-2.6-1.9-2.7-1.5-3.3-1.4-3.4-1-4-0.7-2.7-0.2-3.3-0.1-2.7 0.2-2.7 0.3-2.6 0.6-2.7 0.8-2 0.8-1.9 1.1-1.7 1.2-1.3 1.2-1.1 1.3-1.2 1.7-0.9 1.8-0.7 1.9-0.6 2.4-0.4 2.4-0.3 4.2-0.2 5.5 0.2 7.3 0.4 7.8 0.5 6.1 0.7 4.8 0.8 4.3 1 3.3 1.2 2.7 1.1 1.8 1.6 1.9 1.5 1.2 2.2 1.2 2.4 1 3 0.8zM279.4 360l3.3 0.3 3.3 0 3.3-0.2 2.7-0.3 2.7-0.6 2.7-0.8 2.6-1.1 2-1.1 2.1-1.4 1.6-1.5 1.5-1.8 1.2-1.8 0.8-1.8 0.8-2.5 0.5-2.4 0.2-2.4 0-3.6-0.4-4.3-0.7-4.2-1.1-4.9-1.4-4.8-1.6-4.2-1.7-3.7-1.7-3-1.7-2.4-2.2-2.5-2-1.8-2.2-1.5-2.6-1.4-2.7-1-2.7-0.6-3.3-0.4-2.7 0-2 0.1-2.7 0.5-2.1 0.7-1.9 0.8-2 1.2-2 1.6-1.2 1.2-1.3 1.9-0.9 1.5-0.9 2.1-0.8 2.4-0.5 2.4-0.5 3.1-0.6 6.6-0.2 4.3 0.1 4.8 0.2 4.3 0.3 3.6 0.5 3 0.6 3 0.9 3.1 0.9 2.1 1.2 2.1 1.5 1.8 1.4 1.2 1.8 1.2 2.2 1.1 2 0.8 2.6 0.7zM279.3 356.3l2 0.4 2.7 0.2 2.7-0.1 2.6-0.3 2.7-0.6 2-0.6 2-0.9 2-1.1 1.7-1.2 1.2-1.2 1.5-1.8 1-1.7 0.8-2 0.6-1.8 0.3-1.8 0.3-2.4 0-3-0.2-3.1-0.6-3.6-0.9-3.6-1.1-3.7-1.2-3-1.4-3-1.7-3.1-1.6-2.2-1.6-2-1.7-1.7-2-1.5-2.1-1.2-2-0.9-2-0.6-2.6-0.4-2.1 0-2 0.3-2 0.5-1.3 0.5-2 1.1-1.3 1-1.4 1.3-1.3 1.6-1.2 1.8-0.8 1.6-0.9 2.1-0.8 2.4-1.1 4.8-0.7 6.1-0.1 6 0.5 5.5 0.5 2.4 0.6 2.3 0.7 1.9 0.8 1.9 1.1 1.8 1 1.2 1.2 1.2 1.6 1.2 1.6 1 2 0.9 2 0.7zM281.3 352.7l2 0.2 2 0 3.4-0.4 1.5-0.4 1.8-0.7 1.4-0.7 1.5-1 1.4-1.2 1-1.2 1.5-2.5 0.8-1.8 0.5-1.8 0.4-3.6 0-2.5-0.3-2.4-0.4-2.4-0.6-2.4-0.8-2.4-1-2.5-1.3-2.4-1.1-1.8-1.3-1.8-1.6-1.8-1.4-1.4-1.4-1-1.3-0.8-2-0.9-1.3-0.4-2-0.3-2.1 0.1-1.3 0.3-1.3 0.4-1.4 0.7-1.3 0.9-1.3 1.1-2 2.4-1.2 1.9-0.8 1.7-1.4 3.7-0.9 4.3-0.4 4.2 0.2 4.3 0.5 3.6 0.6 1.8 0.6 1.8 1.4 2.6 0.8 1.1 1.2 1.3 1.4 1.1 1.3 0.9 2.7 1.2zM280.6 347.9l2.7 0.4 2.7-0.1 1.3-0.3 1.4-0.4 2-1.1 1.1-1 0.9-0.9 1.3-1.9 1.1-2.6 0.4-2.4 0.1-3.1-0.2-1.8-0.4-1.8-1-3.1-1.5-3-1.8-2.5-1.4-1.3-1.2-1-2.1-1.2-1.3-0.4-1.4-0.3-2 0.1-2 0.6-2 1.1-1.9 1.9-1.4 2-1.1 2.3-0.8 2.4-0.5 3-0.1 3 0.2 2.5 0.6 2.4 1 2.4 1.3 2 1.6 1.6 1.8 1.3 1.3 0.7zM282.1 341.8l1.2 0.2 1.4-0.1 1.3-0.4 1.3-0.8 0.7-0.7 0.9-1.2 0.5-1.2 0.3-1.8 0-1.9-0.3-1.8-0.7-1.7-0.7-1.1-0.7-0.9-1.3-1.2-1.3-0.7-1.4-0.3-1.3 0.1-0.7 0.2-1.3 0.7-0.8 0.7-0.9 1.2-0.7 1.2-0.4 1.2-0.3 1.8 0.1 1.8 0.2 1.3 0.4 1.2 0.6 1.2 0.9 1.2 0.9 0.8 0.7 0.4z"/>
<path class="cl cd" d="M281.3 420.1l-1.3-0.7-0.7-0.6-1-1.3-0.7-1.2-0.4-1.2-0.3-1.8 0.1-1.8 0.2-1.3 0.7-1.8 0.7-1.2 0.7-0.8 1.3-1 1.4-0.6 0.7-0.1 1.3-0.1 1.3 0.2 1.3 0.6 0.8 0.6 1.1 1.2 0.6 1.2 0.4 1.2 0.3 1.9-0.1 1.2-0.3 1.8-0.7 1.7-0.7 1.1-0.7 0.9-1.3 1.2-1 0.5-1 0.4-1.3 0.1zM282 428.5l-1.4-0.2-1.3-0.5-2-1.1-1.9-1.9-1.4-2-1.3-2.9-0.9-3-0.3-3 0.1-3.1 0.5-3 0.9-2.4 1.5-2.4 1.5-1.7 2-1.4 1.3-0.7 1.3-0.5 2.1-0.4 2.6 0 2.7 0.6 2 0.9 1.8 1.4 1.6 1.8 1.3 2.4 0.6 2.4 0.3 2.4-0.1 3.1-0.6 3-1.1 3-1.3 2.5-1.8 2.5-2 1.9-2 1.3-2 0.7-1.4 0.3zM279.3 435.8l-2-0.7-1.3-0.8-1.4-1-1.3-1.3-2-2.7-1.1-2.1-0.8-1.8-1.3-4.3-0.4-2.4-0.3-2.4-0.1-2.4 0.1-2.4 0.2-2.5 0.3-1.9 1.1-3.5 0.8-1.8 0.7-1.2 0.9-1.3 1.1-1.2 2.3-1.8 1.8-1 1.4-0.5 3.3-0.9 2-0.2 2 0 3.4 0.4 1.5 0.4 1.8 0.7 1.4 0.7 1.5 1 1.4 1.2 1 1.2 1.5 2.5 0.6 1.3 0.5 1.7 0.4 1.8 0.2 1.8-0.1 3.7-0.6 4.2-1.2 4.2-1 2.5-0.9 2-1.3 2.2-1.2 1.8-1.5 1.8-1.2 1.2-1.5 1.3-1.3 0.9-1.4 0.7-2 0.8-1.3 0.3-2 0.2-1.4-0.1zM279.3 443.7l-2-0.5-2-0.7-2-1.1-1.3-1-1.8-1.7-1.4-1.8-1-1.8-1.2-2.6-1-2.9-0.7-3-0.7-3.6-0.3-3.7-0.2-3.6 0.1-3.6 0.3-3.7 0.5-3.3 0.7-2.6 0.6-1.9 0.7-1.5 0.9-1.6 1.1-1.5 1.4-1.4 1.3-1.1 1.3-0.8 2-1 2-0.8 2-0.5 2.7-0.5 2-0.1 2.7 0 2.7 0.2 2 0.3 2 0.6 2 0.7 2 0.9 2 1.3 1.6 1.3 1.2 1.2 0.9 1.2 1.1 1.8 0.7 1.9 0.6 1.8 0.3 1.8 0.3 2.4 0 2.4-0.1 2.5-0.3 2.4-0.6 3-0.7 3-0.9 3.1-1.2 3-1 2.4-1.3 2.4-1.4 2.5-1.8 2.4-1.4 1.6-1.5 1.4-1.8 1.4-2.1 1.2-2 0.9-2 0.6-2 0.3-2 0.1zM278.6 450.2l-2.6-0.4-2.7-0.7-2.7-1.2-2-1.3-2-1.8-1.4-1.9-1.3-2.1-1.1-2.7-0.9-3.1-0.7-4.2-0.5-4.8-0.3-5.5 0.1-5.4 0.3-5.5 0.5-4.2 0.8-4.2 0.7-2.5 0.7-1.8 0.9-1.8 1.2-1.8 1.7-1.8 1.3-1.1 1.4-0.9 2-0.9 2-0.8 2.6-0.7 2.7-0.5 3.4-0.3 3.3 0 2.7 0.1 3.3 0.4 2.7 0.6 2.7 0.8 2.1 0.8 2.3 1.3 1.9 1.2 1.7 1.5 1.4 1.5 1.2 1.8 1.2 2.4 0.6 1.9 0.6 2.4 0.3 2.4 0 3-0.1 3.1-0.4 3.6-0.7 3.6-0.8 3.7-1.1 3.6-1.2 3.6-1.2 3.1-1.4 3-1.3 2.4-1.6 2.4-1.5 1.9-1.8 1.8-2.2 1.8-1.9 1.2-2.1 1.1-2.1 0.7-2.6 0.8-2.7 0.4-2.7 0.2zM278 455.7l-4-0.5-3.4-0.9-3.3-1.2-2.7-1.6-2-1.7-1.7-2-1.4-2.4-1.1-3.1-0.8-3.6-0.4-4.8-0.2-6.1 0.3-8.5 0.5-8.5 0.7-6.6 0.8-4.9 1.2-4.2 1-2.4 1-1.8 1.4-1.9 1.3-1.2 1.4-0.9 2-1.1 2-0.8 2.7-0.7 3.3-0.7 3.4-0.3 4-0.2 4 0 4 0.3 3.4 0.5 3.3 0.7 2.8 0.8 3.1 1.2 2.4 1.2 2.4 1.7 2 1.8 1.7 2 1.4 2.4 1 2.4 0.7 2.5 0.4 3 0.2 3-0.2 3.6-0.3 3.7-0.8 4.8-1 4.9-1.2 4.8-1.3 4.3-1.1 3-1.3 3-1.3 2.4-1.4 2.5-1.4 1.8-1.6 1.8-1.9 1.7-2 1.6-2 1.2-2.6 1.3-2.7 1-2.7 0.8-2.7 0.5-3.3 0.4-3.4 0.1zM278.6 460.5l-5.3-0.4-4.7-0.8-4-1.1-3.3-1.5-2.7-1.7-1.3-1.2-1-1.2-1.5-2.4-1.2-3-0.6-3.6-0.3-3.7 0.2-4.8 0.4-6.1 1.9-19.4 0.9-8.4 1.1-6.3 0.7-2.6 0.7-2 0.9-1.9 1.1-1.8 1.3-1.5 2-1.5 2-1 2.5-0.8 2.9-0.7 3.3-0.5 4.7-0.4 4.7-0.2 5.3 0 4.7 0.4 4.7 0.5 4 0.8 4 1 3.4 1.2 3.1 1.5 2.2 1.4 2 1.6 2.3 2.5 1.5 2.4 1.1 2.4 0.8 2.4 0.6 3.1 0.3 3.6-0.1 3.6-0.3 4.3-0.7 5.4-1.2 6.1-1.3 6-1.4 4.9-1.7 4.8-1.4 3-1.3 2.5-1.6 2.4-1.4 1.8-1.8 1.8-1.7 1.5-2.2 1.6-2 1.2-2.5 1.2-2.7 1-2.7 0.8-3.3 0.8-3.4 0.5-3.3 0.3-3.3 0.2zM272 464.8l-6.1-0.6-4.6-0.9-4.1-1.1-3.3-1.5-1.3-0.8-1.4-1-2-2.1-0.8-1.1-0.9-1.9-0.5-1.2-0.4-1.8-0.3-1.8-0.1-1.8 0.1-2.4 0.3-2.5 0.8-4.8 2.5-11.9 1.3-7.5 0.9-6.6 2.4-18.8 0.7-3.7 0.7-2.4 0.7-1.8 1-1.8 1.5-1.8 1.8-1.2 2.4-1.1 2.6-0.7 4.1-0.6 5.3-0.4 6-0.3 6.7 0 6 0.2 6 0.4 5.4 0.5 4.7 0.8 4 0.9 4 1.2 3.3 1.4 2.7 1.5 2.7 2 2 2 1.8 2.5 1.3 2.4 1.1 3 0.7 3 0.3 3.1 0.2 3.6-0.3 5.4-0.8 6.7-1.3 7.9-1.5 7.3-1.2 4.8-1.6 4.8-1.6 3.7-2 3.6-1.7 2.4-1.6 1.8-1.9 1.9-2.4 1.8-2.2 1.4-2.7 1.3-2.7 1.1-2.6 0.8-3.4 0.9-4 0.8-4 0.5-4 0.4-4.7 0.3-4.7 0.1-4.7-0.1zM241.9 356.6l-0.7-0.3-0.7-0.6-0.6-1-0.4-0.8-0.7-2.4-0.4-3 0.1-3.1 0.7-3.5 0.7-1.6 0.6-0.9 0.7-0.4 0.7 0.1 0.6 0.3 0.7 0.8 0.7 1.3 0.6 1.9 0.3 1.4 0.5 3.7-0.1 3.5-0.7 2.7-0.6 1.2-0.7 0.6-0.7 0.2z"/></g>
<rect class="sp" x="232.5" y="276.4" width="107" height="193.8"/>
<rect x="345.8" y="459.28" width="10" height="11.07" fill="#0d3f76"/>
<rect x="345.8" y="448.52" width="10" height="11.07" fill="#1c5c9f"/>
<rect x="345.8" y="437.75" width="10" height="11.07" fill="#2e77b5"/>
<rect x="345.8" y="426.98" width="10" height="11.07" fill="#408fc1"/>
<rect x="345.8" y="416.22" width="10" height="11.07" fill="#6bacd1"/>
<rect x="345.8" y="405.45" width="10" height="11.07" fill="#96c7df"/>
<rect x="345.8" y="394.68" width="10" height="11.07" fill="#b8d8e9"/>
<rect x="345.8" y="383.92" width="10" height="11.07" fill="#d7e8f1"/>
<rect x="345.8" y="373.15" width="10" height="11.07" fill="#ecf2f5"/>
<rect x="345.8" y="362.38" width="10" height="11.07" fill="#f9efe9"/>
<rect x="345.8" y="351.62" width="10" height="11.07" fill="#fcdfcf"/>
<rect x="345.8" y="340.85" width="10" height="11.07" fill="#f9c6ac"/>
<rect x="345.8" y="330.08" width="10" height="11.07" fill="#f5a886"/>
<rect x="345.8" y="319.32" width="10" height="11.07" fill="#e48066"/>
<rect x="345.8" y="308.55" width="10" height="11.07" fill="#d35a4a"/>
<rect x="345.8" y="297.78" width="10" height="11.07" fill="#bf3338"/>
<rect x="345.8" y="287.02" width="10" height="11.07" fill="#a51429"/>
<rect x="345.8" y="276.25" width="10" height="11.07" fill="#7c0722"/>
<rect class="sp" x="345.8" y="276.4" width="10" height="193.8"/>
<text class="tk" x="364.1" y="291.87">8</text>
<text class="tk" x="364.1" y="313.40">6</text>
<text class="tk" x="364.1" y="334.93">4</text>
<text class="tk" x="364.1" y="356.47">2</text>
<text class="tk" x="364.1" y="378.00">0</text>
<text class="tk" x="364.1" y="399.53">–2</text>
<text class="tk" x="364.1" y="421.07">–4</text>
<text class="tk" x="364.1" y="442.60">–6</text>
<text class="tk" x="364.1" y="464.13">–8</text>
<path class="tick" d="M355.8 287.17h4M355.8 308.70h4M355.8 330.23h4M355.8 351.77h4M355.8 373.30h4M355.8 394.83h4M355.8 416.37h4M355.8 437.90h4M355.8 459.43h4"/>
<path class="tick" d="M232.50 470.2v4.3M286.00 470.2v4.3M339.50 470.2v4.3"/>
<text class="tk" text-anchor="middle" x="232.50" y="490.20">0</text>
<text class="tk" text-anchor="middle" x="286.00" y="490.20"><tspan class="pi">π</tspan>/2</text>
<text class="tk pi" text-anchor="middle" x="339.50" y="490.20">π</text>
<text class="lb it" text-anchor="middle" x="286.00" y="510.20">r</text>
<g><rect x="394.5" y="276.4" width="107" height="193.8" fill="#0d3f76"/>
<path fill="#1d5fa2" fill-rule="evenodd" d="M394.5 470.2l107 0 0-193.8-107 0zM455.4 411.5l-1.4-0.2-2-0.9-1.3-0.8-2-1.7-2-2-1.4-1.6-1.3-1.9-1.7-3.1-1-2.3-0.8-2.5-0.9-3.6-0.8-3.7-0.9-6.6-0.3-3.7-0.1-3.6 0.1-3.6 0.3-3.7 0.9-6.6 0.8-3.7 0.9-3.6 0.8-2.5 1-2.3 1.7-3.1 1.3-1.9 1.4-1.6 2-2 2-1.7 1.3-0.8 2-0.9 1.4-0.2 1.3 0.1 1.3 0.5 1.1 0.7 0.9 0.8 4 4.3 1.8 2.7 0.9 1.9 0.9 2.4 0.9 3 1 4.2 0.7 3.7 0.9 7.2 0.3 3.7 0.1 3-0.1 3-0.3 3.7-0.9 7.2-0.7 3.7-1 4.2-0.9 3-0.9 2.4-0.9 1.9-1.8 2.7-4 4.3-0.9 0.8-1.1 0.7-1.3 0.5z"/>
<path fill="#307ab6" fill-rule="evenodd" d="M394.5 470.2l66 0-3.1-4.4-1.4-2.2-1-2.5-1.9-6-0.9-2.5-1.4-2.4-2.3-3-1.2-1.8-0.6-1.5-0.6-1.6-2.1-10.9-2-6.4-2.3-9.9-2.9-8.5-1-4.2-0.8-4.9-1.8-14.5-0.5-5.5-0.1-4.2 0.1-4.2 0.5-5.5 1.8-14.5 0.8-4.9 1-4.2 2.9-8.5 2.3-9.9 2-6.4 2.1-10.9 0.6-1.6 0.6-1.5 1.2-1.8 2.3-3 1.4-2.4 0.9-2.5 1.9-6 1-2.5 1.4-2.2 3.1-4.4-66 0z"/>
<path fill="#4695c4" fill-rule="evenodd" d="M398 461.7l1.8 0.4 2.1 0.1 2-0.3 1.3-0.5 1.3-0.8 2.3-1.9 2.8-1.8 4.3-2.5 4-2.1 1.3-1 1.1-1.1 1.6-2.4 2.5-4.9 1.5-3.1 0.7-1.9 1.6-6.5 0.8-3.6 0.2-2.4 0.2-6.1 0-16.3-0.5-9.7-1.1-12.7-0.3-6.7 0.2-7.3 1.2-13.3 0.6-10.9-0.1-12.7-0.1-7.3-0.2-3-0.7-3.6-1.5-6.1-1-2.9-4-8-0.7-1.2-1.3-1.6-1.3-1.2-1.2-0.8-5.7-3.1-4-2.4-1.7-1.2-2.1-1.7-2-0.9-1.4-0.2-1.3-0.1-2 0.2-1.4 0.3-2 0.9-1.3 0.9 0 173.2 2 1.2z"/>
<path fill="#75b2d4" fill-rule="evenodd" d="M394.5 449.6l3.3 0 4.7-0.5 2-0.4 2-0.7 4.1-2.3 3.6-2.8 3.8-3.6 1.1-1.2 0.8-1.2 1.5-3 1.9-5 0.5-2.3 0.8-4.1 1.4-5.6 0.4-3.6 0.7-17 0-4.2-0.5-10.9-0.1-7.9 0.1-8.5 0.5-10.3 0-3.6-0.2-6.1-0.5-10.9-0.1-2.4-0.4-2.2-1.3-5.2-0.8-4.1-0.5-2.3-2.1-5.4-1.7-3.2-1.6-2-3-2.8-1.4-1.3-2.9-2.1-4.7-2.6-1.4-0.4-2-0.4-3.3-0.4-2.7-0.2-2 0.1z"/>
<path fill="#a0cce2" fill-rule="evenodd" d="M394.5 442.3l0 0.2 2.7-0.3 5.3-0.9 2-0.5 2-0.9 3.8-3 2.8-3 4.8-6.7 0.8-1.2 0.8-1.8 1.4-3.7 0.9-4.2 0.3-2.4 0.5-5.7 1.3-9.5 0.5-6.6 0.1-18.8-0.1-18.8-0.5-6.6-1.3-9.5-0.5-5.7-0.3-2.4-0.9-4.2-1.4-3.7-0.8-1.8-0.8-1.2-4.8-6.7-2.8-3-3.8-3-2-0.9-2-0.5-4.7-0.8-3.3-0.4z"/>
<path fill="#c5dfec" fill-rule="evenodd" d="M394.5 436.3l0 0.3 2-0.1 2-0.3 3.4-0.8 2.6-0.9 1.4-0.8 0.6-0.5 3.4-3.4 2.1-2.6 1.9-3 4-7.3 0.9-2.4 0.6-2.4 0.4-3.1 0.6-6 0.9-10.9 0.5-18.8-0.5-18.8-0.9-10.9-0.6-6-0.4-3.1-0.6-2.4-0.9-2.4-4-7.3-1.9-3-2.1-2.6-3.4-3.4-0.6-0.5-1.4-0.8-2-0.7-4.7-1.1-3.3-0.3z"/>
<path fill="#e0ecf3" fill-rule="evenodd" d="M394.5 430.8l0 0.6 0.7-0.1 2-0.1 2-0.5 4-1.1 1.3-0.7 1.4-0.8 0.9-0.9 3.1-4.1 2.4-3.8 1.9-3.6 1.5-3.6 1-3.1 1.2-5.1 0.7-4.2 0.6-5.2 0.3-3 0.6-17.6-0.1-6.1-0.5-12.7-0.6-6-0.8-5.5-1-4.8-0.7-2.4-1.6-4.3-1.6-3.2-2.6-4.4-3.3-4.5-1.4-1.5-2-1.2-2-0.7-4.1-1-2.6-0.3-0.7-0.1z"/>
<path fill="#f7f6f6" fill-rule="evenodd" d="M394.5 426.6l0 0.3 1.3-0.1 2.7-0.5 4-1.4 2-1.2 1.4-1.1 2.9-3.9 1.5-2.4 1.2-2.4 1.5-3.7 2.3-7.8 1.1-4.3 0.8-4.2 0.3-2.4 0.6-8.5 0.3-9.7-0.3-9.7-0.6-8.5-0.3-2.4-0.8-4.2-1.1-4.3-2.3-7.8-1.5-3.7-1.2-2.4-1.5-2.4-2.9-3.9-1.4-1.1-2-1.2-3.3-1.2-2.7-0.6-2-0.2z"/>
<path fill="#fbe6da" fill-rule="evenodd" d="M394.5 422.4l2-0.2 2-0.5 4-1.6 1.5-0.8 1.2-0.9 0.7-0.7 2.1-3.2 1.2-2.4 1.5-3.7 1.6-4.8 2.6-10.9 1.1-10.3 0.3-4.9 0.1-4.2-0.1-4.2-0.3-4.9-1.1-10.3-2.6-10.9-1.6-4.8-1.5-3.7-1.2-2.4-2.1-3.2-0.7-0.7-1.2-0.9-1.5-0.8-4-1.6-2-0.5-2-0.2z"/>
<path fill="#fbd0b9" fill-rule="evenodd" d="M394.5 418.1l0 0.4 0.7 0 2.6-0.6 4.1-1.6 1.9-1.2 1.4-1.3 0.7-1 2.3-5 1.2-3 1-3 1.1-4.3 1.1-4.8 1.1-10.3 0.3-4.9 0.1-4.2-0.1-4.2-0.3-4.9-1.1-10.3-1.1-4.8-1.1-4.3-1-3-1.2-3-2.3-5-0.7-1-1.3-1.3-2-1.2-3.4-1.4-2-0.6-2-0.2z"/>
<path fill="#f6b191" fill-rule="evenodd" d="M394.5 414.5l0 0.3 1.3-0.2 1.4-0.3 2-0.9 2.7-1.4 1.3-1 1.3-1.4 0.7-0.9 0.7-1.4 1.8-4.3 0.8-2.5 1.5-5.4 0.7-3 1-9.7 0.3-4.9 0.1-4.2-0.1-4.2-0.3-4.9-1-9.7-0.7-3-1.5-5.4-0.8-2.5-1.8-4.3-0.7-1.4-0.7-0.9-0.6-0.8-1.4-1.1-2.7-1.6-2-0.9-2-0.6-1.3-0.2z"/>
<path fill="#e98b6e" fill-rule="evenodd" d="M394.5 410.2l0 0.5 2-0.3 2-0.9 1.9-1.1 1.5-1 1.3-1.1 1.3-1.7 0.7-1.1 2.7-7.9 1-4.1 0.9-9.1 0.3-4.9 0.1-4.2-0.1-4.2-0.3-4.9-0.9-9.1-1-4.1-2.7-7.9-1.3-2-0.7-0.8-1.3-1.1-2.1-1.3-2-1.1-2-0.8-1.3-0.1z"/>
<path fill="#d7634f" fill-rule="evenodd" d="M394.5 406l0 0.5 2-0.4 2-0.9 2-1.2 1.4-1 1.1-1.2 0.9-1.3 0.9-1.8 0.4-1 1.3-4.4 0.4-1.8 0.4-2.5 0.8-7.8 0.3-7.9-0.3-7.9-0.8-7.8-0.4-2.5-0.4-1.8-1.3-4.4-0.4-1-0.9-1.8-0.7-1-0.7-0.9-1.3-1.1-2-1.3-2-1.1-1.4-0.4-1.3-0.2z"/>
<path fill="#c2383a" fill-rule="evenodd" d="M394.5 401.8l0 0.4 0.7 0 1.3-0.4 1.4-0.6 1.9-1.5 1.7-1.6 1-1.2 1.4-2.2 0.6-1.4 0.7-2.6 0.7-5.9 0.4-5.4 0.2-6.1-0.2-6.1-0.4-5.4-0.7-5.9-0.7-2.6-0.6-1.4-1.4-2.2-0.6-0.9-1.6-1.5-1.8-1.5-1.3-0.8-1.4-0.4-1.3-0.2z"/>
<path fill="#a81529" fill-rule="evenodd" d="M394.5 396.9l0 0.2 1.3-0.1 0.7-0.2 1.3-0.8 2.4-2.1 1-1.2 0.7-1.2 1.3-3.7 0.7-3.3 0.6-5.1 0.2-4.9-0.1-6-0.5-4.9-0.9-4.7-1-3.2-0.3-0.8-0.7-1-2-2.2-2-1.5-1.4-0.6-0.6-0.1-0.7 0z"/>
<path fill="#7c0722" fill-rule="evenodd" d="M394.5 390.9l0.7 0.1 0.6-0.2 0.7-0.5 1.3-1.7 1.4-2.6 1-3 0.7-3 0.4-3.1 0.1-3 0-3-0.3-3.1-0.6-2.9-0.7-2.5-0.9-2.4-1.1-2-1.3-1.7-0.7-0.5-0.6-0.2-0.7 0.1z"/>
<path class="cl" d="M460.5 470.2l-3.1-4.4-1.4-2.2-1-2.5-1.9-6-0.9-2.5-1.4-2.4-2.3-3-1.2-1.8-0.6-1.5-0.6-1.6-2.1-10.9-2-6.4-2.3-9.9-2.9-8.5-1-4.2-0.8-4.9-1.8-14.5-0.5-5.5-0.1-4.2 0.1-4.2 0.5-5.5 1.8-14.5 0.8-4.9 1-4.2 2.9-8.5 2.3-9.9 2-6.4 2.1-10.9 0.6-1.6 0.6-1.5 1.2-1.8 2.3-3 1.4-2.4 0.9-2.5 1.9-6 1-2.5 1.4-2.2 3.1-4.4M394.5 459.9l2 1.2 1.3 0.6 1.4 0.3 2.7 0.2 1.3-0.2 1.3-0.4 1.4-0.6 2.1-1.7 3.9-2.6 4-2.3 4-2.1 1.8-1.5 1.5-1.8 3.2-6.1 1.5-3.1 1.2-3.5 1.7-7.3 0.3-2.4 0.2-3 0.2-18.2-0.6-11.5-1.2-13.9-0.2-6.7 0.2-6.7 1.2-13.3 0.5-9.7 0-13.3-0.1-7.3-0.1-2.4-0.3-2.4-1.4-6.1-0.9-3.4-1.3-3.4-3.8-7.1-1.6-2.2-0.8-0.8-1.2-0.9-7.3-4-3.8-2.4-2.9-2.3-2-0.9-2-0.3-2.7 0.2-1.4 0.3-1.3 0.6-2 1.2M394.5 449.6l3.3 0 4.7-0.5 2-0.4 2-0.7 4.1-2.3 3.6-2.8 3.8-3.6 1.1-1.2 0.8-1.2 1.5-3 1.9-5 0.5-2.3 0.8-4.1 1.5-6.2 0.3-3 0.5-10.3 0.2-8.5-0.5-12.7-0.1-8.5 0.1-8.5 0.5-10.3 0-3.6-0.2-6.1-0.5-11.5-0.5-4-1.3-5.2-0.9-4.7-0.7-2.4-1.8-4.7-1-2-1.1-1.8-1.2-1.4-3.3-3.2-3.4-2.5-4.7-2.8-2-0.7-2-0.4-4-0.5-2-0.1-2 0.1M394.5 442.5l3.3-0.4 4.7-0.8 2-0.5 2-0.9 3.8-3 2.8-3 4.8-6.7 0.8-1.2 0.8-1.8 1.4-3.7 0.9-4.2 0.3-2.4 0.5-5.7 1.3-9.5 0.5-6.6 0.1-18.8-0.1-18.8-0.5-6.6-1.3-9.5-0.5-5.7-0.3-2.4-0.9-4.2-1.4-3.7-0.8-1.8-0.8-1.2-4.8-6.7-2.8-3-3.8-3-2-0.9-2-0.5-4.7-0.8-3.3-0.4M394.5 436.6l3.3-0.3 4.7-1.1 2-0.7 1.4-0.8 0.6-0.5 3.4-3.4 2.1-2.6 1.9-3 4-7.3 0.9-2.4 0.6-2.4 0.4-3.1 0.6-6 0.9-10.9 0.5-18.8-0.5-18.8-0.9-10.9-0.6-6-0.4-3.1-0.6-2.4-0.9-2.4-4-7.3-1.9-3-2.1-2.6-3.4-3.4-0.6-0.5-1.4-0.8-2-0.7-4.7-1.1-3.3-0.3M394.5 431.4l2.7-0.2 3.3-0.8 3.4-1.1 2-1.2 0.9-0.9 3.1-4.1 2.7-4.4 1.9-3.6 1.7-4.3 0.7-2.4 1.1-4.8 0.8-5.5 0.7-6.6 0.5-12.1 0.1-6.1-0.1-6.1-0.5-12.1-0.7-6.6-0.8-5.5-1.1-4.8-0.7-2.4-1.7-4.3-1.9-3.6-2.7-4.4-3.1-4.1-0.9-0.9-2-1.2-3.4-1.1-3.3-0.8-2.7-0.2M394.5 426.9l2-0.2 2.7-0.6 3.3-1.2 2-1.2 1.4-1.1 2.9-3.9 1.5-2.4 1.2-2.4 1.5-3.7 2.3-7.8 1.1-4.3 0.8-4.2 0.3-2.4 0.6-8.5 0.3-9.7-0.3-9.7-0.6-8.5-0.3-2.4-0.8-4.2-1.1-4.3-2.3-7.8-1.5-3.7-1.2-2.4-1.5-2.4-2.9-3.9-1.4-1.1-2-1.2-3.3-1.2-2.7-0.6-2-0.2M394.5 422.4l2-0.2 2-0.5 4-1.6 1.5-0.8 1.2-0.9 0.7-0.7 2.1-3.2 1.2-2.4 1.5-3.7 1.6-4.8 2.6-10.9 1.1-10.3 0.3-4.9 0.1-4.2-0.1-4.2-0.3-4.9-1.1-10.3-2.6-10.9-1.6-4.8-1.5-3.7-1.2-2.4-2.1-3.2-0.7-0.7-1.2-0.9-1.5-0.8-4-1.6-2-0.5-2-0.2M394.5 418.5l2-0.2 2-0.6 3.4-1.4 2-1.2 1.3-1.3 0.7-1 2.3-5 1.2-3 1-3 1.1-4.3 1.1-4.8 1.1-10.3 0.3-4.9 0.1-4.2-0.1-4.2-0.3-4.9-1.1-10.3-1.1-4.8-1.1-4.3-1-3-1.2-3-2.3-5-0.7-1-1.3-1.3-2-1.2-3.4-1.4-2-0.6-2-0.2M394.5 414.8l1.3-0.2 2-0.6 2-0.9 2.7-1.6 1.4-1.1 0.6-0.8 0.7-0.9 0.7-1.4 1.8-4.3 0.8-2.5 1.5-5.4 0.7-3 1-9.7 0.3-4.9 0.1-4.2-0.1-4.2-0.3-4.9-1-9.7-0.7-3-1.5-5.4-0.8-2.5-1.8-4.3-0.7-1.4-0.7-0.9-0.6-0.8-1.4-1.1-2.7-1.6-2-0.9-2-0.6-1.3-0.2M394.5 410.7l1.3-0.1 2-0.8 2-1.1 2.1-1.3 1.3-1.1 0.7-0.8 1.3-2 2.7-7.9 1-4.1 0.9-9.1 0.3-4.9 0.1-4.2-0.1-4.2-0.3-4.9-0.9-9.1-1-4.1-2.7-7.9-1.3-2-0.7-0.8-1.3-1.1-2.1-1.3-2-1.1-2-0.8-1.3-0.1M394.5 406.5l1.3-0.2 1.4-0.4 2-1.1 2-1.3 1.3-1.1 0.7-0.9 0.7-1 0.9-1.8 0.4-1 1.3-4.4 0.4-1.8 0.4-2.5 0.8-7.8 0.3-7.9-0.3-7.9-0.8-7.8-0.4-2.5-0.4-1.8-1.3-4.4-0.4-1-0.9-1.8-0.7-1-0.7-0.9-1.3-1.1-2-1.3-2-1.1-1.4-0.4-1.3-0.2M394.5 402.2l1.3-0.2 1.4-0.4 1.3-0.8 1.8-1.5 1.6-1.5 0.6-0.9 1.4-2.2 0.6-1.4 0.7-2.6 0.7-5.9 0.4-5.4 0.2-6.1-0.2-6.1-0.4-5.4-0.7-5.9-0.7-2.6-0.6-1.4-1.4-2.2-0.6-0.9-1.6-1.5-1.8-1.5-1.3-0.8-1.4-0.4-1.3-0.2M394.5 397.1l1.3-0.1 0.7-0.2 1.3-0.8 2.4-2.1 1-1.2 0.7-1.2 1.3-3.7 0.7-3.6 0.6-5.4 0.2-5.5-0.2-5.5-0.6-5.4-0.7-3.6-1.3-3.7-0.7-1.2-1-1.2-2.4-2.1-1.3-0.8-0.7-0.2-1.3-0.1M394.5 390.9l0.7 0.1 0.4-0.1 0.9-0.6 1.3-1.7 1.4-2.6 1-3 0.7-3 0.4-3.1 0.1-3.6-0.1-3.6-0.4-3.1-0.7-3-1-3-1.4-2.6-1.3-1.7-0.9-0.6-0.4-0.1-0.7 0.1"/>
<path class="cl cd" d="M455.4 411.5l-1.4-0.2-2-0.9-1.3-0.8-2-1.7-2-2-1.4-1.6-1.3-1.9-1.7-3.1-1-2.3-0.8-2.5-0.9-3.6-0.8-3.7-0.9-6.6-0.3-3.7-0.1-3.6 0.1-3.6 0.3-3.7 0.9-6.6 0.8-3.7 0.9-3.6 0.8-2.5 1-2.3 1.7-3.1 1.3-1.9 1.4-1.6 2-2 2-1.7 1.3-0.8 2-0.9 1.4-0.2 1.3 0.1 1.3 0.5 1.1 0.7 0.9 0.8 4 4.3 1.8 2.7 0.9 1.9 0.9 2.4 0.9 3 1 4.2 0.7 3.7 0.9 7.2 0.3 3.7 0.1 3-0.1 3-0.3 3.7-0.9 7.2-0.7 3.7-1 4.2-0.9 3-0.9 2.4-0.9 1.9-1.8 2.7-4 4.3-0.9 0.8-1.1 0.7-1.3 0.5z"/></g>
<rect class="sp" x="394.5" y="276.4" width="107" height="193.8"/>
<rect x="507.8" y="458.65" width="10" height="11.70" fill="#0d3f76"/>
<rect x="507.8" y="447.25" width="10" height="11.70" fill="#1d5fa2"/>
<rect x="507.8" y="435.85" width="10" height="11.70" fill="#307ab6"/>
<rect x="507.8" y="424.45" width="10" height="11.70" fill="#4695c4"/>
<rect x="507.8" y="413.05" width="10" height="11.70" fill="#75b2d4"/>
<rect x="507.8" y="401.65" width="10" height="11.70" fill="#a0cce2"/>
<rect x="507.8" y="390.25" width="10" height="11.70" fill="#c5dfec"/>
<rect x="507.8" y="378.85" width="10" height="11.70" fill="#e0ecf3"/>
<rect x="507.8" y="367.45" width="10" height="11.70" fill="#f7f6f6"/>
<rect x="507.8" y="356.05" width="10" height="11.70" fill="#fbe6da"/>
<rect x="507.8" y="344.65" width="10" height="11.70" fill="#fbd0b9"/>
<rect x="507.8" y="333.25" width="10" height="11.70" fill="#f6b191"/>
<rect x="507.8" y="321.85" width="10" height="11.70" fill="#e98b6e"/>
<rect x="507.8" y="310.45" width="10" height="11.70" fill="#d7634f"/>
<rect x="507.8" y="299.05" width="10" height="11.70" fill="#c2383a"/>
<rect x="507.8" y="287.65" width="10" height="11.70" fill="#a81529"/>
<rect x="507.8" y="276.25" width="10" height="11.70" fill="#7c0722"/>
<rect class="sp" x="507.8" y="276.4" width="10" height="193.8"/>
<text class="tk" x="526.1" y="292.50">5.6</text>
<text class="tk" x="526.1" y="315.30">4.8</text>
<text class="tk" x="526.1" y="338.10">4.0</text>
<text class="tk" x="526.1" y="360.90">3.2</text>
<text class="tk" x="526.1" y="383.70">2.4</text>
<text class="tk" x="526.1" y="406.50">1.6</text>
<text class="tk" x="526.1" y="429.30">0.8</text>
<text class="tk" x="526.1" y="452.10">0</text>
<text class="tk" x="526.1" y="474.90">–0.8</text>
<path class="tick" d="M517.8 287.80h4M517.8 310.60h4M517.8 333.40h4M517.8 356.20h4M517.8 379.00h4M517.8 401.80h4M517.8 424.60h4M517.8 447.40h4M517.8 470.20h4"/>
<text class="tk" style="font-size:13.8px" x="502.9" y="273.50"><tspan style="font-size:18.5px" dy="1.6">×</tspan><tspan dx="-1.5" dy="-1.6"> 10</tspan></text>
<path class="tick" d="M394.50 470.2v4.3M448.00 470.2v4.3M501.50 470.2v4.3"/>
<text class="tk" text-anchor="middle" x="394.50" y="490.20">0</text>
<text class="tk" text-anchor="middle" x="448.00" y="490.20"><tspan class="pi">π</tspan>/2</text>
<text class="tk pi" text-anchor="middle" x="501.50" y="490.20">π</text>
<text class="lb it" text-anchor="middle" x="448.00" y="510.20">r</text>
<g><rect x="614.5" y="276.4" width="107" height="193.8" fill="#0a3b70"/>
<path fill="#185493" fill-rule="evenodd" d="M614.5 470.2l107 0 0-193.8-107 0zM650.6 358.2l-2-0.2-1.3-0.4-1.4-0.6-0.8-0.7-0.5-0.6-0.3-0.6-0.1-1.2 0.4-1.2 0.7-0.8 1-1 1.6-0.9 1.4-0.5 2-0.3 2 0.1 1.3 0.3 1.4 0.6 1 0.7 1.1 1.2 0.4 1.2 0 1.2-0.7 1.2-1.2 1-1.7 0.9-2.3 0.5z"/>
<path fill="#266caf" fill-rule="evenodd" d="M614.5 470.2l107 0 0-193.8-107 0zM648.6 361.2l-3.3-0.5-2.7-0.8-2-1.1-0.7-0.6-0.9-1.3-0.4-0.9-0.2-0.9 0-1.2 0.3-1.2 0.5-1.2 0.8-1.2 1-1.2 1.3-1.2 2.3-1.6 2.7-1.2 2.6-0.7 1.4-0.2 2 0 2.7 0.4 2.6 1 1.4 0.7 1.3 0.9 2 1.9 0.8 1.2 0.6 1.2 0.3 1.2 0 1.2-0.2 1.2-0.6 1.2-0.9 1.1-0.7 0.6-2.2 1.4-1.4 0.6-2.1 0.6-2.3 0.4-2 0.2z"/>
<path fill="#3480b9" fill-rule="evenodd" d="M614.5 470.2l107 0 0-193.8-107 0zM645.3 363l-2.7-0.5-2-0.5-1.9-0.8-1.1-0.6-1.5-1.2-0.9-1.1-0.6-1.4-0.3-1.2 0-1.2 0.3-1.8 0.6-1.8 1-1.8 1-1.5 1.4-1.6 1.3-1.2 2-1.6 1.4-0.8 2-1 3.3-1.2 2-0.4 2-0.1 3.4 0.2 2 0.5 1.3 0.5 2 0.9 1.3 0.8 1.6 1 1.4 1.2 1.1 1.2 1.3 1.7 0.8 1.4 0.8 1.8 0.3 1.8 0 1.8-0.6 1.8-0.8 1.3-1.1 1.2-1.4 1-2 1.1-2.4 0.9-2.3 0.6-2.7 0.5-2.6 0.3-3.4 0.1-2.7-0.1z"/>
<path fill="#4695c4" fill-rule="evenodd" d="M614.5 470.2l107 0 0-193.8-107 0zM646.6 364.9l-5.3-0.7-2.1-0.5-2-0.6-1.5-0.7-1.8-1.1-0.8-0.7-1-1.2-0.6-1.2-0.5-1.9-0.1-1.2 0.2-1.8 0.4-1.8 0.7-1.8 0.9-1.8 1.1-1.9 1.3-1.8 1.7-1.9 1.4-1.3 2-1.6 2-1.4 2-1.2 2-0.8 2-0.7 2-0.4 2-0.2 2 0 2 0.2 2 0.5 2 0.8 2 0.9 2.1 1.3 2.6 2.1 2.5 2.5 2.2 3 1.3 2.5 0.8 2.4 0.3 2.4-0.1 1.2-0.3 1.2-0.9 1.9-1.5 1.8-0.9 0.8-1.6 1-2.5 1.2-3.3 1.1-3.5 0.7-4.5 0.6-4.7 0.2z"/>
<path fill="#6bacd1" fill-rule="evenodd" d="M614.5 470.2l107 0 0-193.8-107 0zM643.3 366.1l-2.7-0.4-2.7-0.5-2-0.5-2-0.8-1.8-0.9-1.5-1.2-1-1.2-0.7-1.2-0.5-1.2-0.3-1.9-0.1-1.8 0.3-2.4 0.5-1.8 0.9-2.4 0.9-1.9 1.3-2.4 1.3-2 2-2.5 2-2.2 2-1.9 2-1.7 2.1-1.4 2.6-1.4 2-0.8 2-0.5 2.1-0.3 2-0.1 2 0.1 2.6 0.6 2 0.7 2 0.9 2.1 1.1 3.3 2.5 3.3 3.3 3.1 3.8 1.1 1.8 1.2 2.2 0.9 2.1 0.5 1.8 0.4 1.8 0.1 1.2-0.1 1.8-0.3 1.2-0.4 1.2-0.6 1.3-1 1.2-1.2 1.2-2.3 1.6-3.2 1.4-4 1.2-4.9 0.9-6 0.6-6 0.1z"/>
<path fill="#8dc2dc" fill-rule="evenodd" d="M614.5 470.2l107 0 0-193.8-107 0zM641.2 367.3l-3.3-0.5-2.7-0.5-2-0.6-2-0.8-1.3-0.7-1.6-1.2-1.1-1.2-0.7-1.2-0.7-1.8-0.3-1.9-0.1-1.8 0.2-2.4 0.4-2.4 0.9-3 1-2.5 1.3-2.9 1.4-2.4 2-3.2 2-2.8 2-2.5 2-2.1 2-1.8 2-1.5 2.7-1.6 2-0.8 2-0.6 2-0.4 2.7-0.1 2 0.1 2.6 0.6 2.7 0.8 2 1 2.5 1.5 2.2 1.5 2 1.8 2 2 2 2.3 2 2.6 1.7 2.5 1.7 2.8 1.3 2.6 0.9 2.5 0.7 2.4 0.4 1.8 0.1 1.8-0.1 1.8-0.4 1.8-0.8 1.9-0.7 1.2-1.1 1.2-1.4 1.2-1.8 1.2-1.8 0.9-2.4 0.9-4.3 1.2-6 1-6.7 0.6-7.4 0.1z"/>
<path fill="#acd2e5" fill-rule="evenodd" d="M614.5 470.2l107 0 0-193.8-107 0zM639.9 368.5l-3.3-0.4-3.4-0.6-2.6-0.8-1.8-0.7-2-1.2-1.3-1.2-1-1.4-0.7-1.6-0.6-2.4-0.2-2.5 0.1-3 0.5-3 0.7-3 1.2-3.7 1.4-3.6 1.6-3.7 2.1-3.9 1.5-2.7 1.8-2.8 2-2.7 1.6-1.8 1.7-1.6 2-1.6 2.1-1.2 2-0.9 2.6-0.8 2.7-0.5 2.7-0.1 2.7 0.1 2.6 0.5 2.7 0.8 2.7 1.1 2.7 1.5 2.3 1.5 2.3 1.9 2.4 2.3 2.3 2.7 2 2.7 2 3 2 3.5 1.7 3.3 1.4 3 1 3 0.8 3.1 0.3 2.4 0 2.4-0.4 2.4-0.7 1.9-1.1 1.8-1 1.2-1.3 1.2-1.8 1.2-2.2 1.1-1.7 0.7-2.3 0.8-2.7 0.7-3.3 0.7-3.4 0.4-8 0.7-9.4 0.2z"/>
<path fill="#c7e0ed" fill-rule="evenodd" d="M614.5 470.2l107 0 0-193.8-107 0zM639.2 369.7l-4-0.4-3.3-0.5-2.7-0.6-2.7-1-1.9-1.2-1.4-1.3-1.1-1.7-0.8-2.4-0.5-3 0-3.7 0.3-3.6 0.8-4.3 1.1-4.8 1.5-5 2-5.8 2-4.9 1.4-2.9 1.4-2.6 1.6-2.4 1.7-2.1 2-2 1.7-1.4 2.3-1.4 2-0.9 2.7-0.9 2.6-0.6 2.7-0.3 2.7 0 2.7 0.2 3.3 0.6 3.3 1 2.7 1 2.7 1.3 2.9 1.8 2.5 1.9 2.7 2.4 2.2 2.4 2.4 3 2 3.1 2 3.4 2.3 4.4 1.8 4.3 1.6 4.2 1 3.7 0.6 3 0.2 3-0.3 3-0.7 2.5-1 1.8-1.4 1.8-1.3 1.2-1.7 1.2-2.2 1.2-2.2 1-2.7 0.8-2.5 0.6-3.5 0.7-3.8 0.6-8.9 0.7-10.7 0.2-5.4-0.1z"/>
<path fill="#ddebf2" fill-rule="evenodd" d="M614.5 470.2l107 0 0-193.8-107 0zM638.6 370.9l-5.4-0.4-4-0.5-2.7-0.6-2.5-0.9-1.9-1.3-1.1-1.2-1.1-1.8-0.7-2.4-0.5-3.6 0-4.3 0.4-5.4 0.7-5.7 1.4-7.1 2-8.8 1.7-6.3 1.8-4.8 1.2-2.5 1.4-2.4 1.8-2.4 1.8-1.8 1.7-1.4 2.5-1.6 2.1-1.1 2.7-1 2.7-0.6 3.3-0.5 3.4-0.2 3.3 0.2 3.4 0.4 3.3 0.8 3.4 1 3.3 1.3 3.3 1.6 3.4 2.1 2.7 2 2.8 2.4 2.9 3.1 2.3 2.9 2.1 3.1 2.1 3.6 2.3 4.9 2.2 5.4 1.9 5.5 1.3 4.8 0.6 3.7 0.2 3.6-0.3 3-0.4 1.9-0.4 1.2-1 1.8-1.3 1.8-1.3 1.3-2 1.4-2 1.2-2.3 0.9-3.1 1-3.3 0.8-3.8 0.7-4.2 0.5-10 0.7-12.8 0.2z"/>
<path fill="#eff3f5" fill-rule="evenodd" d="M614.5 470.2l107 0 0-193.8-107 0zM638.6 372.1l-5.4-0.2-4.7-0.3-3.3-0.4-2.7-0.6-2-0.9-1.4-1.2-0.6-0.8-0.5-1.1-0.6-1.8-0.4-1.8-0.2-2.4-0.2-6.7 0.4-7.9 0.8-9.9 1.4-11.9 1.2-7.8 1.3-6.1 0.8-2.7 0.9-2.1 1.1-2.5 1.5-2.4 1.9-2.3 2-1.8 2-1.4 2.7-1.5 2.6-1 3.4-0.9 3.3-0.6 4-0.3 4.1 0 4 0.3 4 0.6 4 0.9 4 1.2 3.3 1.3 4.1 1.9 4 2.4 3.4 2.4 3.6 3.1 3 3 3 3.6 2.5 3.7 2.4 4.2 2.3 4.8 2.3 6.1 2 6.7 1.8 7.2 0.7 4.9 0.1 4.2-0.2 1.8-0.3 1.8-0.9 3.1-1 1.8-1.4 1.8-2 1.8-1.8 1.2-2.4 1.2-2.4 1-2.7 0.7-3.3 0.7-4.1 0.6-4 0.5-10.7 0.6-15.3 0.3z"/>
<path fill="#f8f1ed" fill-rule="evenodd" d="M614.5 470.2l107 0 0-96.9-107 0z"/>
<path fill="#fbe4d6" fill-rule="evenodd" d="M645.9 455.7l3.4 0.1 3.3 0 3.4-0.3 3.3-0.5 3.3-0.6 3.4-0.9 3.3-1.2 2.7-1.1 2.7-1.2 3.3-1.9 2.7-1.8 2.7-2 2.7-2.2 2.2-2.2 2.2-2.4 2.3-3 2.1-3.1 2.1-3.6 2.1-4.2 1.5-3.7 1.7-4.8 1.6-5.5 1.2-4.8 1-4.9 0.3-3 0.1-3-0.2-3-0.6-2.5-0.9-2.4-1.1-1.8-1.6-1.8-1.4-1.2-2.6-1.7-2.7-1.2-3.3-1-3.4-0.8-4.7-0.7-4.6-0.5-6-0.4-7.4-0.3-10.7-0.2-10.7 0-8.7 0.2-6.7 0.3-4 0.5-2 0.4-1.3 0.5-1.4 0.6-0.7 0.5-1.2 1.4-0.6 1.2-0.6 1.8-0.4 1.8-0.2 2.4-0.2 6.7 0.4 7.9 1.1 12.1 1.6 13.3 1.3 7.3 0.7 3 0.9 3 1.6 3.6 1.8 3.1 2 2.4 1.2 1.2 1.6 1.2 3.1 1.8 3.3 1.4 4 1z"/>
<path fill="#fcd3bc" fill-rule="evenodd" d="M646.7 446l2.6 0.2 2.7 0 2.6-0.1 3.4-0.4 2.6-0.6 2.7-0.7 2.7-0.9 2.7-1.2 2.3-1.2 2.4-1.3 2.5-1.7 2.3-1.8 2-1.8 1.8-1.9 2.1-2.4 1.8-2.4 2-3 1.7-3 1.8-3.7 1.8-4.2 1.8-4.9 1.3-4.2 1-3.6 0.6-3.7 0.2-2.4 0-2.4-0.4-2.4-0.5-1.9-0.8-1.8-1.2-1.8-1.7-1.8-1.6-1.2-2.5-1.5-3.3-1.3-3.4-1-4-0.8-4.7-0.6-5.3-0.5-6.1-0.4-7.3-0.2-7.4 0-7.3 0.1-5.4 0.3-4.6 0.5-3.4 0.6-2.7 0.9-2 1.1-1.5 1.6-0.8 1.2-0.7 1.8-0.4 1.8-0.3 1.8-0.1 4.9 0.4 6 1.1 7.9 1.9 9.1 2.1 8.5 2 6 1.7 3.7 1.8 3 1.9 2.4 2.3 2.1 2.7 1.9 3.3 1.6 3.4 1z"/>
<path fill="#f8bb9e" fill-rule="evenodd" d="M646.9 438.1l2.4 0.4 2 0.1 2 0 2.7-0.2 2.6-0.5 2-0.4 2.7-0.9 2-0.8 4-2.1 2-1.3 2.1-1.6 2-1.7 1.8-1.9 1.6-1.8 1.9-2.4 2-3 1.8-3.1 1.6-3 1.7-3.7 1.5-3.6 1.1-3 0.9-3 0.6-3.1 0.3-2.4-0.1-2.4-0.2-1.8-0.5-1.9-0.8-1.8-0.8-1.2-1.6-1.8-1.5-1.2-2.7-1.6-2.6-1.2-3.4-1-4-0.9-4.7-0.7-5.3-0.5-6-0.4-6-0.1-6.1 0-6 0.2-4.7 0.5-4 0.6-3.1 0.9-2.2 0.9-2 1.5-1 1.2-0.8 1.2-0.5 1.2-0.5 1.8-0.2 1.8-0.1 3.7 0.4 4.8 1.1 5.5 1.4 5.4 2.2 6.5 2.4 6.2 1.7 3.7 1.9 3.3 2 2.8 2 2.2 2 1.7 2.7 1.7 3.3 1.4z"/>
<path fill="#f2a17f" fill-rule="evenodd" d="M651 431.4l3.6 0.1 2-0.2 2-0.4 2-0.6 2-0.7 2.1-0.9 2-1.2 3.3-2.3 2-1.8 1.7-1.6 3.1-3.7 3.3-4.8 3-5.5 2.2-4.8 1.3-4.3 0.5-2.4 0.2-1.8-0.1-1.8-0.2-1.8-0.6-1.9-0.6-1.2-0.8-1.2-1-1.2-1.3-1.2-1.8-1.2-2.4-1.2-3.2-1.2-3.3-0.9-4-0.8-4.7-0.6-4.7-0.3-5.3-0.3-6 0-4.7 0.2-4 0.3-3.6 0.6-3.1 0.6-2 0.7-2.2 1.1-1.6 1.2-1.5 1.8-0.6 1.2-0.4 1.2-0.6 3.1 0.1 3.6 0.6 4.2 1.2 4.3 1.6 4.6 2 4.5 2.7 5.1 2 3.3 2.2 3.1 2.1 2.4 2.4 2.2 2.7 1.8 2.7 1.3 2.6 0.8z"/>
<path fill="#e48066" fill-rule="evenodd" d="M650 424.2l3.3 0.3 3.3-0.2 3.4-0.9 2-0.7 1.8-0.9 2.9-1.9 3.3-2.7 3.2-3.3 2.9-3.7 2.7-4.2 2.1-4.2 1.3-3.7 0.4-1.8 0.2-1.8 0-1.8-0.2-1.2-0.8-2.5-0.6-1.2-0.9-1.2-1.2-1.2-1.1-0.8-2-1.2-2.6-1.3-3-0.9-3.1-0.8-4-0.6-4-0.5-4.7-0.3-4.7-0.1-4.6 0.1-4.1 0.3-4 0.6-2.6 0.6-2.7 0.9-2 1-1.6 1.2-1.1 1.2-1 1.8-0.5 1.8-0.3 2.5 0.2 3 0.6 3 1 3.2 1.3 3.2 2.1 3.8 2 3.2 2.6 3.7 2.7 3 2 1.9 2 1.7 2.7 1.6 2.7 1.2z"/>
<path fill="#d7634f" fill-rule="evenodd" d="M650.4 417.5l2.9 0.3 3.3-0.2 3.4-0.9 2.6-1.2 2.7-1.6 3.2-2.4 2.8-2.9 2.2-2.6 2-3 1.6-3.1 1-3 0.4-1.8 0.1-1.2-0.2-2.4-0.4-1.2-0.5-1.3-1.3-1.8-2-1.8-1.9-1.2-2.8-1.2-2.8-0.9-2.7-0.6-3.4-0.6-3.3-0.4-4-0.2-4-0.1-4 0.2-3.4 0.3-3.1 0.5-2.5 0.6-2.4 0.9-1.8 0.9-1.5 1.2-1 1.2-1 1.8-0.5 1.9-0.1 1.8 0.2 2.4 0.6 2.4 0.9 2.4 1.2 2.5 1.7 2.8 2 2.7 2 2.3 2 2 2.6 2.3 2.1 1.4 2.6 1.4 2 0.8z"/>
<path fill="#c6413e" fill-rule="evenodd" d="M649.2 411.5l2.8 0.4 2.6 0 2.7-0.4 2.7-0.8 2.6-1.2 2.1-1.3 2.6-2.1 2-1.9 2-2.4 1.4-2.5 1.1-2.4 0.5-2.4 0.1-1.2-0.1-1.2-0.5-1.8-1.1-1.9-1.1-1.2-1.5-1.2-2.1-1.2-2-0.8-2-0.7-2.7-0.6-2.7-0.5-3.3-0.4-3.3-0.1-3.4 0-3.3 0.1-2.7 0.4-2.7 0.5-2 0.6-2 0.8-1.3 0.8-1.5 1.1-1 1.2-0.6 1.2-0.5 1.9-0.1 1.8 0.3 1.8 0.5 1.8 0.9 2.1 1.2 2.1 1.4 2.1 1.4 1.6 2 2 2 1.6 2 1.4 2 1.2 2 0.8z"/>
<path fill="#b72230" fill-rule="evenodd" d="M649.6 406.6l2.4 0.3 2 0 2-0.2 2-0.5 2-0.7 2-1 2-1.4 2-1.7 1.3-1.6 1.2-1.7 0.9-1.8 0.5-1.8 0-1.8-0.2-1.2-0.8-1.8-0.9-1.3-1.4-1.2-1.3-0.8-2-1-1.7-0.6-2.3-0.6-2.7-0.5-4.6-0.4-2.7 0-2.7 0.1-2 0.3-2.6 0.5-1.9 0.6-1.4 0.6-1.5 0.9-1.1 0.9-0.9 1.2-0.6 1.3-0.3 1.2 0 1.2 0.3 1.7 0.4 1.3 0.8 1.8 0.8 1.2 1.3 1.7 1.3 1.4 1.4 1.2 2 1.4 1.3 0.8 2 0.9 2 0.7z"/>
<path fill="#991027" fill-rule="evenodd" d="M651.5 402.4l1.8 0 1.3-0.2 2.7-0.6 2.7-1.3 1.4-1 1.2-1.1 1.5-1.9 0.6-1.2 0.3-1.2 0-1.2-0.2-1.2-0.6-1.2-0.4-0.6-1.2-1.1-1-0.8-2.3-1-2.7-0.8-3.7-0.6-3.6 0-3.4 0.3-1.3 0.3-1.9 0.6-1.2 0.6-0.9 0.6-0.7 0.6-0.9 1.3-0.4 0.9-0.2 0.9 0 1.2 0.3 1.2 0.5 1.2 0.8 1.2 1 1.2 1.3 1.2 1.6 1.2 1.1 0.7 2.9 1.1 2 0.5z"/>
<path fill="#760521" fill-rule="evenodd" d="M648.6 396.9l2 0.5 2 0 2-0.4 1.6-0.7 1.5-1.2 0.7-1.2 0.2-1.2-0.4-1.2-0.9-1.1-1-0.7-1.7-0.7-2-0.5-2-0.1-1.3 0.1-2 0.5-1.4 0.6-0.8 0.7-0.5 0.6-0.3 0.6-0.1 0.6 0.2 1.2 0.7 1.2 0.8 0.9 1.3 0.9z"/>
<path class="cl" d="M721.5 373.3l-107 0M645.9 455.7l3.4 0.1 3.3 0 3.4-0.3 3.3-0.5 3.3-0.6 3.4-0.9 3.3-1.2 2.7-1.1 2.7-1.2 3.3-1.9 2.7-1.8 2.7-2 2.7-2.2 2.2-2.2 2.2-2.4 2.3-3 2.1-3.1 2.1-3.6 2.1-4.2 1.5-3.7 1.7-4.8 1.6-5.5 1.2-4.8 1-4.9 0.3-3 0.1-3-0.2-3-0.6-2.5-0.9-2.4-1.1-1.8-1.6-1.8-1.4-1.2-2.6-1.7-2.7-1.2-3.3-1-3.4-0.8-4.7-0.7-4.6-0.5-6-0.4-7.4-0.3-10.7-0.2-10.7 0-8.7 0.2-6.7 0.3-4 0.5-2 0.4-1.3 0.5-1.4 0.6-0.7 0.5-1.2 1.4-0.6 1.2-0.6 1.8-0.4 1.8-0.2 2.4-0.2 6.7 0.4 7.9 1.1 12.1 1.6 13.3 1.3 7.3 0.7 3 0.9 3 1.6 3.6 1.8 3.1 2 2.4 1.2 1.2 1.6 1.2 3.1 1.8 3.3 1.4 4 1zM646.7 446l2.6 0.2 2.7 0 2.6-0.1 3.4-0.4 2.6-0.6 2.7-0.7 2.7-0.9 2.7-1.2 2.3-1.2 2.4-1.3 2.5-1.7 2.3-1.8 2-1.8 1.8-1.9 2.1-2.4 1.8-2.4 2-3 1.7-3 1.8-3.7 1.8-4.2 1.8-4.9 1.3-4.2 1-3.6 0.6-3.7 0.2-2.4 0-2.4-0.4-2.4-0.5-1.9-0.8-1.8-1.2-1.8-1.7-1.8-1.6-1.2-2.5-1.5-3.3-1.3-3.4-1-4-0.8-4.7-0.6-5.3-0.5-6.1-0.4-7.3-0.2-7.4 0-7.3 0.1-5.4 0.3-4.6 0.5-3.4 0.6-2.7 0.9-2 1.1-1.5 1.6-0.8 1.2-0.7 1.8-0.4 1.8-0.3 1.8-0.1 4.9 0.4 6 1.1 7.9 1.9 9.1 2.1 8.5 2 6 1.7 3.7 1.8 3 1.9 2.4 2.3 2.1 2.7 1.9 3.3 1.6 3.4 1zM646.9 438.1l2.4 0.4 2 0.1 2 0 2.7-0.2 2.6-0.5 2-0.4 2.7-0.9 2-0.8 4-2.1 2-1.3 2.1-1.6 2-1.7 1.8-1.9 1.6-1.8 1.9-2.4 2-3 1.8-3.1 1.6-3 1.7-3.7 1.5-3.6 1.1-3 0.9-3 0.6-3.1 0.3-2.4-0.1-2.4-0.2-1.8-0.5-1.9-0.8-1.8-0.8-1.2-1.6-1.8-1.5-1.2-2.7-1.6-2.6-1.2-3.4-1-4-0.9-4.7-0.7-5.3-0.5-6-0.4-6-0.1-6.1 0-6 0.2-4.7 0.5-4 0.6-3.1 0.9-2.2 0.9-2 1.5-1 1.2-0.8 1.2-0.5 1.2-0.5 1.8-0.2 1.8-0.1 3.7 0.4 4.8 1.1 5.5 1.4 5.4 2.2 6.5 2.4 6.2 1.7 3.7 1.9 3.3 2 2.8 2 2.2 2 1.7 2.7 1.7 3.3 1.4zM651 431.4l3.6 0.1 2-0.2 2-0.4 2-0.6 2-0.7 2.1-0.9 2-1.2 3.3-2.3 2-1.8 1.7-1.6 3.1-3.7 3.3-4.8 3-5.5 2.2-4.8 1.3-4.3 0.5-2.4 0.2-1.8-0.1-1.8-0.2-1.8-0.6-1.9-0.6-1.2-0.8-1.2-1-1.2-1.3-1.2-1.8-1.2-2.4-1.2-3.2-1.2-3.3-0.9-4-0.8-4.7-0.6-4.7-0.3-5.3-0.3-6 0-4.7 0.2-4 0.3-3.6 0.6-3.1 0.6-2 0.7-2.2 1.1-1.6 1.2-1.5 1.8-0.6 1.2-0.4 1.2-0.6 3.1 0.1 3.6 0.6 4.2 1.2 4.3 1.6 4.6 2 4.5 2.7 5.1 2 3.3 2.2 3.1 2.1 2.4 2.4 2.2 2.7 1.8 2.7 1.3 2.6 0.8zM650 424.2l3.3 0.3 3.3-0.2 3.4-0.9 2-0.7 1.8-0.9 2.9-1.9 3.3-2.7 3.2-3.3 2.9-3.7 2.7-4.2 2.1-4.2 1.3-3.7 0.4-1.8 0.2-1.8 0-1.8-0.2-1.2-0.8-2.5-0.6-1.2-0.9-1.2-1.2-1.2-1.1-0.8-2-1.2-2.6-1.3-3-0.9-3.1-0.8-4-0.6-4-0.5-4.7-0.3-4.7-0.1-4.6 0.1-4.1 0.3-4 0.6-2.6 0.6-2.7 0.9-2 1-1.6 1.2-1.1 1.2-1 1.8-0.5 1.8-0.3 2.5 0.2 3 0.6 3 1 3.2 1.3 3.2 2.1 3.8 2 3.2 2.6 3.7 2.7 3 2 1.9 2 1.7 2.7 1.6 2.7 1.2zM650.4 417.5l2.9 0.3 3.3-0.2 3.4-0.9 2.6-1.2 2.7-1.6 3.2-2.4 2.8-2.9 2.2-2.6 2-3 1.6-3.1 1-3 0.4-1.8 0.1-1.2-0.2-2.4-0.4-1.2-0.5-1.3-1.3-1.8-2-1.8-1.9-1.2-2.8-1.2-2.8-0.9-2.7-0.6-3.4-0.6-3.3-0.4-4-0.2-4-0.1-4 0.2-3.4 0.3-3.1 0.5-2.5 0.6-2.4 0.9-1.8 0.9-1.5 1.2-1 1.2-1 1.8-0.5 1.9-0.1 1.8 0.2 2.4 0.6 2.4 0.9 2.4 1.2 2.5 1.7 2.8 2 2.7 2 2.3 2 2 2.6 2.3 2.1 1.4 2.6 1.4 2 0.8zM649.2 411.5l2.8 0.4 2.6 0 2.7-0.4 2.7-0.8 2.6-1.2 2.1-1.3 2.6-2.1 2-1.9 2-2.4 1.4-2.5 1.1-2.4 0.5-2.4 0.1-1.2-0.1-1.2-0.5-1.8-1.1-1.9-1.1-1.2-1.5-1.2-2.1-1.2-2-0.8-2-0.7-2.7-0.6-2.7-0.5-3.3-0.4-3.3-0.1-3.4 0-3.3 0.1-2.7 0.4-2.7 0.5-2 0.6-2 0.8-1.3 0.8-1.5 1.1-1 1.2-0.6 1.2-0.5 1.9-0.1 1.8 0.3 1.8 0.5 1.8 0.9 2.1 1.2 2.1 1.4 2.1 1.4 1.6 2 2 2 1.6 2 1.4 2 1.2 2 0.8zM649.6 406.6l2.4 0.3 2 0 2-0.2 2-0.5 2-0.7 2-1 2-1.4 2-1.7 1.3-1.6 1.2-1.7 0.9-1.8 0.5-1.8 0-1.8-0.2-1.2-0.8-1.8-0.9-1.3-1.4-1.2-1.3-0.8-2-1-1.7-0.6-2.3-0.6-2.7-0.5-4.6-0.4-2.7 0-2.7 0.1-2 0.3-2.6 0.5-1.9 0.6-1.4 0.6-1.5 0.9-1.1 0.9-0.9 1.2-0.6 1.3-0.3 1.2 0 1.2 0.3 1.7 0.4 1.3 0.8 1.8 0.8 1.2 1.3 1.7 1.3 1.4 1.4 1.2 2 1.4 1.3 0.8 2 0.9 2 0.7zM651.5 402.4l1.8 0 1.3-0.2 2.7-0.6 2.7-1.3 1.4-1 1.2-1.1 1.5-1.9 0.6-1.2 0.3-1.2 0-1.2-0.2-1.2-0.6-1.2-0.4-0.6-1.2-1.1-1-0.8-2.3-1-2.7-0.8-3.7-0.6-3.6 0-3.4 0.3-1.3 0.3-1.9 0.6-1.2 0.6-0.9 0.6-0.7 0.6-0.9 1.3-0.4 0.9-0.2 0.9 0 1.2 0.3 1.2 0.5 1.2 0.8 1.2 1 1.2 1.3 1.2 1.6 1.2 1.1 0.7 2.9 1.1 2 0.5zM648.6 396.9l2 0.5 2 0 2-0.4 1.6-0.7 1.5-1.2 0.7-1.2 0.2-1.2-0.4-1.2-0.9-1.1-1-0.7-1.7-0.7-2-0.5-2-0.1-1.3 0.1-2 0.5-1.4 0.6-0.8 0.7-0.5 0.6-0.3 0.6-0.1 0.6 0.2 1.2 0.7 1.2 0.8 0.9 1.3 0.9z"/>
<path class="cl cd" d="M650.6 358.2l-2-0.2-1.3-0.4-1.4-0.6-0.8-0.7-0.5-0.6-0.3-0.6-0.1-1.2 0.4-1.2 0.7-0.8 1-1 1.6-0.9 1.4-0.5 2-0.3 2 0.1 1.3 0.3 1.4 0.6 1 0.7 1.1 1.2 0.4 1.2 0 1.2-0.7 1.2-1.2 1-1.7 0.9-2.3 0.5zM648.6 361.2l-3.3-0.5-2.7-0.8-2-1.1-0.7-0.6-0.9-1.3-0.4-0.9-0.2-0.9 0-1.2 0.3-1.2 0.5-1.2 0.8-1.2 1-1.2 1.3-1.2 2.3-1.6 2.7-1.2 2.6-0.7 1.4-0.2 2 0 2.7 0.4 2.6 1 1.4 0.7 1.3 0.9 2 1.9 0.8 1.2 0.6 1.2 0.3 1.2 0 1.2-0.2 1.2-0.6 1.2-0.9 1.1-0.7 0.6-2.2 1.4-1.4 0.6-2.1 0.6-2.3 0.4-2 0.2zM645.3 363l-2.7-0.5-2-0.5-1.9-0.8-1.1-0.6-1.5-1.2-0.9-1.1-0.6-1.4-0.3-1.2 0-1.2 0.3-1.8 0.6-1.8 1-1.8 1-1.5 1.4-1.6 1.3-1.2 2-1.6 1.4-0.8 2-1 3.3-1.2 2-0.4 2-0.1 3.4 0.2 2 0.5 1.3 0.5 2 0.9 1.3 0.8 1.6 1 1.4 1.2 1.1 1.2 1.3 1.7 0.8 1.4 0.8 1.8 0.3 1.8 0 1.8-0.6 1.8-0.8 1.3-1.1 1.2-1.4 1-2 1.1-2.4 0.9-2.3 0.6-2.7 0.5-2.6 0.3-3.4 0.1-2.7-0.1zM646.6 364.9l-5.3-0.7-2.1-0.5-2-0.6-1.5-0.7-1.8-1.1-0.8-0.7-1-1.2-0.6-1.2-0.5-1.9-0.1-1.2 0.2-1.8 0.4-1.8 0.7-1.8 0.9-1.8 1.1-1.9 1.3-1.8 1.7-1.9 1.4-1.3 2-1.6 2-1.4 2-1.2 2-0.8 2-0.7 2-0.4 2-0.2 2 0 2 0.2 2 0.5 2 0.8 2 0.9 2.1 1.3 2.6 2.1 2.5 2.5 2.2 3 1.3 2.5 0.8 2.4 0.3 2.4-0.1 1.2-0.3 1.2-0.9 1.9-1.5 1.8-0.9 0.8-1.6 1-2.5 1.2-3.3 1.1-3.5 0.7-4.5 0.6-4.7 0.2zM643.3 366.1l-2.7-0.4-2.7-0.5-2-0.5-2-0.8-1.8-0.9-1.5-1.2-1-1.2-0.7-1.2-0.5-1.2-0.3-1.9-0.1-1.8 0.3-2.4 0.5-1.8 0.9-2.4 0.9-1.9 1.3-2.4 1.3-2 2-2.5 2-2.2 2-1.9 2-1.7 2.1-1.4 2.6-1.4 2-0.8 2-0.5 2.1-0.3 2-0.1 2 0.1 2.6 0.6 2 0.7 2 0.9 2.1 1.1 3.3 2.5 3.3 3.3 3.1 3.8 1.1 1.8 1.2 2.2 0.9 2.1 0.5 1.8 0.4 1.8 0.1 1.2-0.1 1.8-0.3 1.2-0.4 1.2-0.6 1.3-1 1.2-1.2 1.2-2.3 1.6-3.2 1.4-4 1.2-4.9 0.9-6 0.6-6 0.1zM641.2 367.3l-3.3-0.5-2.7-0.5-2-0.6-2-0.8-1.3-0.7-1.6-1.2-1.1-1.2-0.7-1.2-0.7-1.8-0.3-1.9-0.1-1.8 0.2-2.4 0.4-2.4 0.9-3 1-2.5 1.3-2.9 1.4-2.4 2-3.2 2-2.8 2-2.5 2-2.1 2-1.8 2-1.5 2.7-1.6 2-0.8 2-0.6 2-0.4 2.7-0.1 2 0.1 2.6 0.6 2.7 0.8 2 1 2.5 1.5 2.2 1.5 2 1.8 2 2 2 2.3 2 2.6 1.7 2.5 1.7 2.8 1.3 2.6 0.9 2.5 0.7 2.4 0.4 1.8 0.1 1.8-0.1 1.8-0.4 1.8-0.8 1.9-0.7 1.2-1.1 1.2-1.4 1.2-1.8 1.2-1.8 0.9-2.4 0.9-4.3 1.2-6 1-6.7 0.6-7.4 0.1zM639.9 368.5l-3.3-0.4-3.4-0.6-2.6-0.8-1.8-0.7-2-1.2-1.3-1.2-1-1.4-0.7-1.6-0.6-2.4-0.2-2.5 0.1-3 0.5-3 0.7-3 1.2-3.7 1.4-3.6 1.6-3.7 2.1-3.9 1.5-2.7 1.8-2.8 2-2.7 1.6-1.8 1.7-1.6 2-1.6 2.1-1.2 2-0.9 2.6-0.8 2.7-0.5 2.7-0.1 2.7 0.1 2.6 0.5 2.7 0.8 2.7 1.1 2.7 1.5 2.3 1.5 2.3 1.9 2.4 2.3 2.3 2.7 2 2.7 2 3 2 3.5 1.7 3.3 1.4 3 1 3 0.8 3.1 0.3 2.4 0 2.4-0.4 2.4-0.7 1.9-1.1 1.8-1 1.2-1.3 1.2-1.8 1.2-2.2 1.1-1.7 0.7-2.3 0.8-2.7 0.7-3.3 0.7-3.4 0.4-8 0.7-9.4 0.2zM639.2 369.7l-4-0.4-3.3-0.5-2.7-0.6-2.7-1-1.9-1.2-1.4-1.3-1.1-1.7-0.8-2.4-0.5-3 0-3.7 0.3-3.6 0.8-4.3 1.1-4.8 1.5-5 2-5.8 2-4.9 1.4-2.9 1.4-2.6 1.6-2.4 1.7-2.1 2-2 1.7-1.4 2.3-1.4 2-0.9 2.7-0.9 2.6-0.6 2.7-0.3 2.7 0 2.7 0.2 3.3 0.6 3.3 1 2.7 1 2.7 1.3 2.9 1.8 2.5 1.9 2.7 2.4 2.2 2.4 2.4 3 2 3.1 2 3.4 2.3 4.4 1.8 4.3 1.6 4.2 1 3.7 0.6 3 0.2 3-0.3 3-0.7 2.5-1 1.8-1.4 1.8-1.3 1.2-1.7 1.2-2.2 1.2-2.2 1-2.7 0.8-2.5 0.6-3.5 0.7-3.8 0.6-8.9 0.7-10.7 0.2-5.4-0.1zM638.6 370.9l-5.4-0.4-4-0.5-2.7-0.6-2.5-0.9-1.9-1.3-1.1-1.2-1.1-1.8-0.7-2.4-0.5-3.6 0-4.3 0.4-5.4 0.7-5.7 1.4-7.1 2-8.8 1.7-6.3 1.8-4.8 1.2-2.5 1.4-2.4 1.8-2.4 1.8-1.8 1.7-1.4 2.5-1.6 2.1-1.1 2.7-1 2.7-0.6 3.3-0.5 3.4-0.2 3.3 0.2 3.4 0.4 3.3 0.8 3.4 1 3.3 1.3 3.3 1.6 3.4 2.1 2.7 2 2.8 2.4 2.9 3.1 2.3 2.9 2.1 3.1 2.1 3.6 2.3 4.9 2.2 5.4 1.9 5.5 1.3 4.8 0.6 3.7 0.2 3.6-0.3 3-0.4 1.9-0.4 1.2-1 1.8-1.3 1.8-1.3 1.3-2 1.4-2 1.2-2.3 0.9-3.1 1-3.3 0.8-3.8 0.7-4.2 0.5-10 0.7-12.8 0.2zM638.6 372.1l-5.4-0.2-4.7-0.3-3.3-0.4-2.7-0.6-2-0.9-1.4-1.2-0.6-0.8-0.5-1.1-0.6-1.8-0.4-1.8-0.2-2.4-0.2-6.7 0.4-7.9 0.8-9.9 1.4-11.9 1.2-7.8 1.3-6.1 0.8-2.7 0.9-2.1 1.1-2.5 1.5-2.4 1.9-2.3 2-1.8 2-1.4 2.7-1.5 2.6-1 3.4-0.9 3.3-0.6 4-0.3 4.1 0 4 0.3 4 0.6 4 0.9 4 1.2 3.3 1.3 4.1 1.9 4 2.4 3.4 2.4 3.6 3.1 3 3 3 3.6 2.5 3.7 2.4 4.2 2.3 4.8 2.3 6.1 2 6.7 1.8 7.2 0.7 4.9 0.1 4.2-0.2 1.8-0.3 1.8-0.9 3.1-1 1.8-1.4 1.8-2 1.8-1.8 1.2-2.4 1.2-2.4 1-2.7 0.7-3.3 0.7-4.1 0.6-4 0.5-10.7 0.6-15.3 0.3z"/></g>
<rect class="sp" x="614.5" y="276.4" width="107" height="193.8"/>
<rect x="727.8" y="461.24" width="10" height="9.11" fill="#0a3b70"/>
<rect x="727.8" y="452.43" width="10" height="9.11" fill="#185493"/>
<rect x="727.8" y="443.62" width="10" height="9.11" fill="#266caf"/>
<rect x="727.8" y="434.81" width="10" height="9.11" fill="#3480b9"/>
<rect x="727.8" y="426.00" width="10" height="9.11" fill="#4695c4"/>
<rect x="727.8" y="417.20" width="10" height="9.11" fill="#6bacd1"/>
<rect x="727.8" y="408.39" width="10" height="9.11" fill="#8dc2dc"/>
<rect x="727.8" y="399.58" width="10" height="9.11" fill="#acd2e5"/>
<rect x="727.8" y="390.77" width="10" height="9.11" fill="#c7e0ed"/>
<rect x="727.8" y="381.96" width="10" height="9.11" fill="#ddebf2"/>
<rect x="727.8" y="373.15" width="10" height="9.11" fill="#eff3f5"/>
<rect x="727.8" y="364.34" width="10" height="9.11" fill="#f8f1ed"/>
<rect x="727.8" y="355.53" width="10" height="9.11" fill="#fbe4d6"/>
<rect x="727.8" y="346.72" width="10" height="9.11" fill="#fcd3bc"/>
<rect x="727.8" y="337.91" width="10" height="9.11" fill="#f8bb9e"/>
<rect x="727.8" y="329.10" width="10" height="9.11" fill="#f2a17f"/>
<rect x="727.8" y="320.30" width="10" height="9.11" fill="#e48066"/>
<rect x="727.8" y="311.49" width="10" height="9.11" fill="#d7634f"/>
<rect x="727.8" y="302.68" width="10" height="9.11" fill="#c6413e"/>
<rect x="727.8" y="293.87" width="10" height="9.11" fill="#b72230"/>
<rect x="727.8" y="285.06" width="10" height="9.11" fill="#991027"/>
<rect x="727.8" y="276.25" width="10" height="9.11" fill="#760521"/>
<rect class="sp" x="727.8" y="276.4" width="10" height="193.8"/>
<text class="tk" x="746.1" y="298.72">1.8</text>
<text class="tk" x="746.1" y="325.15">1.2</text>
<text class="tk" x="746.1" y="351.57">0.6</text>
<text class="tk" x="746.1" y="378.00">0</text>
<text class="tk" x="746.1" y="404.43">–0.6</text>
<text class="tk" x="746.1" y="430.85">–1.2</text>
<text class="tk" x="746.1" y="457.28">–1.8</text>
<path class="tick" d="M737.8 294.02h4M737.8 320.45h4M737.8 346.87h4M737.8 373.30h4M737.8 399.73h4M737.8 426.15h4M737.8 452.58h4"/>
<text class="tk" style="font-size:13.8px" x="722.9" y="273.50"><tspan style="font-size:18.5px" dy="1.6">×</tspan><tspan dx="-1.5" dy="-1.6"> 10</tspan></text>
<path class="tick" d="M614.5 276.40h-4.3M614.5 324.85h-4.3M614.5 373.30h-4.3M614.5 421.75h-4.3M614.5 470.20h-4.3"/>
<text class="tk pi" text-anchor="end" x="603" y="280.70">π</text>
<text class="tk" text-anchor="end" x="599.5" y="377.65">0</text>
<text class="tk pi" text-anchor="end" x="603" y="474.50">π</text>
<path class="tick" d="M585.9 471.80h7.3" style="stroke-width:.8"/>
<text class="tk pi" style="font-size:15px" text-anchor="middle" x="595.3" y="320.85">π</text>
<path class="tick" d="M591.7 324.95h7.2" style="stroke-width:.75"/>
<text class="tk" text-anchor="middle" x="595.3" y="337.05">2</text>
<text class="tk pi" style="font-size:15px" text-anchor="middle" x="595.3" y="417.75">π</text>
<path class="tick" d="M591.7 421.85h7.2" style="stroke-width:.75"/>
<text class="tk" text-anchor="middle" x="595.3" y="433.95">2</text>
<path class="tick" d="M581.2 421.65h7.3" style="stroke-width:.8"/>
<text class="lb it" text-anchor="middle" x="570" y="378.30">z</text>
<path class="tick" d="M614.50 470.2v4.3M668.00 470.2v4.3M721.50 470.2v4.3"/>
<text class="tk" text-anchor="middle" x="614.50" y="490.20">0</text>
<text class="tk" text-anchor="middle" x="668.00" y="490.20"><tspan class="pi">π</tspan>/2</text>
<text class="tk pi" text-anchor="middle" x="721.50" y="490.20">π</text>
<text class="lb it" text-anchor="middle" x="668.00" y="510.20">r</text>
<text class="lb it" text-anchor="middle" x="124.30" y="42">ω<tspan class="sub" dx="-1.3" dy="4.6">r</tspan></text>
<text class="lb it" text-anchor="middle" x="286.30" y="42">ω<tspan class="sub" dx="-1.3" dy="4.6">θ</tspan></text>
<text class="lb it" text-anchor="middle" x="448.30" y="42">ω<tspan class="sub" dx="-1.3" dy="4.6">z</tspan></text>
<text class="lb it" text-anchor="middle" x="668.30" y="42">ω<tspan class="sub" dx="-1.3" dy="4.6">θ</tspan></text>
<text class="lb" text-anchor="middle" x="286.5" y="16.3">vorticity: <tspan class="it">ω</tspan><tspan class="it sub" dy="5.2">z</tspan><tspan dy="-5.2">(0, 0) = 60.0</tspan></text>
<text class="lb" text-anchor="middle" x="667.5" y="16.3">strain: <tspan style="font-size:20px">∂</tspan><tspan class="it sub" dy="5.2">z</tspan><tspan class="it" dy="-5.2">u</tspan><tspan class="it sub" dy="5.2">z</tspan><tspan dy="-5.2">(0, 0) = –25.0</tspan></text>
<text class="lb" text-anchor="middle" transform="translate(14.9 146.30) rotate(-90)">average event from DNS</text>
<text class="lb" text-anchor="middle" transform="translate(14.9 373.30) rotate(-90)">instanton</text>
</svg>
</body></html>
